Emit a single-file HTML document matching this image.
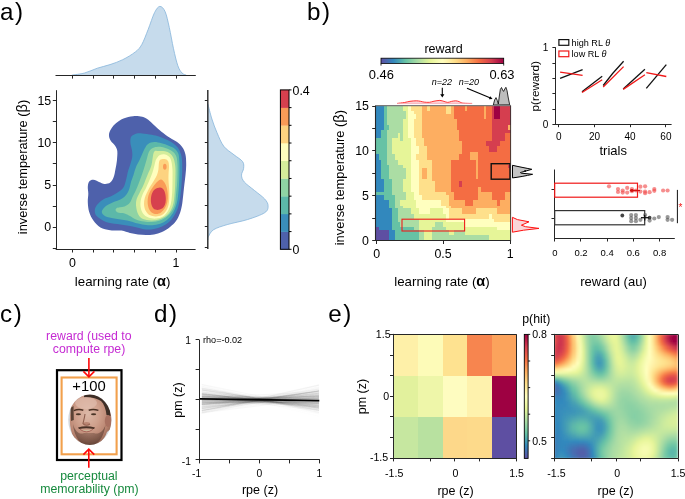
<!DOCTYPE html>
<html><head><meta charset="utf-8"><style>
html,body{margin:0;padding:0;background:#fff;width:685px;height:499px;overflow:hidden}
svg{display:block;will-change:transform}
text{font-family:"Liberation Sans",sans-serif}
</style></head><body>
<svg width="685" height="499" viewBox="0 0 685 499" font-family="Liberation Sans, sans-serif">
<rect width="685" height="499" fill="#fff"/>
<path d="M133.10,116.20 C136.22,115.90 139.68,116.20 142.20,116.80 C144.72,117.40 146.20,118.40 148.20,119.80 C150.20,121.20 151.98,123.20 154.20,125.20 C156.42,127.20 158.88,129.70 161.50,131.80 C164.12,133.90 167.30,136.08 169.90,137.80 C172.50,139.52 175.00,140.48 177.10,142.10 C179.20,143.72 181.10,145.40 182.50,147.50 C183.90,149.60 184.88,151.78 185.50,154.70 C186.12,157.62 186.20,161.62 186.20,165.00 C186.20,168.38 185.82,171.67 185.50,175.00 C185.18,178.33 184.70,181.45 184.30,185.00 C183.90,188.55 183.48,192.97 183.10,196.30 C182.72,199.63 182.52,202.22 182.00,205.00 C181.48,207.78 181.00,210.33 180.00,213.00 C179.00,215.67 177.67,218.67 176.00,221.00 C174.33,223.33 172.33,225.17 170.00,227.00 C167.67,228.83 164.67,230.75 162.00,232.00 C159.33,233.25 156.67,234.00 154.00,234.50 C151.33,235.00 148.67,235.00 146.00,235.00 C143.33,235.00 140.67,234.83 138.00,234.50 C135.33,234.17 132.75,233.65 130.00,233.00 C127.25,232.35 124.80,231.05 121.50,230.60 C118.20,230.15 113.72,230.82 110.20,230.30 C106.68,229.78 103.20,229.13 100.40,227.50 C97.60,225.87 95.27,223.07 93.40,220.50 C91.53,217.93 90.13,215.15 89.20,212.10 C88.27,209.05 87.95,205.25 87.80,202.20 C87.65,199.15 88.30,196.37 88.30,193.80 C88.30,191.23 87.65,188.87 87.80,186.80 C87.95,184.73 88.27,182.57 89.20,181.40 C90.13,180.23 91.77,179.72 93.40,179.80 C95.03,179.88 97.13,181.20 99.00,181.90 C100.87,182.60 102.73,183.88 104.60,184.00 C106.47,184.12 108.68,183.77 110.20,182.60 C111.72,181.43 112.82,179.27 113.70,177.00 C114.58,174.73 114.97,171.72 115.50,169.00 C116.03,166.28 116.60,163.68 116.90,160.70 C117.20,157.72 117.60,153.60 117.30,151.10 C117.00,148.60 116.17,147.40 115.10,145.70 C114.03,144.00 111.92,142.52 110.90,140.90 C109.88,139.28 109.12,137.72 109.00,136.00 C108.88,134.28 109.18,132.60 110.20,130.60 C111.22,128.60 112.88,126.00 115.10,124.00 C117.32,122.00 120.50,119.90 123.50,118.60 C126.50,117.30 129.98,116.50 133.10,116.20Z" fill="#4e61ab" stroke="none" stroke-width="1"/>
<path d="M131.30,136.60 C132.35,135.08 134.88,134.13 136.70,133.60 C138.52,133.07 139.68,133.20 142.20,133.40 C144.72,133.60 149.00,134.27 151.80,134.80 C154.60,135.33 156.58,135.80 159.00,136.60 C161.42,137.40 164.08,138.58 166.30,139.60 C168.52,140.62 170.40,141.38 172.30,142.70 C174.20,144.02 176.30,145.70 177.70,147.50 C179.10,149.30 179.98,151.42 180.70,153.50 C181.42,155.58 181.75,157.25 182.00,160.00 C182.25,162.75 182.28,165.83 182.20,170.00 C182.12,174.17 181.78,180.83 181.50,185.00 C181.22,189.17 180.83,192.33 180.50,195.00 C180.17,197.67 180.00,198.67 179.50,201.00 C179.00,203.33 178.42,206.50 177.50,209.00 C176.58,211.50 175.42,213.83 174.00,216.00 C172.58,218.17 171.00,220.25 169.00,222.00 C167.00,223.75 164.50,225.33 162.00,226.50 C159.50,227.67 156.67,228.50 154.00,229.00 C151.33,229.50 148.50,229.67 146.00,229.50 C143.50,229.33 141.67,228.58 139.00,228.00 C136.33,227.42 133.63,226.67 130.00,226.00 C126.37,225.33 121.20,224.68 117.20,224.00 C113.20,223.32 109.38,223.18 106.00,221.90 C102.62,220.62 98.77,218.17 96.90,216.30 C95.03,214.43 94.80,212.58 94.80,210.70 C94.80,208.82 95.50,206.88 96.90,205.00 C98.30,203.12 100.52,201.03 103.20,199.40 C105.88,197.77 109.72,197.07 113.00,195.20 C116.28,193.33 120.67,191.00 122.90,188.20 C125.13,185.40 125.58,181.10 126.40,178.40 C127.22,175.70 127.08,174.55 127.80,172.00 C128.52,169.45 129.95,165.78 130.70,163.10 C131.45,160.42 132.10,158.10 132.30,155.90 C132.50,153.70 132.22,152.10 131.90,149.90 C131.58,147.70 130.50,144.92 130.40,142.70 C130.30,140.48 130.25,138.12 131.30,136.60Z" fill="#3a8eba" stroke="none" stroke-width="1"/>
<path d="M144.60,148.70 C145.97,146.18 146.60,145.00 148.20,143.90 C149.80,142.80 151.98,142.20 154.20,142.10 C156.42,142.00 159.08,142.70 161.50,143.30 C163.92,143.90 166.50,144.80 168.70,145.70 C170.90,146.60 173.10,147.40 174.70,148.70 C176.30,150.00 177.53,151.53 178.30,153.50 C179.07,155.47 179.10,157.75 179.30,160.50 C179.50,163.25 179.55,165.92 179.50,170.00 C179.45,174.08 179.28,180.33 179.00,185.00 C178.72,189.67 178.30,194.50 177.80,198.00 C177.30,201.50 176.80,203.50 176.00,206.00 C175.20,208.50 174.33,210.83 173.00,213.00 C171.67,215.17 169.83,217.33 168.00,219.00 C166.17,220.67 164.33,222.00 162.00,223.00 C159.67,224.00 156.67,224.67 154.00,225.00 C151.33,225.33 148.67,225.23 146.00,225.00 C143.33,224.77 141.15,224.35 138.00,223.60 C134.85,222.85 131.03,221.37 127.10,220.50 C123.17,219.63 118.03,219.10 114.40,218.40 C110.77,217.70 107.40,217.35 105.30,216.30 C103.20,215.25 101.92,213.62 101.80,212.10 C101.68,210.58 102.97,208.72 104.60,207.20 C106.23,205.68 108.55,204.53 111.60,203.00 C114.65,201.47 120.08,200.00 122.90,198.00 C125.72,196.00 127.15,193.67 128.50,191.00 C129.85,188.33 130.17,184.67 131.00,182.00 C131.83,179.33 132.67,177.50 133.50,175.00 C134.33,172.50 134.92,169.67 136.00,167.00 C137.08,164.33 138.57,162.05 140.00,159.00 C141.43,155.95 143.23,151.22 144.60,148.70Z" fill="#5cb8a9" stroke="none" stroke-width="1"/>
<path d="M149.40,151.10 C150.68,149.02 152.18,148.20 154.20,147.50 C156.22,146.80 159.28,146.70 161.50,146.90 C163.72,147.10 165.50,147.80 167.50,148.70 C169.50,149.60 172.00,150.90 173.50,152.30 C175.00,153.70 175.83,154.98 176.50,157.10 C177.17,159.22 177.33,162.02 177.50,165.00 C177.67,167.98 177.58,171.67 177.50,175.00 C177.42,178.33 177.25,181.67 177.00,185.00 C176.75,188.33 176.33,191.83 176.00,195.00 C175.67,198.17 175.67,201.33 175.00,204.00 C174.33,206.67 173.33,208.92 172.00,211.00 C170.67,213.08 169.00,214.92 167.00,216.50 C165.00,218.08 162.50,219.58 160.00,220.50 C157.50,221.42 154.67,221.83 152.00,222.00 C149.33,222.17 146.67,221.92 144.00,221.50 C141.33,221.08 138.33,220.42 136.00,219.50 C133.67,218.58 131.60,216.88 130.00,216.00 C128.40,215.12 127.60,214.68 126.40,214.20 C125.20,213.72 124.23,213.40 122.80,213.10 C121.37,212.80 119.00,212.88 117.80,212.40 C116.60,211.92 115.82,210.90 115.60,210.20 C115.38,209.50 115.77,208.68 116.50,208.20 C117.23,207.72 118.67,207.60 120.00,207.30 C121.33,207.00 123.17,206.87 124.50,206.40 C125.83,205.93 127.00,205.27 128.00,204.50 C129.00,203.73 129.75,203.05 130.50,201.80 C131.25,200.55 131.58,198.97 132.50,197.00 C133.42,195.03 134.75,192.83 136.00,190.00 C137.25,187.17 138.75,183.33 140.00,180.00 C141.25,176.67 142.42,173.33 143.50,170.00 C144.58,166.67 145.52,163.15 146.50,160.00 C147.48,156.85 148.12,153.18 149.40,151.10Z" fill="#8fd3a4" stroke="none" stroke-width="1"/>
<path d="M154.00,152.00 C155.25,149.67 157.17,151.12 159.00,151.00 C160.83,150.88 163.17,150.88 165.00,151.30 C166.83,151.72 168.63,152.47 170.00,153.50 C171.37,154.53 172.40,155.92 173.20,157.50 C174.00,159.08 174.42,160.92 174.80,163.00 C175.18,165.08 175.43,166.33 175.50,170.00 C175.57,173.67 175.37,180.83 175.20,185.00 C175.03,189.17 174.78,192.00 174.50,195.00 C174.22,198.00 174.08,200.50 173.50,203.00 C172.92,205.50 172.17,207.92 171.00,210.00 C169.83,212.08 168.50,213.92 166.50,215.50 C164.50,217.08 161.58,218.68 159.00,219.50 C156.42,220.32 153.67,220.48 151.00,220.40 C148.33,220.32 145.12,219.98 143.00,219.00 C140.88,218.02 139.43,216.50 138.30,214.50 C137.17,212.50 136.52,209.42 136.20,207.00 C135.88,204.58 135.85,202.33 136.40,200.00 C136.95,197.67 138.32,195.50 139.50,193.00 C140.68,190.50 142.17,188.00 143.50,185.00 C144.83,182.00 146.17,178.33 147.50,175.00 C148.83,171.67 150.42,168.83 151.50,165.00 C152.58,161.17 152.75,154.33 154.00,152.00Z" fill="#d5ed9b" stroke="none" stroke-width="1"/>
<path d="M157.00,158.00 C157.75,157.00 158.67,155.58 160.00,155.00 C161.33,154.42 163.42,154.17 165.00,154.50 C166.58,154.83 168.42,155.75 169.50,157.00 C170.58,158.25 171.00,159.83 171.50,162.00 C172.00,164.17 172.33,167.00 172.50,170.00 C172.67,173.00 172.53,176.67 172.50,180.00 C172.47,183.33 172.42,187.17 172.30,190.00 C172.18,192.83 172.05,194.67 171.80,197.00 C171.55,199.33 171.43,201.67 170.80,204.00 C170.17,206.33 169.30,208.92 168.00,211.00 C166.70,213.08 165.00,215.23 163.00,216.50 C161.00,217.77 158.42,218.42 156.00,218.60 C153.58,218.78 150.67,218.45 148.50,217.60 C146.33,216.75 144.32,215.27 143.00,213.50 C141.68,211.73 140.97,209.25 140.60,207.00 C140.23,204.75 140.43,202.17 140.80,200.00 C141.17,197.83 141.93,196.00 142.80,194.00 C143.67,192.00 144.88,190.33 146.00,188.00 C147.12,185.67 148.45,182.50 149.50,180.00 C150.55,177.50 151.50,175.33 152.30,173.00 C153.10,170.67 153.77,168.00 154.30,166.00 C154.83,164.00 155.05,162.33 155.50,161.00 C155.95,159.67 156.25,159.00 157.00,158.00Z" fill="#fffebe" stroke="none" stroke-width="1"/>
<path d="M160.00,160.00 C160.95,159.17 163.17,158.83 164.50,159.00 C165.83,159.17 167.25,159.83 168.00,161.00 C168.75,162.17 168.90,164.00 169.00,166.00 C169.10,168.00 168.68,170.67 168.60,173.00 C168.52,175.33 168.40,177.17 168.50,180.00 C168.60,182.83 169.07,187.00 169.20,190.00 C169.33,193.00 169.42,195.50 169.30,198.00 C169.18,200.50 169.05,202.83 168.50,205.00 C167.95,207.17 167.17,209.28 166.00,211.00 C164.83,212.72 163.25,214.40 161.50,215.30 C159.75,216.20 157.50,216.45 155.50,216.40 C153.50,216.35 151.17,215.98 149.50,215.00 C147.83,214.02 146.42,212.33 145.50,210.50 C144.58,208.67 144.12,206.08 144.00,204.00 C143.88,201.92 144.30,199.92 144.80,198.00 C145.30,196.08 146.05,194.50 147.00,192.50 C147.95,190.50 149.33,188.00 150.50,186.00 C151.67,184.00 152.92,182.33 154.00,180.50 C155.08,178.67 156.25,176.92 157.00,175.00 C157.75,173.08 158.20,170.83 158.50,169.00 C158.80,167.17 158.55,165.50 158.80,164.00 C159.05,162.50 159.05,160.83 160.00,160.00Z" fill="#fdd380" stroke="none" stroke-width="1"/>
<path d="M161.00,179.50 C162.25,179.58 163.53,181.08 164.50,182.50 C165.47,183.92 166.25,185.92 166.80,188.00 C167.35,190.08 167.72,192.67 167.80,195.00 C167.88,197.33 167.77,199.83 167.30,202.00 C166.83,204.17 166.05,206.25 165.00,208.00 C163.95,209.75 162.42,211.50 161.00,212.50 C159.58,213.50 158.00,213.95 156.50,214.00 C155.00,214.05 153.28,213.72 152.00,212.80 C150.72,211.88 149.53,210.30 148.80,208.50 C148.07,206.70 147.68,204.08 147.60,202.00 C147.52,199.92 147.85,197.83 148.30,196.00 C148.75,194.17 149.47,192.58 150.30,191.00 C151.13,189.42 152.18,188.00 153.30,186.50 C154.42,185.00 155.72,183.17 157.00,182.00 C158.28,180.83 159.75,179.42 161.00,179.50Z" fill="#f99b57" stroke="none" stroke-width="1"/>
<path d="M160.00,187.60 C161.42,187.63 162.62,188.43 163.50,189.50 C164.38,190.57 164.92,192.25 165.30,194.00 C165.68,195.75 165.88,198.17 165.80,200.00 C165.72,201.83 165.43,203.57 164.80,205.00 C164.17,206.43 163.22,207.78 162.00,208.60 C160.78,209.42 158.92,209.92 157.50,209.90 C156.08,209.88 154.53,209.48 153.50,208.50 C152.47,207.52 151.73,205.58 151.30,204.00 C150.87,202.42 150.78,200.75 150.90,199.00 C151.02,197.25 151.32,195.12 152.00,193.50 C152.68,191.88 153.67,190.28 155.00,189.30 C156.33,188.32 158.58,187.57 160.00,187.60Z" fill="#d6404e" stroke="none" stroke-width="1"/>
<ellipse cx="164.8" cy="166.8" rx="1.8" ry="3" fill="#f99b57"/>
<text x="0.00" y="20.00" font-size="24.2" text-anchor="start" fill="#000">a<tspan dx="1.6">)</tspan></text>
<path d="M71.90,75.10 C74.02,74.75 80.37,74.15 84.60,73.00 C88.83,71.85 93.07,69.60 97.30,68.20 C101.53,66.80 105.77,66.02 110.00,64.60 C114.23,63.18 118.47,61.82 122.70,59.70 C126.93,57.58 132.22,54.43 135.40,51.90 C138.58,49.37 139.68,48.22 141.80,44.50 C143.92,40.78 145.98,34.90 148.10,29.60 C150.22,24.30 152.55,16.57 154.50,12.70 C156.45,8.83 158.03,6.58 159.80,6.40 C161.57,6.22 163.52,8.08 165.10,11.60 C166.68,15.12 167.90,21.32 169.30,27.50 C170.70,33.68 172.08,42.35 173.50,48.70 C174.92,55.05 176.38,61.55 177.80,65.60 C179.22,69.65 180.60,71.42 182.00,73.00 C183.40,74.58 185.50,74.75 186.20,75.10 Z" fill="#c6dbec" stroke="none" stroke-width="1"/>
<path d="M71.90,75.10 C74.02,74.75 80.37,74.15 84.60,73.00 C88.83,71.85 93.07,69.60 97.30,68.20 C101.53,66.80 105.77,66.02 110.00,64.60 C114.23,63.18 118.47,61.82 122.70,59.70 C126.93,57.58 132.22,54.43 135.40,51.90 C138.58,49.37 139.68,48.22 141.80,44.50 C143.92,40.78 145.98,34.90 148.10,29.60 C150.22,24.30 152.55,16.57 154.50,12.70 C156.45,8.83 158.03,6.58 159.80,6.40 C161.57,6.22 163.52,8.08 165.10,11.60 C166.68,15.12 167.90,21.32 169.30,27.50 C170.70,33.68 172.08,42.35 173.50,48.70 C174.92,55.05 176.38,61.55 177.80,65.60 C179.22,69.65 180.60,71.42 182.00,73.00 C183.40,74.58 185.50,74.75 186.20,75.10" fill="none" stroke="#86b5da" stroke-width="0.8"/>
<line x1="55.50" y1="75.50" x2="195.80" y2="75.50" stroke="#262626" stroke-width="1"/>
<line x1="72.50" y1="75.30" x2="72.50" y2="78.60" stroke="#262626" stroke-width="1"/>
<line x1="93.50" y1="75.30" x2="93.50" y2="78.60" stroke="#262626" stroke-width="1"/>
<line x1="113.50" y1="75.30" x2="113.50" y2="78.60" stroke="#262626" stroke-width="1"/>
<line x1="134.50" y1="75.30" x2="134.50" y2="78.60" stroke="#262626" stroke-width="1"/>
<line x1="155.50" y1="75.30" x2="155.50" y2="78.60" stroke="#262626" stroke-width="1"/>
<line x1="176.50" y1="75.30" x2="176.50" y2="78.60" stroke="#262626" stroke-width="1"/>
<line x1="56.50" y1="90.20" x2="56.50" y2="250.00" stroke="#262626" stroke-width="1"/>
<line x1="55.70" y1="249.50" x2="195.60" y2="249.50" stroke="#262626" stroke-width="1"/>
<line x1="52.80" y1="248.50" x2="56.20" y2="248.50" stroke="#262626" stroke-width="1"/>
<line x1="52.80" y1="227.50" x2="56.20" y2="227.50" stroke="#262626" stroke-width="1"/>
<line x1="52.80" y1="206.50" x2="56.20" y2="206.50" stroke="#262626" stroke-width="1"/>
<line x1="52.80" y1="185.50" x2="56.20" y2="185.50" stroke="#262626" stroke-width="1"/>
<line x1="52.80" y1="163.50" x2="56.20" y2="163.50" stroke="#262626" stroke-width="1"/>
<line x1="52.80" y1="142.50" x2="56.20" y2="142.50" stroke="#262626" stroke-width="1"/>
<line x1="52.80" y1="121.50" x2="56.20" y2="121.50" stroke="#262626" stroke-width="1"/>
<line x1="52.80" y1="100.50" x2="56.20" y2="100.50" stroke="#262626" stroke-width="1"/>
<line x1="72.50" y1="249.30" x2="72.50" y2="252.50" stroke="#262626" stroke-width="1"/>
<line x1="93.50" y1="249.30" x2="93.50" y2="252.50" stroke="#262626" stroke-width="1"/>
<line x1="113.50" y1="249.30" x2="113.50" y2="252.50" stroke="#262626" stroke-width="1"/>
<line x1="134.50" y1="249.30" x2="134.50" y2="252.50" stroke="#262626" stroke-width="1"/>
<line x1="155.50" y1="249.30" x2="155.50" y2="252.50" stroke="#262626" stroke-width="1"/>
<line x1="176.50" y1="249.30" x2="176.50" y2="252.50" stroke="#262626" stroke-width="1"/>
<text x="51.20" y="104.90" font-size="12.4" text-anchor="end" fill="#000">15</text>
<text x="51.20" y="146.90" font-size="12.4" text-anchor="end" fill="#000">10</text>
<text x="51.20" y="188.90" font-size="12.4" text-anchor="end" fill="#000">5</text>
<text x="51.20" y="230.90" font-size="12.4" text-anchor="end" fill="#000">0</text>
<text x="72.40" y="266.70" font-size="12.4" text-anchor="middle" fill="#000">0</text>
<text x="176.00" y="266.70" font-size="12.4" text-anchor="middle" fill="#000">1</text>
<text x="122.60" y="285.90" font-size="13.3" text-anchor="middle" fill="#000">learning rate (<tspan font-size="14.6" font-weight="bold">α</tspan>)</text>
<text x="26.60" y="167.00" font-size="12.8" text-anchor="middle" fill="#000" transform="rotate(-90 26.6 167)">inverse temperature (<tspan font-size="14.7">β</tspan>)</text>
<path d="M207.80,103.70 C208.48,106.25 210.37,114.17 211.90,119.00 C213.43,123.83 215.02,128.15 217.00,132.70 C218.98,137.25 220.97,142.62 223.80,146.30 C226.63,149.98 230.87,152.25 234.00,154.80 C237.13,157.35 241.00,159.33 242.60,161.60 C244.20,163.87 243.78,166.13 243.60,168.40 C243.42,170.67 241.38,172.93 241.50,175.20 C241.62,177.47 242.13,179.45 244.30,182.00 C246.47,184.55 251.10,187.67 254.50,190.50 C257.90,193.33 262.43,196.43 264.70,199.00 C266.97,201.57 268.10,203.62 268.10,205.90 C268.10,208.18 268.10,210.43 264.70,212.70 C261.30,214.97 253.95,217.52 247.70,219.50 C241.45,221.48 232.88,222.90 227.20,224.60 C221.52,226.30 216.72,227.72 213.60,229.70 C210.48,231.68 209.47,234.78 208.50,236.50 C207.53,238.22 207.92,239.42 207.80,240.00 Z" fill="#c6dbec" stroke="none" stroke-width="1"/>
<path d="M207.80,103.70 C208.48,106.25 210.37,114.17 211.90,119.00 C213.43,123.83 215.02,128.15 217.00,132.70 C218.98,137.25 220.97,142.62 223.80,146.30 C226.63,149.98 230.87,152.25 234.00,154.80 C237.13,157.35 241.00,159.33 242.60,161.60 C244.20,163.87 243.78,166.13 243.60,168.40 C243.42,170.67 241.38,172.93 241.50,175.20 C241.62,177.47 242.13,179.45 244.30,182.00 C246.47,184.55 251.10,187.67 254.50,190.50 C257.90,193.33 262.43,196.43 264.70,199.00 C266.97,201.57 268.10,203.62 268.10,205.90 C268.10,208.18 268.10,210.43 264.70,212.70 C261.30,214.97 253.95,217.52 247.70,219.50 C241.45,221.48 232.88,222.90 227.20,224.60 C221.52,226.30 216.72,227.72 213.60,229.70 C210.48,231.68 209.47,234.78 208.50,236.50 C207.53,238.22 207.92,239.42 207.80,240.00" fill="none" stroke="#86b5da" stroke-width="0.8"/>
<line x1="207.80" y1="90.10" x2="207.80" y2="249.00" stroke="#262626" stroke-width="1.4"/>
<line x1="204.80" y1="247.50" x2="208.00" y2="247.50" stroke="#262626" stroke-width="1"/>
<line x1="204.80" y1="226.50" x2="208.00" y2="226.50" stroke="#262626" stroke-width="1"/>
<line x1="204.80" y1="205.50" x2="208.00" y2="205.50" stroke="#262626" stroke-width="1"/>
<line x1="204.80" y1="184.50" x2="208.00" y2="184.50" stroke="#262626" stroke-width="1"/>
<line x1="204.80" y1="163.50" x2="208.00" y2="163.50" stroke="#262626" stroke-width="1"/>
<line x1="204.80" y1="142.50" x2="208.00" y2="142.50" stroke="#262626" stroke-width="1"/>
<line x1="204.80" y1="121.50" x2="208.00" y2="121.50" stroke="#262626" stroke-width="1"/>
<line x1="204.80" y1="100.50" x2="208.00" y2="100.50" stroke="#262626" stroke-width="1"/>
<rect x="280.40" y="231.59" width="8.60" height="18.01" fill="#4e61ab" stroke="none" stroke-width="1"/>
<rect x="280.40" y="213.88" width="8.60" height="18.01" fill="#3a8eba" stroke="none" stroke-width="1"/>
<rect x="280.40" y="196.17" width="8.60" height="18.01" fill="#5cb8a9" stroke="none" stroke-width="1"/>
<rect x="280.40" y="178.46" width="8.60" height="18.01" fill="#8fd3a4" stroke="none" stroke-width="1"/>
<rect x="280.40" y="160.74" width="8.60" height="18.01" fill="#d5ed9b" stroke="none" stroke-width="1"/>
<rect x="280.40" y="143.03" width="8.60" height="18.01" fill="#fffebe" stroke="none" stroke-width="1"/>
<rect x="280.40" y="125.32" width="8.60" height="18.01" fill="#fdd380" stroke="none" stroke-width="1"/>
<rect x="280.40" y="107.61" width="8.60" height="18.01" fill="#f99b57" stroke="none" stroke-width="1"/>
<rect x="280.40" y="89.90" width="8.60" height="18.01" fill="#d6404e" stroke="none" stroke-width="1"/>
<rect x="280.40" y="89.90" width="8.60" height="159.40" fill="none" stroke="#000" stroke-width="1"/>
<line x1="289.00" y1="249.30" x2="291.50" y2="249.30" stroke="#000" stroke-width="1"/>
<line x1="289.00" y1="231.59" x2="291.50" y2="231.59" stroke="#000" stroke-width="1"/>
<line x1="289.00" y1="213.88" x2="291.50" y2="213.88" stroke="#000" stroke-width="1"/>
<line x1="289.00" y1="196.17" x2="291.50" y2="196.17" stroke="#000" stroke-width="1"/>
<line x1="289.00" y1="178.46" x2="291.50" y2="178.46" stroke="#000" stroke-width="1"/>
<line x1="289.00" y1="160.74" x2="291.50" y2="160.74" stroke="#000" stroke-width="1"/>
<line x1="289.00" y1="143.03" x2="291.50" y2="143.03" stroke="#000" stroke-width="1"/>
<line x1="289.00" y1="125.32" x2="291.50" y2="125.32" stroke="#000" stroke-width="1"/>
<line x1="289.00" y1="107.61" x2="291.50" y2="107.61" stroke="#000" stroke-width="1"/>
<line x1="289.00" y1="89.90" x2="291.50" y2="89.90" stroke="#000" stroke-width="1"/>
<text x="292.50" y="95.20" font-size="12.4" text-anchor="start" fill="#000">0.4</text>
<text x="292.50" y="253.60" font-size="12.4" text-anchor="start" fill="#000">0</text>
<text x="307.00" y="20.00" font-size="24.2" text-anchor="start" fill="#000">b<tspan dx="1.6">)</tspan></text>
<g shape-rendering="crispEdges"><rect x="376.00" y="106.00" width="8.47" height="3.09" fill="#3288bd"/><rect x="384.07" y="106.00" width="3.09" height="3.09" fill="#66c2a5"/><rect x="386.76" y="106.00" width="16.54" height="3.09" fill="#abdda4"/><rect x="402.90" y="106.00" width="5.78" height="3.09" fill="#e6f598"/><rect x="408.28" y="106.00" width="3.09" height="3.09" fill="#ffffbf"/><rect x="410.97" y="106.00" width="11.16" height="3.09" fill="#fee08b"/><rect x="421.73" y="106.00" width="5.78" height="3.09" fill="#fdae61"/><rect x="427.11" y="106.00" width="3.09" height="3.09" fill="#fee08b"/><rect x="429.80" y="106.00" width="16.54" height="3.09" fill="#fdae61"/><rect x="445.94" y="106.00" width="5.78" height="3.09" fill="#fee08b"/><rect x="451.32" y="106.00" width="3.09" height="3.09" fill="#fdae61"/><rect x="454.01" y="106.00" width="11.16" height="3.09" fill="#f46d43"/><rect x="464.77" y="106.00" width="3.09" height="3.09" fill="#fdae61"/><rect x="467.46" y="106.00" width="16.54" height="3.09" fill="#f46d43"/><rect x="483.60" y="106.00" width="3.09" height="3.09" fill="#fdae61"/><rect x="486.29" y="106.00" width="5.78" height="3.09" fill="#f46d43"/><rect x="491.67" y="106.00" width="3.09" height="3.09" fill="#d53e4f"/><rect x="494.36" y="106.00" width="5.78" height="3.09" fill="#9e0142"/><rect x="499.74" y="106.00" width="11.16" height="3.09" fill="#d53e4f"/><rect x="376.00" y="108.69" width="8.47" height="3.09" fill="#3288bd"/><rect x="384.07" y="108.69" width="3.09" height="3.09" fill="#66c2a5"/><rect x="386.76" y="108.69" width="16.54" height="3.09" fill="#abdda4"/><rect x="402.90" y="108.69" width="5.78" height="3.09" fill="#e6f598"/><rect x="408.28" y="108.69" width="3.09" height="3.09" fill="#ffffbf"/><rect x="410.97" y="108.69" width="11.16" height="3.09" fill="#fee08b"/><rect x="421.73" y="108.69" width="5.78" height="3.09" fill="#fdae61"/><rect x="427.11" y="108.69" width="3.09" height="3.09" fill="#fee08b"/><rect x="429.80" y="108.69" width="16.54" height="3.09" fill="#fdae61"/><rect x="445.94" y="108.69" width="5.78" height="3.09" fill="#fee08b"/><rect x="451.32" y="108.69" width="3.09" height="3.09" fill="#fdae61"/><rect x="454.01" y="108.69" width="11.16" height="3.09" fill="#f46d43"/><rect x="464.77" y="108.69" width="3.09" height="3.09" fill="#fdae61"/><rect x="467.46" y="108.69" width="16.54" height="3.09" fill="#f46d43"/><rect x="483.60" y="108.69" width="3.09" height="3.09" fill="#fdae61"/><rect x="486.29" y="108.69" width="5.78" height="3.09" fill="#f46d43"/><rect x="491.67" y="108.69" width="3.09" height="3.09" fill="#d53e4f"/><rect x="494.36" y="108.69" width="5.78" height="3.09" fill="#9e0142"/><rect x="499.74" y="108.69" width="11.16" height="3.09" fill="#d53e4f"/><rect x="376.00" y="111.38" width="8.47" height="3.09" fill="#3288bd"/><rect x="384.07" y="111.38" width="3.09" height="3.09" fill="#66c2a5"/><rect x="386.76" y="111.38" width="19.23" height="3.09" fill="#abdda4"/><rect x="405.59" y="111.38" width="3.09" height="3.09" fill="#e6f598"/><rect x="408.28" y="111.38" width="5.78" height="3.09" fill="#ffffbf"/><rect x="413.66" y="111.38" width="8.47" height="3.09" fill="#fee08b"/><rect x="421.73" y="111.38" width="24.61" height="3.09" fill="#fdae61"/><rect x="445.94" y="111.38" width="5.78" height="3.09" fill="#fee08b"/><rect x="451.32" y="111.38" width="3.09" height="3.09" fill="#fdae61"/><rect x="454.01" y="111.38" width="29.99" height="3.09" fill="#f46d43"/><rect x="483.60" y="111.38" width="3.09" height="3.09" fill="#fdae61"/><rect x="486.29" y="111.38" width="5.78" height="3.09" fill="#f46d43"/><rect x="491.67" y="111.38" width="3.09" height="3.09" fill="#d53e4f"/><rect x="494.36" y="111.38" width="5.78" height="3.09" fill="#9e0142"/><rect x="499.74" y="111.38" width="11.16" height="3.09" fill="#d53e4f"/><rect x="376.00" y="114.07" width="8.47" height="3.09" fill="#3288bd"/><rect x="384.07" y="114.07" width="3.09" height="3.09" fill="#66c2a5"/><rect x="386.76" y="114.07" width="19.23" height="3.09" fill="#abdda4"/><rect x="405.59" y="114.07" width="3.09" height="3.09" fill="#e6f598"/><rect x="408.28" y="114.07" width="8.47" height="3.09" fill="#ffffbf"/><rect x="416.35" y="114.07" width="5.78" height="3.09" fill="#fee08b"/><rect x="421.73" y="114.07" width="32.68" height="3.09" fill="#fdae61"/><rect x="454.01" y="114.07" width="29.99" height="3.09" fill="#f46d43"/><rect x="483.60" y="114.07" width="3.09" height="3.09" fill="#fdae61"/><rect x="486.29" y="114.07" width="5.78" height="3.09" fill="#f46d43"/><rect x="491.67" y="114.07" width="3.09" height="3.09" fill="#d53e4f"/><rect x="494.36" y="114.07" width="5.78" height="3.09" fill="#9e0142"/><rect x="499.74" y="114.07" width="11.16" height="3.09" fill="#d53e4f"/><rect x="376.00" y="116.76" width="8.47" height="3.09" fill="#3288bd"/><rect x="384.07" y="116.76" width="3.09" height="3.09" fill="#66c2a5"/><rect x="386.76" y="116.76" width="19.23" height="3.09" fill="#abdda4"/><rect x="405.59" y="116.76" width="3.09" height="3.09" fill="#e6f598"/><rect x="408.28" y="116.76" width="8.47" height="3.09" fill="#ffffbf"/><rect x="416.35" y="116.76" width="5.78" height="3.09" fill="#fee08b"/><rect x="421.73" y="116.76" width="32.68" height="3.09" fill="#fdae61"/><rect x="454.01" y="116.76" width="29.99" height="3.09" fill="#f46d43"/><rect x="483.60" y="116.76" width="3.09" height="3.09" fill="#fdae61"/><rect x="486.29" y="116.76" width="5.78" height="3.09" fill="#f46d43"/><rect x="491.67" y="116.76" width="3.09" height="3.09" fill="#d53e4f"/><rect x="494.36" y="116.76" width="5.78" height="3.09" fill="#9e0142"/><rect x="499.74" y="116.76" width="11.16" height="3.09" fill="#d53e4f"/><rect x="376.00" y="119.45" width="8.47" height="3.09" fill="#3288bd"/><rect x="384.07" y="119.45" width="3.09" height="3.09" fill="#66c2a5"/><rect x="386.76" y="119.45" width="16.54" height="3.09" fill="#abdda4"/><rect x="402.90" y="119.45" width="5.78" height="3.09" fill="#e6f598"/><rect x="408.28" y="119.45" width="5.78" height="3.09" fill="#ffffbf"/><rect x="413.66" y="119.45" width="8.47" height="3.09" fill="#fee08b"/><rect x="421.73" y="119.45" width="35.37" height="3.09" fill="#fdae61"/><rect x="456.70" y="119.45" width="35.37" height="3.09" fill="#f46d43"/><rect x="491.67" y="119.45" width="19.23" height="3.09" fill="#d53e4f"/><rect x="376.00" y="122.14" width="8.47" height="3.09" fill="#3288bd"/><rect x="384.07" y="122.14" width="3.09" height="3.09" fill="#66c2a5"/><rect x="386.76" y="122.14" width="16.54" height="3.09" fill="#abdda4"/><rect x="402.90" y="122.14" width="5.78" height="3.09" fill="#e6f598"/><rect x="408.28" y="122.14" width="5.78" height="3.09" fill="#ffffbf"/><rect x="413.66" y="122.14" width="8.47" height="3.09" fill="#fee08b"/><rect x="421.73" y="122.14" width="35.37" height="3.09" fill="#fdae61"/><rect x="456.70" y="122.14" width="35.37" height="3.09" fill="#f46d43"/><rect x="491.67" y="122.14" width="19.23" height="3.09" fill="#d53e4f"/><rect x="376.00" y="124.83" width="8.47" height="3.09" fill="#3288bd"/><rect x="384.07" y="124.83" width="5.78" height="3.09" fill="#66c2a5"/><rect x="389.45" y="124.83" width="13.85" height="3.09" fill="#abdda4"/><rect x="402.90" y="124.83" width="5.78" height="3.09" fill="#e6f598"/><rect x="408.28" y="124.83" width="5.78" height="3.09" fill="#ffffbf"/><rect x="413.66" y="124.83" width="8.47" height="3.09" fill="#fee08b"/><rect x="421.73" y="124.83" width="35.37" height="3.09" fill="#fdae61"/><rect x="456.70" y="124.83" width="35.37" height="3.09" fill="#f46d43"/><rect x="491.67" y="124.83" width="16.54" height="3.09" fill="#d53e4f"/><rect x="507.81" y="124.83" width="3.09" height="3.09" fill="#fdae61"/><rect x="376.00" y="127.52" width="8.47" height="3.09" fill="#3288bd"/><rect x="384.07" y="127.52" width="5.78" height="3.09" fill="#66c2a5"/><rect x="389.45" y="127.52" width="13.85" height="3.09" fill="#abdda4"/><rect x="402.90" y="127.52" width="5.78" height="3.09" fill="#e6f598"/><rect x="408.28" y="127.52" width="5.78" height="3.09" fill="#ffffbf"/><rect x="413.66" y="127.52" width="8.47" height="3.09" fill="#fee08b"/><rect x="421.73" y="127.52" width="35.37" height="3.09" fill="#fdae61"/><rect x="456.70" y="127.52" width="35.37" height="3.09" fill="#f46d43"/><rect x="491.67" y="127.52" width="16.54" height="3.09" fill="#d53e4f"/><rect x="507.81" y="127.52" width="3.09" height="3.09" fill="#fdae61"/><rect x="376.00" y="130.21" width="5.78" height="3.09" fill="#3288bd"/><rect x="381.38" y="130.21" width="5.78" height="3.09" fill="#66c2a5"/><rect x="386.76" y="130.21" width="16.54" height="3.09" fill="#abdda4"/><rect x="402.90" y="130.21" width="5.78" height="3.09" fill="#e6f598"/><rect x="408.28" y="130.21" width="5.78" height="3.09" fill="#ffffbf"/><rect x="413.66" y="130.21" width="8.47" height="3.09" fill="#fee08b"/><rect x="421.73" y="130.21" width="38.06" height="3.09" fill="#fdae61"/><rect x="459.39" y="130.21" width="32.68" height="3.09" fill="#f46d43"/><rect x="491.67" y="130.21" width="19.23" height="3.09" fill="#d53e4f"/><rect x="376.00" y="132.90" width="5.78" height="3.09" fill="#3288bd"/><rect x="381.38" y="132.90" width="5.78" height="3.09" fill="#66c2a5"/><rect x="386.76" y="132.90" width="11.16" height="3.09" fill="#abdda4"/><rect x="397.52" y="132.90" width="3.09" height="3.09" fill="#e6f598"/><rect x="400.21" y="132.90" width="3.09" height="3.09" fill="#abdda4"/><rect x="402.90" y="132.90" width="5.78" height="3.09" fill="#e6f598"/><rect x="408.28" y="132.90" width="5.78" height="3.09" fill="#ffffbf"/><rect x="413.66" y="132.90" width="8.47" height="3.09" fill="#fee08b"/><rect x="421.73" y="132.90" width="38.06" height="3.09" fill="#fdae61"/><rect x="459.39" y="132.90" width="32.68" height="3.09" fill="#f46d43"/><rect x="491.67" y="132.90" width="13.85" height="3.09" fill="#d53e4f"/><rect x="505.12" y="132.90" width="5.78" height="3.09" fill="#f46d43"/><rect x="376.00" y="135.59" width="5.78" height="3.09" fill="#3288bd"/><rect x="381.38" y="135.59" width="5.78" height="3.09" fill="#66c2a5"/><rect x="386.76" y="135.59" width="11.16" height="3.09" fill="#abdda4"/><rect x="397.52" y="135.59" width="3.09" height="3.09" fill="#e6f598"/><rect x="400.21" y="135.59" width="3.09" height="3.09" fill="#abdda4"/><rect x="402.90" y="135.59" width="5.78" height="3.09" fill="#e6f598"/><rect x="408.28" y="135.59" width="5.78" height="3.09" fill="#ffffbf"/><rect x="413.66" y="135.59" width="8.47" height="3.09" fill="#fee08b"/><rect x="421.73" y="135.59" width="38.06" height="3.09" fill="#fdae61"/><rect x="459.39" y="135.59" width="32.68" height="3.09" fill="#f46d43"/><rect x="491.67" y="135.59" width="13.85" height="3.09" fill="#d53e4f"/><rect x="505.12" y="135.59" width="5.78" height="3.09" fill="#f46d43"/><rect x="376.00" y="138.28" width="11.16" height="3.09" fill="#66c2a5"/><rect x="386.76" y="138.28" width="5.78" height="3.09" fill="#abdda4"/><rect x="392.14" y="138.28" width="8.47" height="3.09" fill="#e6f598"/><rect x="400.21" y="138.28" width="3.09" height="3.09" fill="#abdda4"/><rect x="402.90" y="138.28" width="8.47" height="3.09" fill="#e6f598"/><rect x="410.97" y="138.28" width="5.78" height="3.09" fill="#ffffbf"/><rect x="416.35" y="138.28" width="8.47" height="3.09" fill="#fee08b"/><rect x="424.42" y="138.28" width="35.37" height="3.09" fill="#fdae61"/><rect x="459.39" y="138.28" width="32.68" height="3.09" fill="#f46d43"/><rect x="491.67" y="138.28" width="13.85" height="3.09" fill="#d53e4f"/><rect x="505.12" y="138.28" width="5.78" height="3.09" fill="#f46d43"/><rect x="376.00" y="140.97" width="11.16" height="3.09" fill="#66c2a5"/><rect x="386.76" y="140.97" width="5.78" height="3.09" fill="#abdda4"/><rect x="392.14" y="140.97" width="19.23" height="3.09" fill="#e6f598"/><rect x="410.97" y="140.97" width="5.78" height="3.09" fill="#ffffbf"/><rect x="416.35" y="140.97" width="8.47" height="3.09" fill="#fee08b"/><rect x="424.42" y="140.97" width="38.06" height="3.09" fill="#fdae61"/><rect x="462.08" y="140.97" width="24.61" height="3.09" fill="#f46d43"/><rect x="486.29" y="140.97" width="13.85" height="3.09" fill="#d53e4f"/><rect x="499.74" y="140.97" width="11.16" height="3.09" fill="#f46d43"/><rect x="376.00" y="143.66" width="11.16" height="3.09" fill="#66c2a5"/><rect x="386.76" y="143.66" width="5.78" height="3.09" fill="#abdda4"/><rect x="392.14" y="143.66" width="19.23" height="3.09" fill="#e6f598"/><rect x="410.97" y="143.66" width="5.78" height="3.09" fill="#ffffbf"/><rect x="416.35" y="143.66" width="8.47" height="3.09" fill="#fee08b"/><rect x="424.42" y="143.66" width="38.06" height="3.09" fill="#fdae61"/><rect x="462.08" y="143.66" width="24.61" height="3.09" fill="#f46d43"/><rect x="486.29" y="143.66" width="13.85" height="3.09" fill="#d53e4f"/><rect x="499.74" y="143.66" width="11.16" height="3.09" fill="#f46d43"/><rect x="376.00" y="146.35" width="11.16" height="3.09" fill="#66c2a5"/><rect x="386.76" y="146.35" width="5.78" height="3.09" fill="#abdda4"/><rect x="392.14" y="146.35" width="19.23" height="3.09" fill="#e6f598"/><rect x="410.97" y="146.35" width="8.47" height="3.09" fill="#ffffbf"/><rect x="419.04" y="146.35" width="8.47" height="3.09" fill="#fee08b"/><rect x="427.11" y="146.35" width="35.37" height="3.09" fill="#fdae61"/><rect x="462.08" y="146.35" width="27.30" height="3.09" fill="#f46d43"/><rect x="488.98" y="146.35" width="8.47" height="3.09" fill="#d53e4f"/><rect x="497.05" y="146.35" width="13.85" height="3.09" fill="#f46d43"/><rect x="376.00" y="149.04" width="11.16" height="3.09" fill="#66c2a5"/><rect x="386.76" y="149.04" width="5.78" height="3.09" fill="#abdda4"/><rect x="392.14" y="149.04" width="19.23" height="3.09" fill="#e6f598"/><rect x="410.97" y="149.04" width="8.47" height="3.09" fill="#ffffbf"/><rect x="419.04" y="149.04" width="8.47" height="3.09" fill="#fee08b"/><rect x="427.11" y="149.04" width="35.37" height="3.09" fill="#fdae61"/><rect x="462.08" y="149.04" width="27.30" height="3.09" fill="#f46d43"/><rect x="488.98" y="149.04" width="8.47" height="3.09" fill="#d53e4f"/><rect x="497.05" y="149.04" width="13.85" height="3.09" fill="#f46d43"/><rect x="376.00" y="151.73" width="11.16" height="3.09" fill="#66c2a5"/><rect x="386.76" y="151.73" width="5.78" height="3.09" fill="#abdda4"/><rect x="392.14" y="151.73" width="19.23" height="3.09" fill="#e6f598"/><rect x="410.97" y="151.73" width="8.47" height="3.09" fill="#ffffbf"/><rect x="419.04" y="151.73" width="8.47" height="3.09" fill="#fee08b"/><rect x="427.11" y="151.73" width="35.37" height="3.09" fill="#fdae61"/><rect x="462.08" y="151.73" width="8.47" height="3.09" fill="#f46d43"/><rect x="470.15" y="151.73" width="8.47" height="3.09" fill="#fdae61"/><rect x="478.22" y="151.73" width="32.68" height="3.09" fill="#f46d43"/><rect x="376.00" y="154.42" width="3.09" height="3.09" fill="#3288bd"/><rect x="378.69" y="154.42" width="8.47" height="3.09" fill="#66c2a5"/><rect x="386.76" y="154.42" width="8.47" height="3.09" fill="#abdda4"/><rect x="394.83" y="154.42" width="16.54" height="3.09" fill="#e6f598"/><rect x="410.97" y="154.42" width="5.78" height="3.09" fill="#ffffbf"/><rect x="416.35" y="154.42" width="11.16" height="3.09" fill="#fee08b"/><rect x="427.11" y="154.42" width="32.68" height="3.09" fill="#fdae61"/><rect x="459.39" y="154.42" width="11.16" height="3.09" fill="#f46d43"/><rect x="470.15" y="154.42" width="8.47" height="3.09" fill="#fdae61"/><rect x="478.22" y="154.42" width="32.68" height="3.09" fill="#f46d43"/><rect x="376.00" y="157.11" width="3.09" height="3.09" fill="#3288bd"/><rect x="378.69" y="157.11" width="8.47" height="3.09" fill="#66c2a5"/><rect x="386.76" y="157.11" width="8.47" height="3.09" fill="#abdda4"/><rect x="394.83" y="157.11" width="16.54" height="3.09" fill="#e6f598"/><rect x="410.97" y="157.11" width="5.78" height="3.09" fill="#ffffbf"/><rect x="416.35" y="157.11" width="11.16" height="3.09" fill="#fee08b"/><rect x="427.11" y="157.11" width="32.68" height="3.09" fill="#fdae61"/><rect x="459.39" y="157.11" width="11.16" height="3.09" fill="#f46d43"/><rect x="470.15" y="157.11" width="8.47" height="3.09" fill="#fdae61"/><rect x="478.22" y="157.11" width="32.68" height="3.09" fill="#f46d43"/><rect x="376.00" y="159.80" width="5.78" height="3.09" fill="#3288bd"/><rect x="381.38" y="159.80" width="5.78" height="3.09" fill="#66c2a5"/><rect x="386.76" y="159.80" width="11.16" height="3.09" fill="#abdda4"/><rect x="397.52" y="159.80" width="13.85" height="3.09" fill="#e6f598"/><rect x="410.97" y="159.80" width="8.47" height="3.09" fill="#ffffbf"/><rect x="419.04" y="159.80" width="13.85" height="3.09" fill="#fee08b"/><rect x="432.49" y="159.80" width="19.23" height="3.09" fill="#fdae61"/><rect x="451.32" y="159.80" width="24.61" height="3.09" fill="#f46d43"/><rect x="475.53" y="159.80" width="3.09" height="3.09" fill="#fdae61"/><rect x="478.22" y="159.80" width="32.68" height="3.09" fill="#f46d43"/><rect x="376.00" y="162.49" width="5.78" height="3.09" fill="#3288bd"/><rect x="381.38" y="162.49" width="5.78" height="3.09" fill="#66c2a5"/><rect x="386.76" y="162.49" width="11.16" height="3.09" fill="#abdda4"/><rect x="397.52" y="162.49" width="13.85" height="3.09" fill="#e6f598"/><rect x="410.97" y="162.49" width="8.47" height="3.09" fill="#ffffbf"/><rect x="419.04" y="162.49" width="13.85" height="3.09" fill="#fee08b"/><rect x="432.49" y="162.49" width="19.23" height="3.09" fill="#fdae61"/><rect x="451.32" y="162.49" width="24.61" height="3.09" fill="#f46d43"/><rect x="475.53" y="162.49" width="3.09" height="3.09" fill="#fdae61"/><rect x="478.22" y="162.49" width="32.68" height="3.09" fill="#f46d43"/><rect x="376.00" y="165.18" width="5.78" height="3.09" fill="#3288bd"/><rect x="381.38" y="165.18" width="8.47" height="3.09" fill="#66c2a5"/><rect x="389.45" y="165.18" width="13.85" height="3.09" fill="#abdda4"/><rect x="402.90" y="165.18" width="8.47" height="3.09" fill="#e6f598"/><rect x="410.97" y="165.18" width="8.47" height="3.09" fill="#ffffbf"/><rect x="419.04" y="165.18" width="13.85" height="3.09" fill="#fee08b"/><rect x="432.49" y="165.18" width="19.23" height="3.09" fill="#fdae61"/><rect x="451.32" y="165.18" width="24.61" height="3.09" fill="#f46d43"/><rect x="475.53" y="165.18" width="3.09" height="3.09" fill="#fdae61"/><rect x="478.22" y="165.18" width="29.99" height="3.09" fill="#f46d43"/><rect x="507.81" y="165.18" width="3.09" height="3.09" fill="#d53e4f"/><rect x="376.00" y="167.87" width="5.78" height="3.09" fill="#3288bd"/><rect x="381.38" y="167.87" width="8.47" height="3.09" fill="#66c2a5"/><rect x="389.45" y="167.87" width="16.54" height="3.09" fill="#abdda4"/><rect x="405.59" y="167.87" width="5.78" height="3.09" fill="#e6f598"/><rect x="410.97" y="167.87" width="8.47" height="3.09" fill="#ffffbf"/><rect x="419.04" y="167.87" width="3.09" height="3.09" fill="#fee08b"/><rect x="421.73" y="167.87" width="5.78" height="3.09" fill="#fdae61"/><rect x="427.11" y="167.87" width="5.78" height="3.09" fill="#fee08b"/><rect x="432.49" y="167.87" width="19.23" height="3.09" fill="#fdae61"/><rect x="451.32" y="167.87" width="24.61" height="3.09" fill="#f46d43"/><rect x="475.53" y="167.87" width="3.09" height="3.09" fill="#fdae61"/><rect x="478.22" y="167.87" width="32.68" height="3.09" fill="#f46d43"/><rect x="376.00" y="170.56" width="5.78" height="3.09" fill="#3288bd"/><rect x="381.38" y="170.56" width="8.47" height="3.09" fill="#66c2a5"/><rect x="389.45" y="170.56" width="16.54" height="3.09" fill="#abdda4"/><rect x="405.59" y="170.56" width="5.78" height="3.09" fill="#e6f598"/><rect x="410.97" y="170.56" width="8.47" height="3.09" fill="#ffffbf"/><rect x="419.04" y="170.56" width="3.09" height="3.09" fill="#fee08b"/><rect x="421.73" y="170.56" width="5.78" height="3.09" fill="#fdae61"/><rect x="427.11" y="170.56" width="5.78" height="3.09" fill="#fee08b"/><rect x="432.49" y="170.56" width="19.23" height="3.09" fill="#fdae61"/><rect x="451.32" y="170.56" width="24.61" height="3.09" fill="#f46d43"/><rect x="475.53" y="170.56" width="3.09" height="3.09" fill="#fdae61"/><rect x="478.22" y="170.56" width="32.68" height="3.09" fill="#f46d43"/><rect x="376.00" y="173.25" width="5.78" height="3.09" fill="#3288bd"/><rect x="381.38" y="173.25" width="8.47" height="3.09" fill="#66c2a5"/><rect x="389.45" y="173.25" width="16.54" height="3.09" fill="#abdda4"/><rect x="405.59" y="173.25" width="5.78" height="3.09" fill="#e6f598"/><rect x="410.97" y="173.25" width="8.47" height="3.09" fill="#ffffbf"/><rect x="419.04" y="173.25" width="3.09" height="3.09" fill="#fee08b"/><rect x="421.73" y="173.25" width="5.78" height="3.09" fill="#fdae61"/><rect x="427.11" y="173.25" width="5.78" height="3.09" fill="#fee08b"/><rect x="432.49" y="173.25" width="19.23" height="3.09" fill="#fdae61"/><rect x="451.32" y="173.25" width="24.61" height="3.09" fill="#f46d43"/><rect x="475.53" y="173.25" width="3.09" height="3.09" fill="#fdae61"/><rect x="478.22" y="173.25" width="32.68" height="3.09" fill="#f46d43"/><rect x="376.00" y="175.94" width="5.78" height="3.09" fill="#3288bd"/><rect x="381.38" y="175.94" width="8.47" height="3.09" fill="#66c2a5"/><rect x="389.45" y="175.94" width="16.54" height="3.09" fill="#abdda4"/><rect x="405.59" y="175.94" width="5.78" height="3.09" fill="#e6f598"/><rect x="410.97" y="175.94" width="8.47" height="3.09" fill="#ffffbf"/><rect x="419.04" y="175.94" width="3.09" height="3.09" fill="#fee08b"/><rect x="421.73" y="175.94" width="5.78" height="3.09" fill="#fdae61"/><rect x="427.11" y="175.94" width="5.78" height="3.09" fill="#fee08b"/><rect x="432.49" y="175.94" width="19.23" height="3.09" fill="#fdae61"/><rect x="451.32" y="175.94" width="24.61" height="3.09" fill="#f46d43"/><rect x="475.53" y="175.94" width="3.09" height="3.09" fill="#fdae61"/><rect x="478.22" y="175.94" width="32.68" height="3.09" fill="#f46d43"/><rect x="376.00" y="178.63" width="8.47" height="3.09" fill="#3288bd"/><rect x="384.07" y="178.63" width="8.47" height="3.09" fill="#66c2a5"/><rect x="392.14" y="178.63" width="11.16" height="3.09" fill="#abdda4"/><rect x="402.90" y="178.63" width="8.47" height="3.09" fill="#e6f598"/><rect x="410.97" y="178.63" width="8.47" height="3.09" fill="#ffffbf"/><rect x="419.04" y="178.63" width="13.85" height="3.09" fill="#fee08b"/><rect x="432.49" y="178.63" width="19.23" height="3.09" fill="#fdae61"/><rect x="451.32" y="178.63" width="59.58" height="3.09" fill="#f46d43"/><rect x="376.00" y="181.32" width="8.47" height="3.09" fill="#3288bd"/><rect x="384.07" y="181.32" width="8.47" height="3.09" fill="#66c2a5"/><rect x="392.14" y="181.32" width="11.16" height="3.09" fill="#abdda4"/><rect x="402.90" y="181.32" width="8.47" height="3.09" fill="#e6f598"/><rect x="410.97" y="181.32" width="8.47" height="3.09" fill="#ffffbf"/><rect x="419.04" y="181.32" width="16.54" height="3.09" fill="#fee08b"/><rect x="435.18" y="181.32" width="16.54" height="3.09" fill="#fdae61"/><rect x="451.32" y="181.32" width="8.47" height="3.09" fill="#f46d43"/><rect x="459.39" y="181.32" width="3.09" height="3.09" fill="#d53e4f"/><rect x="462.08" y="181.32" width="48.82" height="3.09" fill="#f46d43"/><rect x="376.00" y="184.01" width="8.47" height="3.09" fill="#3288bd"/><rect x="384.07" y="184.01" width="8.47" height="3.09" fill="#66c2a5"/><rect x="392.14" y="184.01" width="11.16" height="3.09" fill="#abdda4"/><rect x="402.90" y="184.01" width="8.47" height="3.09" fill="#e6f598"/><rect x="410.97" y="184.01" width="8.47" height="3.09" fill="#ffffbf"/><rect x="419.04" y="184.01" width="16.54" height="3.09" fill="#fee08b"/><rect x="435.18" y="184.01" width="16.54" height="3.09" fill="#fdae61"/><rect x="451.32" y="184.01" width="8.47" height="3.09" fill="#f46d43"/><rect x="459.39" y="184.01" width="3.09" height="3.09" fill="#d53e4f"/><rect x="462.08" y="184.01" width="48.82" height="3.09" fill="#f46d43"/><rect x="376.00" y="186.70" width="8.47" height="3.09" fill="#3288bd"/><rect x="384.07" y="186.70" width="8.47" height="3.09" fill="#66c2a5"/><rect x="392.14" y="186.70" width="11.16" height="3.09" fill="#abdda4"/><rect x="402.90" y="186.70" width="8.47" height="3.09" fill="#e6f598"/><rect x="410.97" y="186.70" width="8.47" height="3.09" fill="#ffffbf"/><rect x="419.04" y="186.70" width="16.54" height="3.09" fill="#fee08b"/><rect x="435.18" y="186.70" width="16.54" height="3.09" fill="#fdae61"/><rect x="451.32" y="186.70" width="27.30" height="3.09" fill="#f46d43"/><rect x="478.22" y="186.70" width="3.09" height="3.09" fill="#fdae61"/><rect x="480.91" y="186.70" width="29.99" height="3.09" fill="#f46d43"/><rect x="376.00" y="189.39" width="8.47" height="3.09" fill="#3288bd"/><rect x="384.07" y="189.39" width="8.47" height="3.09" fill="#66c2a5"/><rect x="392.14" y="189.39" width="11.16" height="3.09" fill="#abdda4"/><rect x="402.90" y="189.39" width="8.47" height="3.09" fill="#e6f598"/><rect x="410.97" y="189.39" width="8.47" height="3.09" fill="#ffffbf"/><rect x="419.04" y="189.39" width="16.54" height="3.09" fill="#fee08b"/><rect x="435.18" y="189.39" width="16.54" height="3.09" fill="#fdae61"/><rect x="451.32" y="189.39" width="27.30" height="3.09" fill="#f46d43"/><rect x="478.22" y="189.39" width="3.09" height="3.09" fill="#fdae61"/><rect x="480.91" y="189.39" width="29.99" height="3.09" fill="#f46d43"/><rect x="376.00" y="192.08" width="16.54" height="3.09" fill="#66c2a5"/><rect x="392.14" y="192.08" width="13.85" height="3.09" fill="#abdda4"/><rect x="405.59" y="192.08" width="8.47" height="3.09" fill="#e6f598"/><rect x="413.66" y="192.08" width="5.78" height="3.09" fill="#ffffbf"/><rect x="419.04" y="192.08" width="27.30" height="3.09" fill="#fee08b"/><rect x="445.94" y="192.08" width="8.47" height="3.09" fill="#fdae61"/><rect x="454.01" y="192.08" width="24.61" height="3.09" fill="#f46d43"/><rect x="478.22" y="192.08" width="13.85" height="3.09" fill="#fdae61"/><rect x="491.67" y="192.08" width="13.85" height="3.09" fill="#f46d43"/><rect x="505.12" y="192.08" width="5.78" height="3.09" fill="#fdae61"/><rect x="376.00" y="194.77" width="8.47" height="3.09" fill="#3288bd"/><rect x="384.07" y="194.77" width="11.16" height="3.09" fill="#66c2a5"/><rect x="394.83" y="194.77" width="11.16" height="3.09" fill="#abdda4"/><rect x="405.59" y="194.77" width="8.47" height="3.09" fill="#e6f598"/><rect x="413.66" y="194.77" width="8.47" height="3.09" fill="#ffffbf"/><rect x="421.73" y="194.77" width="27.30" height="3.09" fill="#fee08b"/><rect x="448.63" y="194.77" width="5.78" height="3.09" fill="#fdae61"/><rect x="454.01" y="194.77" width="24.61" height="3.09" fill="#f46d43"/><rect x="478.22" y="194.77" width="13.85" height="3.09" fill="#fdae61"/><rect x="491.67" y="194.77" width="13.85" height="3.09" fill="#f46d43"/><rect x="505.12" y="194.77" width="5.78" height="3.09" fill="#fdae61"/><rect x="376.00" y="197.46" width="8.47" height="3.09" fill="#3288bd"/><rect x="384.07" y="197.46" width="11.16" height="3.09" fill="#66c2a5"/><rect x="394.83" y="197.46" width="11.16" height="3.09" fill="#abdda4"/><rect x="405.59" y="197.46" width="8.47" height="3.09" fill="#e6f598"/><rect x="413.66" y="197.46" width="8.47" height="3.09" fill="#ffffbf"/><rect x="421.73" y="197.46" width="27.30" height="3.09" fill="#fee08b"/><rect x="448.63" y="197.46" width="5.78" height="3.09" fill="#fdae61"/><rect x="454.01" y="197.46" width="24.61" height="3.09" fill="#f46d43"/><rect x="478.22" y="197.46" width="13.85" height="3.09" fill="#fdae61"/><rect x="491.67" y="197.46" width="13.85" height="3.09" fill="#f46d43"/><rect x="505.12" y="197.46" width="5.78" height="3.09" fill="#fdae61"/><rect x="376.00" y="200.15" width="13.85" height="3.09" fill="#3288bd"/><rect x="389.45" y="200.15" width="5.78" height="3.09" fill="#66c2a5"/><rect x="394.83" y="200.15" width="5.78" height="3.09" fill="#abdda4"/><rect x="400.21" y="200.15" width="16.54" height="3.09" fill="#e6f598"/><rect x="416.35" y="200.15" width="24.61" height="3.09" fill="#ffffbf"/><rect x="440.56" y="200.15" width="8.47" height="3.09" fill="#fee08b"/><rect x="448.63" y="200.15" width="16.54" height="3.09" fill="#fdae61"/><rect x="464.77" y="200.15" width="8.47" height="3.09" fill="#f46d43"/><rect x="472.84" y="200.15" width="24.61" height="3.09" fill="#fdae61"/><rect x="497.05" y="200.15" width="3.09" height="3.09" fill="#f46d43"/><rect x="499.74" y="200.15" width="11.16" height="3.09" fill="#fdae61"/><rect x="376.00" y="202.84" width="13.85" height="3.09" fill="#3288bd"/><rect x="389.45" y="202.84" width="5.78" height="3.09" fill="#66c2a5"/><rect x="394.83" y="202.84" width="5.78" height="3.09" fill="#abdda4"/><rect x="400.21" y="202.84" width="16.54" height="3.09" fill="#e6f598"/><rect x="416.35" y="202.84" width="24.61" height="3.09" fill="#ffffbf"/><rect x="440.56" y="202.84" width="8.47" height="3.09" fill="#fee08b"/><rect x="448.63" y="202.84" width="16.54" height="3.09" fill="#fdae61"/><rect x="464.77" y="202.84" width="8.47" height="3.09" fill="#f46d43"/><rect x="472.84" y="202.84" width="24.61" height="3.09" fill="#fdae61"/><rect x="497.05" y="202.84" width="3.09" height="3.09" fill="#f46d43"/><rect x="499.74" y="202.84" width="11.16" height="3.09" fill="#fdae61"/><rect x="376.00" y="205.53" width="13.85" height="3.09" fill="#3288bd"/><rect x="389.45" y="205.53" width="5.78" height="3.09" fill="#66c2a5"/><rect x="394.83" y="205.53" width="8.47" height="3.09" fill="#abdda4"/><rect x="402.90" y="205.53" width="13.85" height="3.09" fill="#e6f598"/><rect x="416.35" y="205.53" width="29.99" height="3.09" fill="#ffffbf"/><rect x="445.94" y="205.53" width="5.78" height="3.09" fill="#fee08b"/><rect x="451.32" y="205.53" width="59.58" height="3.09" fill="#fdae61"/><rect x="376.00" y="208.22" width="16.54" height="3.09" fill="#3288bd"/><rect x="392.14" y="208.22" width="5.78" height="3.09" fill="#66c2a5"/><rect x="397.52" y="208.22" width="13.85" height="3.09" fill="#abdda4"/><rect x="410.97" y="208.22" width="8.47" height="3.09" fill="#e6f598"/><rect x="419.04" y="208.22" width="11.16" height="3.09" fill="#ffffbf"/><rect x="429.80" y="208.22" width="13.85" height="3.09" fill="#e6f598"/><rect x="443.25" y="208.22" width="5.78" height="3.09" fill="#ffffbf"/><rect x="448.63" y="208.22" width="13.85" height="3.09" fill="#fee08b"/><rect x="462.08" y="208.22" width="13.85" height="3.09" fill="#fdae61"/><rect x="475.53" y="208.22" width="21.92" height="3.09" fill="#fee08b"/><rect x="497.05" y="208.22" width="13.85" height="3.09" fill="#fdae61"/><rect x="376.00" y="210.91" width="16.54" height="3.09" fill="#3288bd"/><rect x="392.14" y="210.91" width="5.78" height="3.09" fill="#66c2a5"/><rect x="397.52" y="210.91" width="13.85" height="3.09" fill="#abdda4"/><rect x="410.97" y="210.91" width="8.47" height="3.09" fill="#e6f598"/><rect x="419.04" y="210.91" width="11.16" height="3.09" fill="#ffffbf"/><rect x="429.80" y="210.91" width="13.85" height="3.09" fill="#e6f598"/><rect x="443.25" y="210.91" width="5.78" height="3.09" fill="#ffffbf"/><rect x="448.63" y="210.91" width="13.85" height="3.09" fill="#fee08b"/><rect x="462.08" y="210.91" width="13.85" height="3.09" fill="#fdae61"/><rect x="475.53" y="210.91" width="21.92" height="3.09" fill="#fee08b"/><rect x="497.05" y="210.91" width="13.85" height="3.09" fill="#fdae61"/><rect x="376.00" y="213.60" width="16.54" height="3.09" fill="#3288bd"/><rect x="392.14" y="213.60" width="5.78" height="3.09" fill="#66c2a5"/><rect x="397.52" y="213.60" width="16.54" height="3.09" fill="#abdda4"/><rect x="413.66" y="213.60" width="32.68" height="3.09" fill="#e6f598"/><rect x="445.94" y="213.60" width="3.09" height="3.09" fill="#ffffbf"/><rect x="448.63" y="213.60" width="40.75" height="3.09" fill="#fee08b"/><rect x="488.98" y="213.60" width="3.09" height="3.09" fill="#ffffbf"/><rect x="491.67" y="213.60" width="19.23" height="3.09" fill="#fee08b"/><rect x="376.00" y="216.29" width="16.54" height="3.09" fill="#3288bd"/><rect x="392.14" y="216.29" width="5.78" height="3.09" fill="#66c2a5"/><rect x="397.52" y="216.29" width="16.54" height="3.09" fill="#abdda4"/><rect x="413.66" y="216.29" width="32.68" height="3.09" fill="#e6f598"/><rect x="445.94" y="216.29" width="3.09" height="3.09" fill="#ffffbf"/><rect x="448.63" y="216.29" width="40.75" height="3.09" fill="#fee08b"/><rect x="488.98" y="216.29" width="3.09" height="3.09" fill="#ffffbf"/><rect x="491.67" y="216.29" width="19.23" height="3.09" fill="#fee08b"/><rect x="376.00" y="218.98" width="16.54" height="3.09" fill="#3288bd"/><rect x="392.14" y="218.98" width="5.78" height="3.09" fill="#66c2a5"/><rect x="397.52" y="218.98" width="21.92" height="3.09" fill="#abdda4"/><rect x="419.04" y="218.98" width="27.30" height="3.09" fill="#e6f598"/><rect x="445.94" y="218.98" width="48.82" height="3.09" fill="#ffffbf"/><rect x="494.36" y="218.98" width="16.54" height="3.09" fill="#fee08b"/><rect x="376.00" y="221.67" width="16.54" height="3.09" fill="#3288bd"/><rect x="392.14" y="221.67" width="8.47" height="3.09" fill="#66c2a5"/><rect x="400.21" y="221.67" width="19.23" height="3.09" fill="#abdda4"/><rect x="419.04" y="221.67" width="16.54" height="3.09" fill="#e6f598"/><rect x="435.18" y="221.67" width="8.47" height="3.09" fill="#abdda4"/><rect x="443.25" y="221.67" width="21.92" height="3.09" fill="#e6f598"/><rect x="464.77" y="221.67" width="46.13" height="3.09" fill="#ffffbf"/><rect x="376.00" y="224.36" width="16.54" height="3.09" fill="#3288bd"/><rect x="392.14" y="224.36" width="8.47" height="3.09" fill="#66c2a5"/><rect x="400.21" y="224.36" width="19.23" height="3.09" fill="#abdda4"/><rect x="419.04" y="224.36" width="16.54" height="3.09" fill="#e6f598"/><rect x="435.18" y="224.36" width="8.47" height="3.09" fill="#abdda4"/><rect x="443.25" y="224.36" width="21.92" height="3.09" fill="#e6f598"/><rect x="464.77" y="224.36" width="46.13" height="3.09" fill="#ffffbf"/><rect x="376.00" y="227.05" width="3.09" height="3.09" fill="#5e4fa2"/><rect x="378.69" y="227.05" width="13.85" height="3.09" fill="#3288bd"/><rect x="392.14" y="227.05" width="21.92" height="3.09" fill="#66c2a5"/><rect x="413.66" y="227.05" width="5.78" height="3.09" fill="#abdda4"/><rect x="419.04" y="227.05" width="13.85" height="3.09" fill="#e6f598"/><rect x="432.49" y="227.05" width="13.85" height="3.09" fill="#abdda4"/><rect x="445.94" y="227.05" width="51.51" height="3.09" fill="#e6f598"/><rect x="497.05" y="227.05" width="13.85" height="3.09" fill="#ffffbf"/><rect x="376.00" y="229.74" width="13.85" height="3.09" fill="#5e4fa2"/><rect x="389.45" y="229.74" width="5.78" height="3.09" fill="#3288bd"/><rect x="394.83" y="229.74" width="24.61" height="3.09" fill="#66c2a5"/><rect x="419.04" y="229.74" width="5.78" height="3.09" fill="#abdda4"/><rect x="424.42" y="229.74" width="8.47" height="3.09" fill="#e6f598"/><rect x="432.49" y="229.74" width="16.54" height="3.09" fill="#abdda4"/><rect x="448.63" y="229.74" width="5.78" height="3.09" fill="#e6f598"/><rect x="454.01" y="229.74" width="11.16" height="3.09" fill="#abdda4"/><rect x="464.77" y="229.74" width="46.13" height="3.09" fill="#e6f598"/><rect x="376.00" y="232.43" width="13.85" height="3.09" fill="#5e4fa2"/><rect x="389.45" y="232.43" width="5.78" height="3.09" fill="#3288bd"/><rect x="394.83" y="232.43" width="24.61" height="3.09" fill="#66c2a5"/><rect x="419.04" y="232.43" width="5.78" height="3.09" fill="#abdda4"/><rect x="424.42" y="232.43" width="8.47" height="3.09" fill="#e6f598"/><rect x="432.49" y="232.43" width="16.54" height="3.09" fill="#abdda4"/><rect x="448.63" y="232.43" width="5.78" height="3.09" fill="#e6f598"/><rect x="454.01" y="232.43" width="11.16" height="3.09" fill="#abdda4"/><rect x="464.77" y="232.43" width="46.13" height="3.09" fill="#e6f598"/><rect x="376.00" y="235.12" width="13.85" height="3.09" fill="#5e4fa2"/><rect x="389.45" y="235.12" width="5.78" height="3.09" fill="#3288bd"/><rect x="394.83" y="235.12" width="24.61" height="3.09" fill="#66c2a5"/><rect x="419.04" y="235.12" width="5.78" height="3.09" fill="#abdda4"/><rect x="424.42" y="235.12" width="8.47" height="3.09" fill="#e6f598"/><rect x="432.49" y="235.12" width="56.89" height="3.09" fill="#abdda4"/><rect x="488.98" y="235.12" width="21.92" height="3.09" fill="#e6f598"/><rect x="376.00" y="237.81" width="13.85" height="3.09" fill="#5e4fa2"/><rect x="389.45" y="237.81" width="5.78" height="3.09" fill="#3288bd"/><rect x="394.83" y="237.81" width="24.61" height="3.09" fill="#66c2a5"/><rect x="419.04" y="237.81" width="5.78" height="3.09" fill="#abdda4"/><rect x="424.42" y="237.81" width="8.47" height="3.09" fill="#e6f598"/><rect x="432.49" y="237.81" width="56.89" height="3.09" fill="#abdda4"/><rect x="488.98" y="237.81" width="21.92" height="3.09" fill="#e6f598"/></g>
<defs><linearGradient id="gb" x1="0" y1="0" x2="1" y2="0"><stop offset="0.000" stop-color="#5e4fa2"/><stop offset="0.050" stop-color="#496aaf"/><stop offset="0.100" stop-color="#3387bc"/><stop offset="0.150" stop-color="#4ba4b1"/><stop offset="0.200" stop-color="#66c2a5"/><stop offset="0.250" stop-color="#89d0a4"/><stop offset="0.300" stop-color="#aadca4"/><stop offset="0.350" stop-color="#c8e99e"/><stop offset="0.400" stop-color="#e6f598"/><stop offset="0.450" stop-color="#f3faac"/><stop offset="0.500" stop-color="#fffebe"/><stop offset="0.550" stop-color="#fff0a6"/><stop offset="0.600" stop-color="#fee08b"/><stop offset="0.650" stop-color="#fdc776"/><stop offset="0.700" stop-color="#fdad60"/><stop offset="0.750" stop-color="#f88c51"/><stop offset="0.800" stop-color="#f46d43"/><stop offset="0.850" stop-color="#e45549"/><stop offset="0.900" stop-color="#d43d4f"/><stop offset="0.950" stop-color="#b81e48"/><stop offset="1.000" stop-color="#9e0142"/></linearGradient><linearGradient id="ge" x1="0" y1="1" x2="0" y2="0"><stop offset="0.000" stop-color="#5e4fa2"/><stop offset="0.050" stop-color="#496aaf"/><stop offset="0.100" stop-color="#3387bc"/><stop offset="0.150" stop-color="#4ba4b1"/><stop offset="0.200" stop-color="#66c2a5"/><stop offset="0.250" stop-color="#89d0a4"/><stop offset="0.300" stop-color="#aadca4"/><stop offset="0.350" stop-color="#c8e99e"/><stop offset="0.400" stop-color="#e6f598"/><stop offset="0.450" stop-color="#f3faac"/><stop offset="0.500" stop-color="#fffebe"/><stop offset="0.550" stop-color="#fff0a6"/><stop offset="0.600" stop-color="#fee08b"/><stop offset="0.650" stop-color="#fdc776"/><stop offset="0.700" stop-color="#fdad60"/><stop offset="0.750" stop-color="#f88c51"/><stop offset="0.800" stop-color="#f46d43"/><stop offset="0.850" stop-color="#e45549"/><stop offset="0.900" stop-color="#d43d4f"/><stop offset="0.950" stop-color="#b81e48"/><stop offset="1.000" stop-color="#9e0142"/></linearGradient></defs>
<rect x="381.00" y="58.20" width="122.70" height="5.20" fill="url(#gb)" stroke="#000" stroke-width="0.8"/>
<line x1="381.00" y1="63.40" x2="381.00" y2="65.60" stroke="#000" stroke-width="0.8"/>
<line x1="503.70" y1="63.40" x2="503.70" y2="65.60" stroke="#000" stroke-width="0.8"/>
<text x="443.50" y="52.80" font-size="12.5" text-anchor="middle" fill="#000">reward</text>
<text x="381.30" y="78.60" font-size="12.9" text-anchor="middle" fill="#000">0.46</text>
<text x="502.00" y="78.60" font-size="12.9" text-anchor="middle" fill="#000">0.63</text>
<text x="441.80" y="85.40" font-size="9" text-anchor="middle" fill="#000" font-style="italic">n=22</text>
<text x="468.90" y="85.40" font-size="9" text-anchor="middle" fill="#000" font-style="italic">n=20</text>
<line x1="442.30" y1="87.80" x2="442.30" y2="95.00" stroke="#000" stroke-width="1.1"/>
<path d="M440.2,94.2 L442.3,97.6 L444.4,94.2 Z" fill="#000" stroke="none" stroke-width="1"/>
<line x1="467.00" y1="88.30" x2="490.50" y2="98.10" stroke="#000" stroke-width="1.1"/>
<path d="M488.9,99.3 L492.6,99.0 L490.2,96.2 Z" fill="#000" stroke="none" stroke-width="1"/>
<path d="M397.20,103.40 C398.42,103.25 402.37,102.85 404.50,102.50 C406.63,102.15 408.03,101.58 410.00,101.30 C411.97,101.02 414.55,100.80 416.30,100.80 C418.05,100.80 419.18,101.08 420.50,101.30 C421.82,101.52 422.72,101.93 424.20,102.10 C425.68,102.27 427.77,102.45 429.40,102.30 C431.03,102.15 432.25,101.52 434.00,101.20 C435.75,100.88 438.23,100.37 439.90,100.40 C441.57,100.43 442.68,101.07 444.00,101.40 C445.32,101.73 446.55,102.40 447.80,102.40 C449.05,102.40 450.18,101.67 451.50,101.40 C452.82,101.13 454.45,100.77 455.70,100.80 C456.95,100.83 457.90,101.23 459.00,101.60 C460.10,101.97 460.67,102.70 462.30,103.00 C463.93,103.30 467.17,103.33 468.80,103.40 C470.43,103.47 471.55,103.40 472.10,103.40 Z" fill="#fbd0d4" stroke="none" stroke-width="1"/>
<path d="M397.20,103.40 C398.42,103.25 402.37,102.85 404.50,102.50 C406.63,102.15 408.03,101.58 410.00,101.30 C411.97,101.02 414.55,100.80 416.30,100.80 C418.05,100.80 419.18,101.08 420.50,101.30 C421.82,101.52 422.72,101.93 424.20,102.10 C425.68,102.27 427.77,102.45 429.40,102.30 C431.03,102.15 432.25,101.52 434.00,101.20 C435.75,100.88 438.23,100.37 439.90,100.40 C441.57,100.43 442.68,101.07 444.00,101.40 C445.32,101.73 446.55,102.40 447.80,102.40 C449.05,102.40 450.18,101.67 451.50,101.40 C452.82,101.13 454.45,100.77 455.70,100.80 C456.95,100.83 457.90,101.23 459.00,101.60 C460.10,101.97 460.67,102.70 462.30,103.00 C463.93,103.30 467.17,103.33 468.80,103.40 C470.43,103.47 471.55,103.40 472.10,103.40" fill="none" stroke="#ff2020" stroke-width="0.9"/>
<line x1="397.20" y1="103.60" x2="472.10" y2="103.60" stroke="#f7a8b0" stroke-width="0.8"/>
<path d="M493.3,105 L494.6,100 L496,97.6 L497.3,100.5 L498.3,104 L499.2,97 L500.3,89.5 L501.5,87.5 L502.6,90 L503.6,91.4 L504.8,89 L505.9,87.3 L507,90.5 L508.3,98 L509.7,104.8 Z" fill="#bdbdbd" stroke="#000" stroke-width="0.8"/>
<line x1="375.50" y1="105.60" x2="510.80" y2="105.60" stroke="#7a7a7a" stroke-width="1.2"/>
<path d="M512.5,165.3 C518,166.6 526,168.1 531.8,169.3 L527,170.7 C524,171.6 521.5,172.1 520.4,172.6 L521.2,173.2 C525,173.5 529,173.9 532.6,174.3 C526,175.8 518,177.3 512.5,177.9 Z" fill="#c4c4c4" stroke="#000" stroke-width="1"/>
<circle cx="525.1" cy="171.0" r="0.9" fill="#000"/>
<path d="M512.4,217.3 L517.4,219.6 L529,221.8 L521.4,225.2 L525.5,226.7 L539,228.4 L523.6,230.2 L512.4,232.2 Z" fill="#f9d6d8" stroke="#ff1010" stroke-width="1"/>
<rect x="491.20" y="163.70" width="18.80" height="15.50" fill="none" stroke="#111" stroke-width="1.4"/>
<rect x="402.00" y="219.20" width="62.60" height="11.80" fill="none" stroke="#ee1c1c" stroke-width="1.1"/>
<line x1="375.50" y1="105.50" x2="375.50" y2="241.00" stroke="#262626" stroke-width="1.1"/>
<line x1="375.10" y1="240.50" x2="510.80" y2="240.50" stroke="#262626" stroke-width="1.1"/>
<line x1="510.60" y1="105.50" x2="510.60" y2="241.00" stroke="#303030" stroke-width="0.9"/>
<line x1="372.20" y1="106.50" x2="375.60" y2="106.50" stroke="#262626" stroke-width="1"/>
<line x1="372.20" y1="128.50" x2="375.60" y2="128.50" stroke="#262626" stroke-width="1"/>
<line x1="372.20" y1="150.50" x2="375.60" y2="150.50" stroke="#262626" stroke-width="1"/>
<line x1="372.20" y1="173.50" x2="375.60" y2="173.50" stroke="#262626" stroke-width="1"/>
<line x1="372.20" y1="195.50" x2="375.60" y2="195.50" stroke="#262626" stroke-width="1"/>
<line x1="372.20" y1="218.50" x2="375.60" y2="218.50" stroke="#262626" stroke-width="1"/>
<line x1="372.20" y1="240.50" x2="375.60" y2="240.50" stroke="#262626" stroke-width="1"/>
<line x1="376.50" y1="240.70" x2="376.50" y2="244.00" stroke="#262626" stroke-width="1"/>
<line x1="443.50" y1="240.70" x2="443.50" y2="244.00" stroke="#262626" stroke-width="1"/>
<line x1="510.50" y1="240.70" x2="510.50" y2="244.00" stroke="#262626" stroke-width="1"/>
<text x="369.00" y="110.40" font-size="12.4" text-anchor="end" fill="#000">15</text>
<text x="369.00" y="155.20" font-size="12.4" text-anchor="end" fill="#000">10</text>
<text x="369.00" y="200.00" font-size="12.4" text-anchor="end" fill="#000">5</text>
<text x="369.00" y="244.80" font-size="12.4" text-anchor="end" fill="#000">0</text>
<text x="376.80" y="257.80" font-size="12.4" text-anchor="middle" fill="#000">0</text>
<text x="443.00" y="257.80" font-size="12.4" text-anchor="middle" fill="#000">0.5</text>
<text x="510.30" y="257.80" font-size="12.4" text-anchor="middle" fill="#000">1</text>
<text x="442.00" y="285.90" font-size="13.3" text-anchor="middle" fill="#000">learning rate (<tspan font-size="14.6" font-weight="bold">α</tspan>)</text>
<text x="344.40" y="177.60" font-size="12.9" text-anchor="middle" fill="#000" transform="rotate(-90 344.4 177.6)">inverse temperature (<tspan font-size="14.8">β</tspan>)</text>
<rect x="558.90" y="39.60" width="9.90" height="5.70" fill="none" stroke="#111" stroke-width="1.2"/>
<rect x="558.90" y="51.00" width="9.90" height="5.70" fill="none" stroke="#f01818" stroke-width="1.2"/>
<text x="571.60" y="45.60" font-size="9.1" text-anchor="start" fill="#000">high RL <tspan font-style="italic">θ</tspan></text>
<text x="571.60" y="57.00" font-size="9.1" text-anchor="start" fill="#000">low RL <tspan font-style="italic">θ</tspan></text>
<line x1="555.50" y1="47.30" x2="555.50" y2="124.70" stroke="#262626" stroke-width="1"/>
<line x1="555.20" y1="124.50" x2="671.60" y2="124.50" stroke="#262626" stroke-width="1"/>
<line x1="552.40" y1="47.50" x2="555.70" y2="47.50" stroke="#262626" stroke-width="1"/>
<line x1="552.40" y1="63.50" x2="555.70" y2="63.50" stroke="#262626" stroke-width="1"/>
<line x1="552.40" y1="78.50" x2="555.70" y2="78.50" stroke="#262626" stroke-width="1"/>
<line x1="552.40" y1="93.50" x2="555.70" y2="93.50" stroke="#262626" stroke-width="1"/>
<line x1="552.40" y1="109.50" x2="555.70" y2="109.50" stroke="#262626" stroke-width="1"/>
<line x1="552.40" y1="124.50" x2="555.70" y2="124.50" stroke="#262626" stroke-width="1"/>
<line x1="558.50" y1="124.30" x2="558.50" y2="127.20" stroke="#262626" stroke-width="1"/>
<line x1="594.50" y1="124.30" x2="594.50" y2="127.20" stroke="#262626" stroke-width="1"/>
<line x1="630.50" y1="124.30" x2="630.50" y2="127.20" stroke="#262626" stroke-width="1"/>
<line x1="665.50" y1="124.30" x2="665.50" y2="127.20" stroke="#262626" stroke-width="1"/>
<text x="548.40" y="51.00" font-size="10" text-anchor="end" fill="#000">1</text>
<text x="548.20" y="127.80" font-size="10" text-anchor="end" fill="#000">0</text>
<text x="558.90" y="139.50" font-size="10" text-anchor="middle" fill="#000">0</text>
<text x="594.60" y="139.50" font-size="10" text-anchor="middle" fill="#000">20</text>
<text x="630.10" y="139.50" font-size="10" text-anchor="middle" fill="#000">40</text>
<text x="665.90" y="139.50" font-size="10" text-anchor="middle" fill="#000">60</text>
<text x="613.20" y="154.60" font-size="13" text-anchor="middle" fill="#000">trials</text>
<text x="539.40" y="86.20" font-size="11.8" text-anchor="middle" fill="#000" transform="rotate(-90 539.4 86.2)">p(reward)</text>
<line x1="560.10" y1="78.40" x2="582.60" y2="69.60" stroke="#111" stroke-width="1.3"/>
<line x1="560.10" y1="72.10" x2="582.60" y2="75.30" stroke="#f01818" stroke-width="1.3"/>
<line x1="582.00" y1="91.80" x2="602.20" y2="76.30" stroke="#111" stroke-width="1.3"/>
<line x1="582.00" y1="92.50" x2="602.20" y2="79.80" stroke="#f01818" stroke-width="1.3"/>
<path d="M603.2,85.5 Q612.0,73.5 623.6,61.3" fill="none" stroke="#111" stroke-width="1.3"/>
<line x1="603.20" y1="87.00" x2="623.60" y2="66.60" stroke="#f01818" stroke-width="1.3"/>
<line x1="623.20" y1="89.10" x2="644.90" y2="69.20" stroke="#111" stroke-width="1.3"/>
<line x1="623.20" y1="89.40" x2="644.90" y2="74.80" stroke="#f01818" stroke-width="1.3"/>
<line x1="646.30" y1="88.40" x2="666.30" y2="64.60" stroke="#111" stroke-width="1.3"/>
<line x1="646.30" y1="72.60" x2="666.30" y2="76.50" stroke="#f01818" stroke-width="1.3"/>
<line x1="554.50" y1="169.50" x2="554.50" y2="238.70" stroke="#262626" stroke-width="1"/>
<line x1="554.20" y1="238.50" x2="674.80" y2="238.50" stroke="#262626" stroke-width="1"/>
<line x1="551.50" y1="189.50" x2="554.70" y2="189.50" stroke="#262626" stroke-width="1"/>
<line x1="551.50" y1="218.50" x2="554.70" y2="218.50" stroke="#262626" stroke-width="1"/>
<line x1="554.50" y1="238.30" x2="554.50" y2="241.50" stroke="#262626" stroke-width="1"/>
<line x1="580.50" y1="238.30" x2="580.50" y2="241.50" stroke="#262626" stroke-width="1"/>
<line x1="607.50" y1="238.30" x2="607.50" y2="241.50" stroke="#262626" stroke-width="1"/>
<line x1="633.50" y1="238.30" x2="633.50" y2="241.50" stroke="#262626" stroke-width="1"/>
<line x1="659.50" y1="238.30" x2="659.50" y2="241.50" stroke="#262626" stroke-width="1"/>
<text x="554.90" y="255.80" font-size="9.5" text-anchor="middle" fill="#000">0</text>
<text x="581.00" y="255.80" font-size="9.5" text-anchor="middle" fill="#000">0.2</text>
<text x="607.20" y="255.80" font-size="9.5" text-anchor="middle" fill="#000">0.4</text>
<text x="633.30" y="255.80" font-size="9.5" text-anchor="middle" fill="#000">0.6</text>
<text x="659.70" y="255.80" font-size="9.5" text-anchor="middle" fill="#000">0.8</text>
<text x="613.50" y="285.70" font-size="13" text-anchor="middle" fill="#000">reward (au)</text>
<rect x="554.70" y="183.20" width="82.80" height="14.00" fill="none" stroke="#f01818" stroke-width="1.2"/>
<rect x="554.70" y="210.60" width="90.00" height="14.20" fill="none" stroke="#333" stroke-width="1.2"/>
<circle cx="609.0" cy="186.3" r="2.1" fill="#f04848" fill-opacity="0.62"/>
<circle cx="618.0" cy="189.1" r="2.1" fill="#f04848" fill-opacity="0.62"/>
<circle cx="618.0" cy="192.0" r="2.1" fill="#f04848" fill-opacity="0.62"/>
<circle cx="622.7" cy="190.5" r="2.1" fill="#f04848" fill-opacity="0.62"/>
<circle cx="622.7" cy="192.6" r="2.1" fill="#f04848" fill-opacity="0.62"/>
<circle cx="627.2" cy="187.9" r="2.1" fill="#f04848" fill-opacity="0.62"/>
<circle cx="627.2" cy="192.6" r="2.1" fill="#f04848" fill-opacity="0.62"/>
<circle cx="631.9" cy="189.1" r="2.1" fill="#f04848" fill-opacity="0.62"/>
<circle cx="631.9" cy="191.2" r="2.1" fill="#f04848" fill-opacity="0.62"/>
<circle cx="636.0" cy="190.5" r="2.1" fill="#f04848" fill-opacity="0.62"/>
<circle cx="640.4" cy="186.7" r="2.1" fill="#f04848" fill-opacity="0.62"/>
<circle cx="640.4" cy="191.6" r="2.1" fill="#f04848" fill-opacity="0.62"/>
<circle cx="645.1" cy="186.3" r="2.1" fill="#f04848" fill-opacity="0.62"/>
<circle cx="645.1" cy="191.6" r="2.1" fill="#f04848" fill-opacity="0.62"/>
<circle cx="645.1" cy="193.2" r="2.1" fill="#f04848" fill-opacity="0.62"/>
<circle cx="649.6" cy="192.2" r="2.1" fill="#f04848" fill-opacity="0.62"/>
<circle cx="654.3" cy="189.1" r="2.1" fill="#f04848" fill-opacity="0.62"/>
<circle cx="654.3" cy="190.8" r="2.1" fill="#f04848" fill-opacity="0.62"/>
<circle cx="663.1" cy="190.5" r="2.1" fill="#f04848" fill-opacity="0.62"/>
<circle cx="667.6" cy="190.5" r="2.1" fill="#f04848" fill-opacity="0.62"/>
<circle cx="631.2" cy="215.1" r="2.1" fill="#555" fill-opacity="0.6"/>
<circle cx="631.2" cy="218.1" r="2.1" fill="#555" fill-opacity="0.6"/>
<circle cx="631.2" cy="221.2" r="2.1" fill="#555" fill-opacity="0.6"/>
<circle cx="635.9" cy="215.1" r="2.1" fill="#555" fill-opacity="0.6"/>
<circle cx="635.9" cy="218.1" r="2.1" fill="#555" fill-opacity="0.6"/>
<circle cx="635.9" cy="221.2" r="2.1" fill="#555" fill-opacity="0.6"/>
<circle cx="640.4" cy="219.8" r="2.1" fill="#555" fill-opacity="0.6"/>
<circle cx="645.1" cy="215.1" r="2.1" fill="#555" fill-opacity="0.6"/>
<circle cx="649.6" cy="220.6" r="2.1" fill="#555" fill-opacity="0.6"/>
<circle cx="654.3" cy="218.5" r="2.1" fill="#555" fill-opacity="0.6"/>
<circle cx="658.8" cy="217.1" r="2.1" fill="#555" fill-opacity="0.6"/>
<circle cx="667.6" cy="217.1" r="2.1" fill="#555" fill-opacity="0.6"/>
<circle cx="667.6" cy="219.8" r="2.1" fill="#555" fill-opacity="0.6"/>
<circle cx="672.1" cy="219.8" r="2.1" fill="#555" fill-opacity="0.6"/>
<circle cx="622.3" cy="215.5" r="1.9" fill="#222" fill-opacity="0.85"/>
<circle cx="649.6" cy="217.7" r="1.9" fill="#222" fill-opacity="0.85"/>
<line x1="629.80" y1="190.50" x2="640.00" y2="190.50" stroke="#d01010" stroke-width="1.3"/>
<rect x="630.60" y="189.20" width="2.60" height="2.60" fill="#d01010" stroke="none" stroke-width="1"/>
<line x1="641.00" y1="217.70" x2="649.00" y2="217.70" stroke="#111" stroke-width="1.3"/>
<line x1="644.70" y1="214.90" x2="644.70" y2="220.50" stroke="#111" stroke-width="1.3"/>
<line x1="677.40" y1="189.90" x2="677.40" y2="223.20" stroke="#111" stroke-width="1"/>
<text x="680.40" y="210.60" font-size="10" text-anchor="middle" fill="#f01818">*</text>
<text x="0.00" y="321.90" font-size="24.2" text-anchor="start" fill="#000">c<tspan dx="1.6">)</tspan></text>
<text x="88.80" y="339.70" font-size="12.3" text-anchor="middle" fill="#c52bd3">reward (used to</text>
<text x="89.10" y="352.80" font-size="12.3" text-anchor="middle" fill="#c52bd3">compute rpe)</text>
<rect x="57.00" y="370.20" width="64.50" height="89.80" fill="none" stroke="#000" stroke-width="2.2"/>
<rect x="61.60" y="377.50" width="55.00" height="76.80" fill="none" stroke="#f2a04c" stroke-width="2.1"/>
<text x="89.00" y="391.00" font-size="14.8" text-anchor="middle" fill="#000">+100</text>
<line x1="88.90" y1="358.00" x2="88.90" y2="376.00" stroke="#ff0a0a" stroke-width="1.6"/>
<path d="M83.4,371.4 L88.9,376.9 L94.4,371.4" fill="none" stroke="#ff0a0a" stroke-width="1.6"/>
<line x1="88.80" y1="449.80" x2="88.80" y2="467.80" stroke="#ff0a0a" stroke-width="1.6"/>
<path d="M83.4,454.6 L88.8,449.2 L94.3,454.6" fill="none" stroke="#ff0a0a" stroke-width="1.6"/>
<text x="88.90" y="480.40" font-size="12.3" text-anchor="middle" fill="#178a3e">perceptual</text>
<text x="89.40" y="492.60" font-size="12.3" text-anchor="middle" fill="#178a3e">memorability (pm)</text>
<defs><clipPath id="fc"><ellipse cx="89.8" cy="419.8" rx="21.6" ry="25.2"/></clipPath>
<radialGradient id="skin" cx="0.42" cy="0.38" r="0.62"><stop offset="0" stop-color="#dcb9a8"/><stop offset="0.45" stop-color="#cfa08c"/><stop offset="0.8" stop-color="#b98470"/><stop offset="1" stop-color="#9a6a58"/></radialGradient>
<radialGradient id="beard" cx="0.5" cy="0.3" r="0.7"><stop offset="0" stop-color="#6a4a3e" stop-opacity="0.35"/><stop offset="1" stop-color="#4a3228" stop-opacity="0.7"/></radialGradient>
<filter id="fb" x="-0.2" y="-0.2" width="1.4" height="1.4"><feGaussianBlur stdDeviation="0.7"/></filter></defs>
<g clip-path="url(#fc)">
<rect x="66" y="393" width="48" height="54" fill="#d4d8dc"/>
<g filter="url(#fb)">
<path d="M71,410 C71,398 80,394 90,394 C101,394 108,400 110,408 L112.5,416 L112,428 L107,432 C104,441 97,446 89,446 C80,446 73,440 71,430 C69.5,424 69.5,416 71,410 Z" fill="url(#skin)"/>
<path d="M84,394.8 C93,393 101,395 105.5,399.5 C109,404 110.5,410 110.5,416 L106.5,415 C106,409 104,404 101,401 C97,398 91,396.8 84,397.2 Z" fill="#3e2e26"/>
<path d="M70.5,408 L73.5,406 L73.8,420 L71,421 Z" fill="#5a4234"/>
<ellipse cx="108" cy="421" rx="3.2" ry="6" fill="#a87060"/>
<ellipse cx="86" cy="403" rx="11" ry="6" fill="#e2c2b2" opacity="0.6"/>
<path d="M73.8,410.6 Q78.5,408.6 83.3,410.2" stroke="#4a3024" stroke-width="1.5" fill="none"/>
<path d="M88.7,410.2 Q93.5,408.6 98.4,410.4" stroke="#4a3024" stroke-width="1.5" fill="none"/>
<ellipse cx="78.4" cy="414.3" rx="2.6" ry="1.0" fill="#4a3428"/>
<ellipse cx="93.6" cy="414.3" rx="2.6" ry="1.0" fill="#4a3428"/>
<path d="M85,414 C84.5,418 83.5,421 83,423.5 C85,425.5 88,425.5 90,424" stroke="#8e5e4e" stroke-width="1.1" fill="none"/>
<ellipse cx="86.5" cy="423.5" rx="3.5" ry="1.6" fill="#a86e5c" opacity="0.6"/>
<path d="M73,424 C74,437 81,446 89,446 C98,446 104,437 105.5,425 C103,432 98,435 94,433 L84,433 C80,435 75,432 73,424 Z" fill="url(#beard)"/>
<path d="M78,427.5 Q86,425 95,427.5 L94,429 Q86,427.3 79,429 Z" fill="#4a3026"/>
<path d="M80,429.3 Q86.5,433 93,429.3 Q86.5,430.8 80,429.3 Z" fill="#cdb89a"/>
<path d="M80,429.3 Q86.5,434.5 93,429.3" stroke="#a05a50" stroke-width="0.8" fill="none"/>
</g></g>
<text x="154.00" y="321.90" font-size="24.2" text-anchor="start" fill="#000">d<tspan dx="1.6">)</tspan></text>
<line x1="201.7" y1="410.2" x2="319.1" y2="390.5" stroke="#000" stroke-opacity="0.031" stroke-width="1.2"/><line x1="201.7" y1="394.9" x2="319.1" y2="393.8" stroke="#000" stroke-opacity="0.008" stroke-width="1.2"/><line x1="201.7" y1="402.6" x2="319.1" y2="402.6" stroke="#000" stroke-opacity="0.024" stroke-width="1.2"/><line x1="201.7" y1="394.9" x2="319.1" y2="400.5" stroke="#000" stroke-opacity="0.008" stroke-width="1.2"/><line x1="201.7" y1="403.0" x2="319.1" y2="397.1" stroke="#000" stroke-opacity="0.012" stroke-width="1.2"/><line x1="201.7" y1="404.1" x2="319.1" y2="395.4" stroke="#000" stroke-opacity="0.007" stroke-width="1.2"/><line x1="201.7" y1="402.7" x2="319.1" y2="396.2" stroke="#000" stroke-opacity="0.012" stroke-width="1.2"/><line x1="201.7" y1="404.6" x2="319.1" y2="394.3" stroke="#000" stroke-opacity="0.009" stroke-width="1.2"/><line x1="201.7" y1="408.9" x2="319.1" y2="389.7" stroke="#000" stroke-opacity="0.023" stroke-width="1.2"/><line x1="201.7" y1="391.7" x2="319.1" y2="408.5" stroke="#000" stroke-opacity="0.019" stroke-width="1.2"/><line x1="201.7" y1="401.2" x2="319.1" y2="405.9" stroke="#000" stroke-opacity="0.016" stroke-width="1.2"/><line x1="201.7" y1="401.4" x2="319.1" y2="395.9" stroke="#000" stroke-opacity="0.014" stroke-width="1.2"/><line x1="201.7" y1="389.3" x2="319.1" y2="408.6" stroke="#000" stroke-opacity="0.018" stroke-width="1.2"/><line x1="201.7" y1="409.5" x2="319.1" y2="393.8" stroke="#000" stroke-opacity="0.016" stroke-width="1.2"/><line x1="201.7" y1="410.4" x2="319.1" y2="389.8" stroke="#000" stroke-opacity="0.017" stroke-width="1.2"/><line x1="201.7" y1="394.2" x2="319.1" y2="400.1" stroke="#000" stroke-opacity="0.017" stroke-width="1.2"/><line x1="201.7" y1="398.1" x2="319.1" y2="393.7" stroke="#000" stroke-opacity="0.017" stroke-width="1.2"/><line x1="201.7" y1="397.8" x2="319.1" y2="395.3" stroke="#000" stroke-opacity="0.024" stroke-width="1.2"/><line x1="201.7" y1="399.9" x2="319.1" y2="398.7" stroke="#000" stroke-opacity="0.007" stroke-width="1.2"/><line x1="201.7" y1="407.1" x2="319.1" y2="397.7" stroke="#000" stroke-opacity="0.012" stroke-width="1.2"/><line x1="201.7" y1="397.2" x2="319.1" y2="398.3" stroke="#000" stroke-opacity="0.028" stroke-width="1.2"/><line x1="201.7" y1="398.7" x2="319.1" y2="403.3" stroke="#000" stroke-opacity="0.018" stroke-width="1.2"/><line x1="201.7" y1="396.3" x2="319.1" y2="397.4" stroke="#000" stroke-opacity="0.010" stroke-width="1.2"/><line x1="201.7" y1="394.2" x2="319.1" y2="409.3" stroke="#000" stroke-opacity="0.014" stroke-width="1.2"/><line x1="201.7" y1="400.0" x2="319.1" y2="403.5" stroke="#000" stroke-opacity="0.018" stroke-width="1.2"/><line x1="201.7" y1="402.5" x2="319.1" y2="394.6" stroke="#000" stroke-opacity="0.020" stroke-width="1.2"/><line x1="201.7" y1="408.7" x2="319.1" y2="391.1" stroke="#000" stroke-opacity="0.029" stroke-width="1.2"/><line x1="201.7" y1="404.7" x2="319.1" y2="392.5" stroke="#000" stroke-opacity="0.030" stroke-width="1.2"/><line x1="201.7" y1="401.6" x2="319.1" y2="403.8" stroke="#000" stroke-opacity="0.027" stroke-width="1.2"/><line x1="201.7" y1="394.7" x2="319.1" y2="403.3" stroke="#000" stroke-opacity="0.023" stroke-width="1.2"/><line x1="201.7" y1="399.6" x2="319.1" y2="401.9" stroke="#000" stroke-opacity="0.027" stroke-width="1.2"/><line x1="201.7" y1="413.1" x2="319.1" y2="390.7" stroke="#000" stroke-opacity="0.025" stroke-width="1.2"/><line x1="201.7" y1="401.7" x2="319.1" y2="395.3" stroke="#000" stroke-opacity="0.006" stroke-width="1.2"/><line x1="201.7" y1="397.4" x2="319.1" y2="410.3" stroke="#000" stroke-opacity="0.007" stroke-width="1.2"/><line x1="201.7" y1="411.2" x2="319.1" y2="384.8" stroke="#000" stroke-opacity="0.028" stroke-width="1.2"/><line x1="201.7" y1="405.7" x2="319.1" y2="397.6" stroke="#000" stroke-opacity="0.009" stroke-width="1.2"/><line x1="201.7" y1="404.4" x2="319.1" y2="399.8" stroke="#000" stroke-opacity="0.010" stroke-width="1.2"/><line x1="201.7" y1="401.8" x2="319.1" y2="396.2" stroke="#000" stroke-opacity="0.007" stroke-width="1.2"/><line x1="201.7" y1="407.6" x2="319.1" y2="391.0" stroke="#000" stroke-opacity="0.031" stroke-width="1.2"/><line x1="201.7" y1="396.1" x2="319.1" y2="405.2" stroke="#000" stroke-opacity="0.029" stroke-width="1.2"/><line x1="201.7" y1="410.3" x2="319.1" y2="390.3" stroke="#000" stroke-opacity="0.028" stroke-width="1.2"/><line x1="201.7" y1="404.1" x2="319.1" y2="398.5" stroke="#000" stroke-opacity="0.027" stroke-width="1.2"/><line x1="201.7" y1="392.3" x2="319.1" y2="406.7" stroke="#000" stroke-opacity="0.007" stroke-width="1.2"/><line x1="201.7" y1="405.7" x2="319.1" y2="395.6" stroke="#000" stroke-opacity="0.007" stroke-width="1.2"/><line x1="201.7" y1="400.5" x2="319.1" y2="400.3" stroke="#000" stroke-opacity="0.024" stroke-width="1.2"/><line x1="201.7" y1="393.9" x2="319.1" y2="406.4" stroke="#000" stroke-opacity="0.015" stroke-width="1.2"/><line x1="201.7" y1="403.1" x2="319.1" y2="395.7" stroke="#000" stroke-opacity="0.032" stroke-width="1.2"/><line x1="201.7" y1="408.9" x2="319.1" y2="391.0" stroke="#000" stroke-opacity="0.029" stroke-width="1.2"/><line x1="201.7" y1="404.8" x2="319.1" y2="393.5" stroke="#000" stroke-opacity="0.007" stroke-width="1.2"/><line x1="201.7" y1="395.9" x2="319.1" y2="406.9" stroke="#000" stroke-opacity="0.009" stroke-width="1.2"/><line x1="201.7" y1="396.4" x2="319.1" y2="402.4" stroke="#000" stroke-opacity="0.015" stroke-width="1.2"/><line x1="201.7" y1="393.0" x2="319.1" y2="407.7" stroke="#000" stroke-opacity="0.020" stroke-width="1.2"/><line x1="201.7" y1="387.8" x2="319.1" y2="410.6" stroke="#000" stroke-opacity="0.025" stroke-width="1.2"/><line x1="201.7" y1="398.2" x2="319.1" y2="402.8" stroke="#000" stroke-opacity="0.015" stroke-width="1.2"/><line x1="201.7" y1="393.4" x2="319.1" y2="407.9" stroke="#000" stroke-opacity="0.030" stroke-width="1.2"/><line x1="201.7" y1="393.3" x2="319.1" y2="408.4" stroke="#000" stroke-opacity="0.018" stroke-width="1.2"/><line x1="201.7" y1="402.8" x2="319.1" y2="402.6" stroke="#000" stroke-opacity="0.030" stroke-width="1.2"/><line x1="201.7" y1="410.6" x2="319.1" y2="392.6" stroke="#000" stroke-opacity="0.021" stroke-width="1.2"/><line x1="201.7" y1="389.5" x2="319.1" y2="407.7" stroke="#000" stroke-opacity="0.023" stroke-width="1.2"/><line x1="201.7" y1="403.0" x2="319.1" y2="391.9" stroke="#000" stroke-opacity="0.010" stroke-width="1.2"/><line x1="201.7" y1="412.9" x2="319.1" y2="391.2" stroke="#000" stroke-opacity="0.007" stroke-width="1.2"/><line x1="201.7" y1="406.0" x2="319.1" y2="390.9" stroke="#000" stroke-opacity="0.011" stroke-width="1.2"/><line x1="201.7" y1="394.9" x2="319.1" y2="407.4" stroke="#000" stroke-opacity="0.021" stroke-width="1.2"/><line x1="201.7" y1="388.9" x2="319.1" y2="416.3" stroke="#000" stroke-opacity="0.009" stroke-width="1.2"/><line x1="201.7" y1="404.3" x2="319.1" y2="393.1" stroke="#000" stroke-opacity="0.022" stroke-width="1.2"/><line x1="201.7" y1="405.2" x2="319.1" y2="396.3" stroke="#000" stroke-opacity="0.010" stroke-width="1.2"/><line x1="201.7" y1="399.4" x2="319.1" y2="395.9" stroke="#000" stroke-opacity="0.014" stroke-width="1.2"/><line x1="201.7" y1="412.6" x2="319.1" y2="385.6" stroke="#000" stroke-opacity="0.013" stroke-width="1.2"/><line x1="201.7" y1="396.3" x2="319.1" y2="399.3" stroke="#000" stroke-opacity="0.029" stroke-width="1.2"/><line x1="201.7" y1="390.1" x2="319.1" y2="406.0" stroke="#000" stroke-opacity="0.026" stroke-width="1.2"/><line x1="201.7" y1="384.4" x2="319.1" y2="408.4" stroke="#000" stroke-opacity="0.029" stroke-width="1.2"/><line x1="201.7" y1="401.3" x2="319.1" y2="400.3" stroke="#000" stroke-opacity="0.015" stroke-width="1.2"/><line x1="201.7" y1="404.9" x2="319.1" y2="393.9" stroke="#000" stroke-opacity="0.022" stroke-width="1.2"/><line x1="201.7" y1="392.9" x2="319.1" y2="401.9" stroke="#000" stroke-opacity="0.015" stroke-width="1.2"/><line x1="201.7" y1="396.3" x2="319.1" y2="400.5" stroke="#000" stroke-opacity="0.029" stroke-width="1.2"/><line x1="201.7" y1="389.9" x2="319.1" y2="405.9" stroke="#000" stroke-opacity="0.008" stroke-width="1.2"/><line x1="201.7" y1="393.7" x2="319.1" y2="407.0" stroke="#000" stroke-opacity="0.014" stroke-width="1.2"/><line x1="201.7" y1="396.4" x2="319.1" y2="401.9" stroke="#000" stroke-opacity="0.031" stroke-width="1.2"/><line x1="201.7" y1="396.2" x2="319.1" y2="403.1" stroke="#000" stroke-opacity="0.030" stroke-width="1.2"/><line x1="201.7" y1="408.7" x2="319.1" y2="393.2" stroke="#000" stroke-opacity="0.020" stroke-width="1.2"/><line x1="201.7" y1="398.8" x2="319.1" y2="401.4" stroke="#000" stroke-opacity="0.007" stroke-width="1.2"/><line x1="201.7" y1="401.3" x2="319.1" y2="401.1" stroke="#000" stroke-opacity="0.009" stroke-width="1.2"/><line x1="201.7" y1="404.9" x2="319.1" y2="396.9" stroke="#000" stroke-opacity="0.030" stroke-width="1.2"/><line x1="201.7" y1="398.6" x2="319.1" y2="400.9" stroke="#000" stroke-opacity="0.032" stroke-width="1.2"/><line x1="201.7" y1="399.8" x2="319.1" y2="401.3" stroke="#000" stroke-opacity="0.020" stroke-width="1.2"/><line x1="201.7" y1="388.4" x2="319.1" y2="405.9" stroke="#000" stroke-opacity="0.028" stroke-width="1.2"/><line x1="201.7" y1="396.2" x2="319.1" y2="402.3" stroke="#000" stroke-opacity="0.014" stroke-width="1.2"/><line x1="201.7" y1="412.9" x2="319.1" y2="398.1" stroke="#000" stroke-opacity="0.028" stroke-width="1.2"/><line x1="201.7" y1="405.9" x2="319.1" y2="397.3" stroke="#000" stroke-opacity="0.016" stroke-width="1.2"/><line x1="201.7" y1="394.9" x2="319.1" y2="402.6" stroke="#000" stroke-opacity="0.018" stroke-width="1.2"/><line x1="201.7" y1="399.1" x2="319.1" y2="401.1" stroke="#000" stroke-opacity="0.030" stroke-width="1.2"/><line x1="201.7" y1="404.2" x2="319.1" y2="396.2" stroke="#000" stroke-opacity="0.020" stroke-width="1.2"/><line x1="201.7" y1="398.7" x2="319.1" y2="404.1" stroke="#000" stroke-opacity="0.031" stroke-width="1.2"/><line x1="201.7" y1="412.3" x2="319.1" y2="387.3" stroke="#000" stroke-opacity="0.025" stroke-width="1.2"/><line x1="201.7" y1="388.9" x2="319.1" y2="409.5" stroke="#000" stroke-opacity="0.025" stroke-width="1.2"/><line x1="201.7" y1="400.6" x2="319.1" y2="400.4" stroke="#000" stroke-opacity="0.027" stroke-width="1.2"/><line x1="201.7" y1="396.2" x2="319.1" y2="402.2" stroke="#000" stroke-opacity="0.028" stroke-width="1.2"/><line x1="201.7" y1="404.7" x2="319.1" y2="396.5" stroke="#000" stroke-opacity="0.019" stroke-width="1.2"/><line x1="201.7" y1="403.8" x2="319.1" y2="398.0" stroke="#000" stroke-opacity="0.027" stroke-width="1.2"/><line x1="201.7" y1="396.2" x2="319.1" y2="406.0" stroke="#000" stroke-opacity="0.010" stroke-width="1.2"/><line x1="201.7" y1="384.9" x2="319.1" y2="411.9" stroke="#000" stroke-opacity="0.015" stroke-width="1.2"/><line x1="201.7" y1="390.2" x2="319.1" y2="410.5" stroke="#000" stroke-opacity="0.006" stroke-width="1.2"/><line x1="201.7" y1="389.9" x2="319.1" y2="410.6" stroke="#000" stroke-opacity="0.018" stroke-width="1.2"/><line x1="201.7" y1="405.5" x2="319.1" y2="389.2" stroke="#000" stroke-opacity="0.013" stroke-width="1.2"/><line x1="201.7" y1="402.6" x2="319.1" y2="396.8" stroke="#000" stroke-opacity="0.015" stroke-width="1.2"/><line x1="201.7" y1="403.4" x2="319.1" y2="394.1" stroke="#000" stroke-opacity="0.015" stroke-width="1.2"/><line x1="201.7" y1="410.3" x2="319.1" y2="388.8" stroke="#000" stroke-opacity="0.017" stroke-width="1.2"/><line x1="201.7" y1="392.3" x2="319.1" y2="404.1" stroke="#000" stroke-opacity="0.030" stroke-width="1.2"/><line x1="201.7" y1="390.1" x2="319.1" y2="408.7" stroke="#000" stroke-opacity="0.017" stroke-width="1.2"/><line x1="201.7" y1="387.5" x2="319.1" y2="413.1" stroke="#000" stroke-opacity="0.016" stroke-width="1.2"/><line x1="201.7" y1="397.9" x2="319.1" y2="405.6" stroke="#000" stroke-opacity="0.021" stroke-width="1.2"/><line x1="201.7" y1="401.7" x2="319.1" y2="402.4" stroke="#000" stroke-opacity="0.020" stroke-width="1.2"/><line x1="201.7" y1="394.8" x2="319.1" y2="403.7" stroke="#000" stroke-opacity="0.023" stroke-width="1.2"/><line x1="201.7" y1="397.8" x2="319.1" y2="400.3" stroke="#000" stroke-opacity="0.014" stroke-width="1.2"/><line x1="201.7" y1="403.2" x2="319.1" y2="396.3" stroke="#000" stroke-opacity="0.022" stroke-width="1.2"/><line x1="201.7" y1="394.9" x2="319.1" y2="409.7" stroke="#000" stroke-opacity="0.030" stroke-width="1.2"/><line x1="201.7" y1="397.8" x2="319.1" y2="400.9" stroke="#000" stroke-opacity="0.012" stroke-width="1.2"/><line x1="201.7" y1="393.4" x2="319.1" y2="408.1" stroke="#000" stroke-opacity="0.021" stroke-width="1.2"/><line x1="201.7" y1="404.4" x2="319.1" y2="399.8" stroke="#000" stroke-opacity="0.030" stroke-width="1.2"/><line x1="201.7" y1="399.7" x2="319.1" y2="404.3" stroke="#000" stroke-opacity="0.023" stroke-width="1.2"/><line x1="201.7" y1="392.6" x2="319.1" y2="409.2" stroke="#000" stroke-opacity="0.015" stroke-width="1.2"/><line x1="201.7" y1="402.6" x2="319.1" y2="397.9" stroke="#000" stroke-opacity="0.024" stroke-width="1.2"/><line x1="201.7" y1="410.5" x2="319.1" y2="391.1" stroke="#000" stroke-opacity="0.020" stroke-width="1.2"/><line x1="201.7" y1="386.1" x2="319.1" y2="412.3" stroke="#000" stroke-opacity="0.019" stroke-width="1.2"/><line x1="201.7" y1="399.1" x2="319.1" y2="400.1" stroke="#000" stroke-opacity="0.019" stroke-width="1.2"/><line x1="201.7" y1="395.9" x2="319.1" y2="404.4" stroke="#000" stroke-opacity="0.016" stroke-width="1.2"/><line x1="201.7" y1="401.6" x2="319.1" y2="394.3" stroke="#000" stroke-opacity="0.024" stroke-width="1.2"/><line x1="201.7" y1="398.5" x2="319.1" y2="400.2" stroke="#000" stroke-opacity="0.013" stroke-width="1.2"/><line x1="201.7" y1="399.3" x2="319.1" y2="398.4" stroke="#000" stroke-opacity="0.016" stroke-width="1.2"/><line x1="201.7" y1="390.1" x2="319.1" y2="410.5" stroke="#000" stroke-opacity="0.021" stroke-width="1.2"/><line x1="201.7" y1="397.4" x2="319.1" y2="396.0" stroke="#000" stroke-opacity="0.027" stroke-width="1.2"/><line x1="201.7" y1="402.6" x2="319.1" y2="399.8" stroke="#000" stroke-opacity="0.032" stroke-width="1.2"/><line x1="201.7" y1="401.6" x2="319.1" y2="401.8" stroke="#000" stroke-opacity="0.022" stroke-width="1.2"/><line x1="201.7" y1="401.2" x2="319.1" y2="398.4" stroke="#000" stroke-opacity="0.019" stroke-width="1.2"/><line x1="201.7" y1="405.1" x2="319.1" y2="394.3" stroke="#000" stroke-opacity="0.006" stroke-width="1.2"/><line x1="201.7" y1="402.4" x2="319.1" y2="405.0" stroke="#000" stroke-opacity="0.018" stroke-width="1.2"/><line x1="201.7" y1="399.6" x2="319.1" y2="400.4" stroke="#000" stroke-opacity="0.015" stroke-width="1.2"/><line x1="201.7" y1="403.5" x2="319.1" y2="395.4" stroke="#000" stroke-opacity="0.028" stroke-width="1.2"/><line x1="201.7" y1="395.1" x2="319.1" y2="405.4" stroke="#000" stroke-opacity="0.022" stroke-width="1.2"/><line x1="201.7" y1="411.5" x2="319.1" y2="385.1" stroke="#000" stroke-opacity="0.023" stroke-width="1.2"/><line x1="201.7" y1="398.0" x2="319.1" y2="398.7" stroke="#000" stroke-opacity="0.021" stroke-width="1.2"/><line x1="201.7" y1="396.8" x2="319.1" y2="405.4" stroke="#000" stroke-opacity="0.020" stroke-width="1.2"/><line x1="201.7" y1="408.6" x2="319.1" y2="393.0" stroke="#000" stroke-opacity="0.013" stroke-width="1.2"/><line x1="201.7" y1="400.9" x2="319.1" y2="396.0" stroke="#000" stroke-opacity="0.023" stroke-width="1.2"/><line x1="201.7" y1="397.5" x2="319.1" y2="407.2" stroke="#000" stroke-opacity="0.030" stroke-width="1.2"/><line x1="201.7" y1="394.1" x2="319.1" y2="406.1" stroke="#000" stroke-opacity="0.013" stroke-width="1.2"/><line x1="201.7" y1="407.1" x2="319.1" y2="401.4" stroke="#000" stroke-opacity="0.012" stroke-width="1.2"/><line x1="201.7" y1="395.4" x2="319.1" y2="405.0" stroke="#000" stroke-opacity="0.023" stroke-width="1.2"/><line x1="201.7" y1="393.9" x2="319.1" y2="406.9" stroke="#000" stroke-opacity="0.019" stroke-width="1.2"/><line x1="201.7" y1="397.4" x2="319.1" y2="405.3" stroke="#000" stroke-opacity="0.009" stroke-width="1.2"/><line x1="201.7" y1="394.0" x2="319.1" y2="402.4" stroke="#000" stroke-opacity="0.031" stroke-width="1.2"/><line x1="201.7" y1="393.8" x2="319.1" y2="406.8" stroke="#000" stroke-opacity="0.024" stroke-width="1.2"/><line x1="201.7" y1="402.4" x2="319.1" y2="395.7" stroke="#000" stroke-opacity="0.009" stroke-width="1.2"/><line x1="201.7" y1="401.6" x2="319.1" y2="396.5" stroke="#000" stroke-opacity="0.014" stroke-width="1.2"/><line x1="201.7" y1="413.6" x2="319.1" y2="388.2" stroke="#000" stroke-opacity="0.012" stroke-width="1.2"/><line x1="201.7" y1="400.7" x2="319.1" y2="396.2" stroke="#000" stroke-opacity="0.028" stroke-width="1.2"/><line x1="201.7" y1="410.5" x2="319.1" y2="398.1" stroke="#000" stroke-opacity="0.011" stroke-width="1.2"/><line x1="201.7" y1="407.7" x2="319.1" y2="394.5" stroke="#000" stroke-opacity="0.031" stroke-width="1.2"/><line x1="201.7" y1="400.3" x2="319.1" y2="401.6" stroke="#000" stroke-opacity="0.027" stroke-width="1.2"/><line x1="201.7" y1="401.5" x2="319.1" y2="403.0" stroke="#000" stroke-opacity="0.019" stroke-width="1.2"/><line x1="201.7" y1="397.4" x2="319.1" y2="401.0" stroke="#000" stroke-opacity="0.006" stroke-width="1.2"/><line x1="201.7" y1="386.7" x2="319.1" y2="412.7" stroke="#000" stroke-opacity="0.014" stroke-width="1.2"/><line x1="201.7" y1="402.1" x2="319.1" y2="393.6" stroke="#000" stroke-opacity="0.008" stroke-width="1.2"/><line x1="201.7" y1="407.4" x2="319.1" y2="391.0" stroke="#000" stroke-opacity="0.030" stroke-width="1.2"/><line x1="201.7" y1="400.7" x2="319.1" y2="399.5" stroke="#000" stroke-opacity="0.022" stroke-width="1.2"/><line x1="201.7" y1="399.7" x2="319.1" y2="398.1" stroke="#000" stroke-opacity="0.008" stroke-width="1.2"/><line x1="201.7" y1="391.5" x2="319.1" y2="405.3" stroke="#000" stroke-opacity="0.028" stroke-width="1.2"/><line x1="201.7" y1="393.7" x2="319.1" y2="404.3" stroke="#000" stroke-opacity="0.023" stroke-width="1.2"/><line x1="201.7" y1="404.3" x2="319.1" y2="391.8" stroke="#000" stroke-opacity="0.029" stroke-width="1.2"/><line x1="201.7" y1="393.9" x2="319.1" y2="406.5" stroke="#000" stroke-opacity="0.013" stroke-width="1.2"/><line x1="201.7" y1="396.7" x2="319.1" y2="403.3" stroke="#000" stroke-opacity="0.024" stroke-width="1.2"/><line x1="201.7" y1="397.2" x2="319.1" y2="406.5" stroke="#000" stroke-opacity="0.027" stroke-width="1.2"/><line x1="201.7" y1="390.3" x2="319.1" y2="406.9" stroke="#000" stroke-opacity="0.018" stroke-width="1.2"/><line x1="201.7" y1="399.6" x2="319.1" y2="399.3" stroke="#000" stroke-opacity="0.011" stroke-width="1.2"/><line x1="201.7" y1="411.6" x2="319.1" y2="393.8" stroke="#000" stroke-opacity="0.012" stroke-width="1.2"/><line x1="201.7" y1="400.6" x2="319.1" y2="396.5" stroke="#000" stroke-opacity="0.010" stroke-width="1.2"/><line x1="201.7" y1="391.7" x2="319.1" y2="406.9" stroke="#000" stroke-opacity="0.020" stroke-width="1.2"/><line x1="201.7" y1="400.3" x2="319.1" y2="398.7" stroke="#000" stroke-opacity="0.009" stroke-width="1.2"/><line x1="201.7" y1="397.6" x2="319.1" y2="407.9" stroke="#000" stroke-opacity="0.016" stroke-width="1.2"/><line x1="201.7" y1="397.0" x2="319.1" y2="410.5" stroke="#000" stroke-opacity="0.026" stroke-width="1.2"/><line x1="201.7" y1="395.9" x2="319.1" y2="408.1" stroke="#000" stroke-opacity="0.016" stroke-width="1.2"/><line x1="201.7" y1="403.6" x2="319.1" y2="399.2" stroke="#000" stroke-opacity="0.016" stroke-width="1.2"/><line x1="201.7" y1="396.7" x2="319.1" y2="405.4" stroke="#000" stroke-opacity="0.026" stroke-width="1.2"/><line x1="201.7" y1="398.3" x2="319.1" y2="401.0" stroke="#000" stroke-opacity="0.022" stroke-width="1.2"/><line x1="201.7" y1="408.1" x2="319.1" y2="392.7" stroke="#000" stroke-opacity="0.025" stroke-width="1.2"/><line x1="201.7" y1="400.2" x2="319.1" y2="397.6" stroke="#000" stroke-opacity="0.030" stroke-width="1.2"/><line x1="201.7" y1="396.4" x2="319.1" y2="407.4" stroke="#000" stroke-opacity="0.008" stroke-width="1.2"/><line x1="201.7" y1="397.8" x2="319.1" y2="391.6" stroke="#000" stroke-opacity="0.027" stroke-width="1.2"/><line x1="201.7" y1="394.3" x2="319.1" y2="406.3" stroke="#000" stroke-opacity="0.016" stroke-width="1.2"/><line x1="201.7" y1="399.5" x2="319.1" y2="400.6" stroke="#000" stroke-opacity="0.022" stroke-width="1.2"/><line x1="201.7" y1="388.4" x2="319.1" y2="410.2" stroke="#000" stroke-opacity="0.028" stroke-width="1.2"/><line x1="201.7" y1="398.7" x2="319.1" y2="403.5" stroke="#000" stroke-opacity="0.030" stroke-width="1.2"/><line x1="201.7" y1="405.8" x2="319.1" y2="396.5" stroke="#000" stroke-opacity="0.008" stroke-width="1.2"/><line x1="201.7" y1="411.0" x2="319.1" y2="386.6" stroke="#000" stroke-opacity="0.011" stroke-width="1.2"/><line x1="201.7" y1="406.2" x2="319.1" y2="399.6" stroke="#000" stroke-opacity="0.021" stroke-width="1.2"/><line x1="201.7" y1="399.9" x2="319.1" y2="403.3" stroke="#000" stroke-opacity="0.032" stroke-width="1.2"/><line x1="201.7" y1="407.0" x2="319.1" y2="394.5" stroke="#000" stroke-opacity="0.011" stroke-width="1.2"/><line x1="201.7" y1="412.1" x2="319.1" y2="396.6" stroke="#000" stroke-opacity="0.021" stroke-width="1.2"/><line x1="201.7" y1="403.7" x2="319.1" y2="393.3" stroke="#000" stroke-opacity="0.024" stroke-width="1.2"/><line x1="201.7" y1="400.5" x2="319.1" y2="398.4" stroke="#000" stroke-opacity="0.014" stroke-width="1.2"/><line x1="201.7" y1="398.0" x2="319.1" y2="397.1" stroke="#000" stroke-opacity="0.013" stroke-width="1.2"/><line x1="201.7" y1="403.8" x2="319.1" y2="397.7" stroke="#000" stroke-opacity="0.023" stroke-width="1.2"/><line x1="201.7" y1="401.7" x2="319.1" y2="400.0" stroke="#000" stroke-opacity="0.007" stroke-width="1.2"/><line x1="201.7" y1="410.3" x2="319.1" y2="395.4" stroke="#000" stroke-opacity="0.023" stroke-width="1.2"/><line x1="201.7" y1="406.5" x2="319.1" y2="391.7" stroke="#000" stroke-opacity="0.027" stroke-width="1.2"/><line x1="201.7" y1="408.7" x2="319.1" y2="396.8" stroke="#000" stroke-opacity="0.025" stroke-width="1.2"/><line x1="201.7" y1="397.7" x2="319.1" y2="398.0" stroke="#000" stroke-opacity="0.029" stroke-width="1.2"/><line x1="201.7" y1="394.7" x2="319.1" y2="407.2" stroke="#000" stroke-opacity="0.014" stroke-width="1.2"/><line x1="201.7" y1="402.4" x2="319.1" y2="395.8" stroke="#000" stroke-opacity="0.018" stroke-width="1.2"/><line x1="201.7" y1="394.5" x2="319.1" y2="403.6" stroke="#000" stroke-opacity="0.019" stroke-width="1.2"/><line x1="201.7" y1="391.9" x2="319.1" y2="413.8" stroke="#000" stroke-opacity="0.011" stroke-width="1.2"/><line x1="201.7" y1="406.6" x2="319.1" y2="388.9" stroke="#000" stroke-opacity="0.023" stroke-width="1.2"/><line x1="201.7" y1="395.3" x2="319.1" y2="398.6" stroke="#000" stroke-opacity="0.028" stroke-width="1.2"/><line x1="201.7" y1="405.1" x2="319.1" y2="393.5" stroke="#000" stroke-opacity="0.017" stroke-width="1.2"/><line x1="201.7" y1="393.2" x2="319.1" y2="404.3" stroke="#000" stroke-opacity="0.008" stroke-width="1.2"/><line x1="201.7" y1="397.6" x2="319.1" y2="399.8" stroke="#000" stroke-opacity="0.007" stroke-width="1.2"/><line x1="201.7" y1="403.0" x2="319.1" y2="395.7" stroke="#000" stroke-opacity="0.026" stroke-width="1.2"/><line x1="201.7" y1="391.2" x2="319.1" y2="409.3" stroke="#000" stroke-opacity="0.008" stroke-width="1.2"/><line x1="201.7" y1="406.6" x2="319.1" y2="397.3" stroke="#000" stroke-opacity="0.030" stroke-width="1.2"/><line x1="201.7" y1="402.3" x2="319.1" y2="393.4" stroke="#000" stroke-opacity="0.009" stroke-width="1.2"/>
<line x1="199.50" y1="398.80" x2="319.30" y2="400.70" stroke="#000" stroke-width="1.7"/>
<line x1="199.50" y1="339.50" x2="199.50" y2="459.80" stroke="#262626" stroke-width="1"/>
<line x1="198.50" y1="459.50" x2="319.80" y2="459.50" stroke="#262626" stroke-width="1"/>
<line x1="195.60" y1="339.50" x2="199.00" y2="339.50" stroke="#262626" stroke-width="1"/>
<line x1="195.60" y1="369.50" x2="199.00" y2="369.50" stroke="#262626" stroke-width="1"/>
<line x1="195.60" y1="399.50" x2="199.00" y2="399.50" stroke="#262626" stroke-width="1"/>
<line x1="195.60" y1="429.50" x2="199.00" y2="429.50" stroke="#262626" stroke-width="1"/>
<line x1="195.60" y1="459.50" x2="199.00" y2="459.50" stroke="#262626" stroke-width="1"/>
<line x1="199.50" y1="459.40" x2="199.50" y2="463.40" stroke="#262626" stroke-width="1"/>
<line x1="229.50" y1="459.40" x2="229.50" y2="463.40" stroke="#262626" stroke-width="1"/>
<line x1="259.50" y1="459.40" x2="259.50" y2="463.40" stroke="#262626" stroke-width="1"/>
<line x1="289.50" y1="459.40" x2="289.50" y2="463.40" stroke="#262626" stroke-width="1"/>
<line x1="319.50" y1="459.40" x2="319.50" y2="463.40" stroke="#262626" stroke-width="1"/>
<text x="191.00" y="343.50" font-size="10.3" text-anchor="end" fill="#000">1</text>
<text x="191.00" y="465.00" font-size="10.3" text-anchor="end" fill="#000">-1</text>
<text x="196.60" y="476.70" font-size="10.3" text-anchor="middle" fill="#000">-1</text>
<text x="259.40" y="476.70" font-size="10.3" text-anchor="middle" fill="#000">0</text>
<text x="319.40" y="476.70" font-size="10.3" text-anchor="middle" fill="#000">1</text>
<text x="260.00" y="494.10" font-size="12.5" text-anchor="middle" fill="#000">rpe (z)</text>
<text x="182.20" y="400.00" font-size="12.5" text-anchor="middle" fill="#000" transform="rotate(-90 182.2 400)">pm (z)</text>
<text x="203.00" y="342.60" font-size="9.1" text-anchor="start" fill="#000">rho=-0.02</text>
<text x="328.20" y="321.90" font-size="24.2" text-anchor="start" fill="#000">e<tspan dx="1.6">)</tspan></text>
<rect x="393.20" y="334.40" width="24.96" height="41.57" fill="#fef0a8" stroke="none" stroke-width="1" shape-rendering="crispEdges"/>
<rect x="417.86" y="334.40" width="24.96" height="41.57" fill="#fdfbb8" stroke="none" stroke-width="1" shape-rendering="crispEdges"/>
<rect x="442.52" y="334.40" width="24.96" height="41.57" fill="#fee290" stroke="none" stroke-width="1" shape-rendering="crispEdges"/>
<rect x="467.18" y="334.40" width="24.96" height="41.57" fill="#f7854f" stroke="none" stroke-width="1" shape-rendering="crispEdges"/>
<rect x="491.84" y="334.40" width="24.96" height="41.57" fill="#fba35c" stroke="none" stroke-width="1" shape-rendering="crispEdges"/>
<rect x="393.20" y="375.67" width="24.96" height="41.57" fill="#e2f19d" stroke="none" stroke-width="1" shape-rendering="crispEdges"/>
<rect x="417.86" y="375.67" width="24.96" height="41.57" fill="#eef6a9" stroke="none" stroke-width="1" shape-rendering="crispEdges"/>
<rect x="442.52" y="375.67" width="24.96" height="41.57" fill="#fefcc0" stroke="none" stroke-width="1" shape-rendering="crispEdges"/>
<rect x="467.18" y="375.67" width="24.96" height="41.57" fill="#fef2ad" stroke="none" stroke-width="1" shape-rendering="crispEdges"/>
<rect x="491.84" y="375.67" width="24.96" height="41.57" fill="#9e0142" stroke="none" stroke-width="1" shape-rendering="crispEdges"/>
<rect x="393.20" y="416.93" width="24.96" height="41.57" fill="#c6e7a0" stroke="none" stroke-width="1" shape-rendering="crispEdges"/>
<rect x="417.86" y="416.93" width="24.96" height="41.57" fill="#b8e1a0" stroke="none" stroke-width="1" shape-rendering="crispEdges"/>
<rect x="442.52" y="416.93" width="24.96" height="41.57" fill="#fdd88a" stroke="none" stroke-width="1" shape-rendering="crispEdges"/>
<rect x="467.18" y="416.93" width="24.96" height="41.57" fill="#fdda8b" stroke="none" stroke-width="1" shape-rendering="crispEdges"/>
<rect x="491.84" y="416.93" width="24.96" height="41.57" fill="#5e4fa2" stroke="none" stroke-width="1" shape-rendering="crispEdges"/>
<line x1="393.20" y1="334.50" x2="516.50" y2="334.50" stroke="#262626" stroke-width="1"/>
<line x1="516.50" y1="334.40" x2="516.50" y2="458.20" stroke="#262626" stroke-width="1"/>
<line x1="393.50" y1="333.90" x2="393.50" y2="458.70" stroke="#262626" stroke-width="1"/>
<line x1="392.70" y1="458.50" x2="516.50" y2="458.50" stroke="#262626" stroke-width="1"/>
<line x1="390.00" y1="334.50" x2="393.20" y2="334.50" stroke="#262626" stroke-width="1"/>
<line x1="390.00" y1="355.50" x2="393.20" y2="355.50" stroke="#262626" stroke-width="1"/>
<line x1="390.00" y1="375.50" x2="393.20" y2="375.50" stroke="#262626" stroke-width="1"/>
<line x1="390.00" y1="396.50" x2="393.20" y2="396.50" stroke="#262626" stroke-width="1"/>
<line x1="390.00" y1="416.50" x2="393.20" y2="416.50" stroke="#262626" stroke-width="1"/>
<line x1="390.00" y1="437.50" x2="393.20" y2="437.50" stroke="#262626" stroke-width="1"/>
<line x1="390.00" y1="458.50" x2="393.20" y2="458.50" stroke="#262626" stroke-width="1"/>
<line x1="393.50" y1="458.20" x2="393.50" y2="461.40" stroke="#262626" stroke-width="1"/>
<line x1="430.50" y1="458.20" x2="430.50" y2="461.40" stroke="#262626" stroke-width="1"/>
<line x1="454.50" y1="458.20" x2="454.50" y2="461.40" stroke="#262626" stroke-width="1"/>
<line x1="479.50" y1="458.20" x2="479.50" y2="461.40" stroke="#262626" stroke-width="1"/>
<line x1="516.50" y1="458.20" x2="516.50" y2="461.40" stroke="#262626" stroke-width="1"/>
<text x="390.60" y="338.20" font-size="10.6" text-anchor="end" fill="#000">1.5</text>
<text x="389.20" y="400.20" font-size="10.6" text-anchor="end" fill="#000">0</text>
<text x="388.20" y="461.00" font-size="10.6" text-anchor="end" fill="#000">-1.5</text>
<text x="394.20" y="476.50" font-size="10.6" text-anchor="middle" fill="#000">-1.5</text>
<text x="455.50" y="476.50" font-size="10.6" text-anchor="middle" fill="#000">0</text>
<text x="516.60" y="476.50" font-size="10.6" text-anchor="middle" fill="#000">1.5</text>
<text x="455.50" y="495.00" font-size="12.5" text-anchor="middle" fill="#000">rpe (z)</text>
<text x="366.40" y="396.50" font-size="12.5" text-anchor="middle" fill="#000" transform="rotate(-90 366.4 396.5)">pm (z)</text>
<rect x="524.30" y="334.40" width="3.80" height="124.00" fill="url(#ge)" stroke="#000" stroke-width="0.9"/>
<line x1="528.10" y1="334.40" x2="530.20" y2="334.40" stroke="#000" stroke-width="0.9"/>
<line x1="528.10" y1="361.00" x2="530.20" y2="361.00" stroke="#000" stroke-width="0.9"/>
<line x1="528.10" y1="387.60" x2="530.20" y2="387.60" stroke="#000" stroke-width="0.9"/>
<line x1="528.10" y1="414.20" x2="530.20" y2="414.20" stroke="#000" stroke-width="0.9"/>
<line x1="528.10" y1="440.80" x2="530.20" y2="440.80" stroke="#000" stroke-width="0.9"/>
<text x="532.20" y="338.10" font-size="10.6" text-anchor="start" fill="#000">0.8</text>
<text x="532.20" y="444.60" font-size="10.6" text-anchor="start" fill="#000">0.5</text>
<text x="536.30" y="322.80" font-size="12.3" text-anchor="middle" fill="#000">p(hit)</text>
<defs><filter id="bl" x="0" y="0" width="1" height="1"><feGaussianBlur stdDeviation="1.2" edgeMode="duplicate"/></filter><clipPath id="ce"><rect x="554.40" y="334.40" width="123.60" height="123.80"/></clipPath></defs>
<g clip-path="url(#ce)"><g filter="url(#bl)" shape-rendering="crispEdges"><rect x="554.40" y="334.40" width="3.36" height="3.37" fill="#dd4a4c"/><rect x="557.41" y="334.40" width="3.36" height="3.37" fill="#d0384e"/><rect x="560.43" y="334.40" width="3.36" height="3.37" fill="#d23a4e"/><rect x="563.44" y="334.40" width="3.36" height="3.37" fill="#df4e4b"/><rect x="566.46" y="334.40" width="3.36" height="3.37" fill="#f46d43"/><rect x="569.47" y="334.40" width="3.36" height="3.37" fill="#fba35c"/><rect x="572.49" y="334.40" width="3.36" height="3.37" fill="#fed683"/><rect x="575.50" y="334.40" width="3.36" height="3.37" fill="#fff8b4"/><rect x="578.52" y="334.40" width="3.36" height="3.37" fill="#eef8a4"/><rect x="581.53" y="334.40" width="3.36" height="3.37" fill="#c8e99e"/><rect x="584.55" y="334.40" width="3.36" height="3.37" fill="#a4daa4"/><rect x="587.56" y="334.40" width="3.36" height="3.37" fill="#8cd1a4"/><rect x="590.58" y="334.40" width="3.36" height="3.37" fill="#84cea5"/><rect x="593.59" y="334.40" width="3.36" height="3.37" fill="#89d0a4"/><rect x="596.60" y="334.40" width="3.36" height="3.37" fill="#97d5a4"/><rect x="599.62" y="334.40" width="3.36" height="3.37" fill="#aadca4"/><rect x="602.63" y="334.40" width="3.36" height="3.37" fill="#c1e6a0"/><rect x="605.65" y="334.40" width="3.36" height="3.37" fill="#d6ee9b"/><rect x="608.66" y="334.40" width="3.36" height="3.37" fill="#e6f598"/><rect x="611.68" y="334.40" width="3.36" height="3.37" fill="#e9f69d"/><rect x="614.69" y="334.40" width="3.36" height="3.37" fill="#e6f598"/><rect x="617.71" y="334.40" width="3.36" height="3.37" fill="#cfec9d"/><rect x="620.72" y="334.40" width="3.36" height="3.37" fill="#aedea3"/><rect x="623.74" y="334.40" width="3.36" height="3.37" fill="#86cfa5"/><rect x="626.75" y="334.40" width="3.36" height="3.37" fill="#64c0a6"/><rect x="629.77" y="334.40" width="3.36" height="3.37" fill="#54aead"/><rect x="632.78" y="334.40" width="3.36" height="3.37" fill="#54aead"/><rect x="635.80" y="334.40" width="3.36" height="3.37" fill="#64c0a6"/><rect x="638.81" y="334.40" width="3.36" height="3.37" fill="#86cfa5"/><rect x="641.82" y="334.40" width="3.36" height="3.37" fill="#b5e1a2"/><rect x="644.84" y="334.40" width="3.36" height="3.37" fill="#e6f598"/><rect x="647.85" y="334.40" width="3.36" height="3.37" fill="#fbfdb8"/><rect x="650.87" y="334.40" width="3.36" height="3.37" fill="#feea9b"/><rect x="653.88" y="334.40" width="3.36" height="3.37" fill="#fdc574"/><rect x="656.90" y="334.40" width="3.36" height="3.37" fill="#fa9857"/><rect x="659.91" y="334.40" width="3.36" height="3.37" fill="#f26944"/><rect x="662.93" y="334.40" width="3.36" height="3.37" fill="#dd4a4c"/><rect x="665.94" y="334.40" width="3.36" height="3.37" fill="#c52c4b"/><rect x="668.96" y="334.40" width="3.36" height="3.37" fill="#ad1246"/><rect x="671.97" y="334.40" width="3.36" height="3.37" fill="#9e0142"/><rect x="674.99" y="334.40" width="3.36" height="3.37" fill="#9e0142"/><rect x="554.40" y="337.42" width="3.36" height="3.37" fill="#e1504b"/><rect x="557.41" y="337.42" width="3.36" height="3.37" fill="#d0384e"/><rect x="560.43" y="337.42" width="3.36" height="3.37" fill="#d0384e"/><rect x="563.44" y="337.42" width="3.36" height="3.37" fill="#dd4a4c"/><rect x="566.46" y="337.42" width="3.36" height="3.37" fill="#f06744"/><rect x="569.47" y="337.42" width="3.36" height="3.37" fill="#fa9b58"/><rect x="572.49" y="337.42" width="3.36" height="3.37" fill="#fece7c"/><rect x="575.50" y="337.42" width="3.36" height="3.37" fill="#fff3ac"/><rect x="578.52" y="337.42" width="3.36" height="3.37" fill="#f1f9a9"/><rect x="581.53" y="337.42" width="3.36" height="3.37" fill="#cfec9d"/><rect x="584.55" y="337.42" width="3.36" height="3.37" fill="#aadca4"/><rect x="587.56" y="337.42" width="3.36" height="3.37" fill="#8fd2a4"/><rect x="590.58" y="337.42" width="3.36" height="3.37" fill="#81cda5"/><rect x="593.59" y="337.42" width="3.36" height="3.37" fill="#84cea5"/><rect x="596.60" y="337.42" width="3.36" height="3.37" fill="#8fd2a4"/><rect x="599.62" y="337.42" width="3.36" height="3.37" fill="#a2d9a4"/><rect x="602.63" y="337.42" width="3.36" height="3.37" fill="#b8e2a1"/><rect x="605.65" y="337.42" width="3.36" height="3.37" fill="#cfec9d"/><rect x="608.66" y="337.42" width="3.36" height="3.37" fill="#e1f399"/><rect x="611.68" y="337.42" width="3.36" height="3.37" fill="#e8f69b"/><rect x="614.69" y="337.42" width="3.36" height="3.37" fill="#e6f598"/><rect x="617.71" y="337.42" width="3.36" height="3.37" fill="#d1ed9c"/><rect x="620.72" y="337.42" width="3.36" height="3.37" fill="#b3e0a2"/><rect x="623.74" y="337.42" width="3.36" height="3.37" fill="#8fd2a4"/><rect x="626.75" y="337.42" width="3.36" height="3.37" fill="#6bc4a5"/><rect x="629.77" y="337.42" width="3.36" height="3.37" fill="#5ab4ab"/><rect x="632.78" y="337.42" width="3.36" height="3.37" fill="#5ab4ab"/><rect x="635.80" y="337.42" width="3.36" height="3.37" fill="#69c3a5"/><rect x="638.81" y="337.42" width="3.36" height="3.37" fill="#8cd1a4"/><rect x="641.82" y="337.42" width="3.36" height="3.37" fill="#b8e2a1"/><rect x="644.84" y="337.42" width="3.36" height="3.37" fill="#e6f598"/><rect x="647.85" y="337.42" width="3.36" height="3.37" fill="#fcfeba"/><rect x="650.87" y="337.42" width="3.36" height="3.37" fill="#fee999"/><rect x="653.88" y="337.42" width="3.36" height="3.37" fill="#fdc574"/><rect x="656.90" y="337.42" width="3.36" height="3.37" fill="#f99355"/><rect x="659.91" y="337.42" width="3.36" height="3.37" fill="#ef6645"/><rect x="662.93" y="337.42" width="3.36" height="3.37" fill="#d9444d"/><rect x="665.94" y="337.42" width="3.36" height="3.37" fill="#be254a"/><rect x="668.96" y="337.42" width="3.36" height="3.37" fill="#a40844"/><rect x="671.97" y="337.42" width="3.36" height="3.37" fill="#9e0142"/><rect x="674.99" y="337.42" width="3.36" height="3.37" fill="#9e0142"/><rect x="554.40" y="340.44" width="3.36" height="3.37" fill="#df4e4b"/><rect x="557.41" y="340.44" width="3.36" height="3.37" fill="#d0384e"/><rect x="560.43" y="340.44" width="3.36" height="3.37" fill="#cd364d"/><rect x="563.44" y="340.44" width="3.36" height="3.37" fill="#dc484c"/><rect x="566.46" y="340.44" width="3.36" height="3.37" fill="#ee6445"/><rect x="569.47" y="340.44" width="3.36" height="3.37" fill="#fa9656"/><rect x="572.49" y="340.44" width="3.36" height="3.37" fill="#fec877"/><rect x="575.50" y="340.44" width="3.36" height="3.37" fill="#fff0a6"/><rect x="578.52" y="340.44" width="3.36" height="3.37" fill="#f4faad"/><rect x="581.53" y="340.44" width="3.36" height="3.37" fill="#d3ed9c"/><rect x="584.55" y="340.44" width="3.36" height="3.37" fill="#acdda4"/><rect x="587.56" y="340.44" width="3.36" height="3.37" fill="#8fd2a4"/><rect x="590.58" y="340.44" width="3.36" height="3.37" fill="#7ecca5"/><rect x="593.59" y="340.44" width="3.36" height="3.37" fill="#7ccaa5"/><rect x="596.60" y="340.44" width="3.36" height="3.37" fill="#81cda5"/><rect x="599.62" y="340.44" width="3.36" height="3.37" fill="#94d4a4"/><rect x="602.63" y="340.44" width="3.36" height="3.37" fill="#aedea3"/><rect x="605.65" y="340.44" width="3.36" height="3.37" fill="#c6e89f"/><rect x="608.66" y="340.44" width="3.36" height="3.37" fill="#daf09a"/><rect x="611.68" y="340.44" width="3.36" height="3.37" fill="#e6f598"/><rect x="614.69" y="340.44" width="3.36" height="3.37" fill="#e6f598"/><rect x="617.71" y="340.44" width="3.36" height="3.37" fill="#d6ee9b"/><rect x="620.72" y="340.44" width="3.36" height="3.37" fill="#bae3a1"/><rect x="623.74" y="340.44" width="3.36" height="3.37" fill="#99d6a4"/><rect x="626.75" y="340.44" width="3.36" height="3.37" fill="#79c9a5"/><rect x="629.77" y="340.44" width="3.36" height="3.37" fill="#64c0a6"/><rect x="632.78" y="340.44" width="3.36" height="3.37" fill="#64c0a6"/><rect x="635.80" y="340.44" width="3.36" height="3.37" fill="#76c8a5"/><rect x="638.81" y="340.44" width="3.36" height="3.37" fill="#97d5a4"/><rect x="641.82" y="340.44" width="3.36" height="3.37" fill="#bfe5a0"/><rect x="644.84" y="340.44" width="3.36" height="3.37" fill="#e8f69b"/><rect x="647.85" y="340.44" width="3.36" height="3.37" fill="#fcfeba"/><rect x="650.87" y="340.44" width="3.36" height="3.37" fill="#feea9b"/><rect x="653.88" y="340.44" width="3.36" height="3.37" fill="#fdc776"/><rect x="656.90" y="340.44" width="3.36" height="3.37" fill="#fa9b58"/><rect x="659.91" y="340.44" width="3.36" height="3.37" fill="#f46d43"/><rect x="662.93" y="340.44" width="3.36" height="3.37" fill="#df4e4b"/><rect x="665.94" y="340.44" width="3.36" height="3.37" fill="#c72e4c"/><rect x="668.96" y="340.44" width="3.36" height="3.37" fill="#af1446"/><rect x="671.97" y="340.44" width="3.36" height="3.37" fill="#a00343"/><rect x="674.99" y="340.44" width="3.36" height="3.37" fill="#9e0142"/><rect x="554.40" y="343.46" width="3.36" height="3.37" fill="#dc484c"/><rect x="557.41" y="343.46" width="3.36" height="3.37" fill="#cd364d"/><rect x="560.43" y="343.46" width="3.36" height="3.37" fill="#cd364d"/><rect x="563.44" y="343.46" width="3.36" height="3.37" fill="#dc484c"/><rect x="566.46" y="343.46" width="3.36" height="3.37" fill="#ee6445"/><rect x="569.47" y="343.46" width="3.36" height="3.37" fill="#f99355"/><rect x="572.49" y="343.46" width="3.36" height="3.37" fill="#fdc776"/><rect x="575.50" y="343.46" width="3.36" height="3.37" fill="#feeda1"/><rect x="578.52" y="343.46" width="3.36" height="3.37" fill="#f6fbb0"/><rect x="581.53" y="343.46" width="3.36" height="3.37" fill="#d8ef9b"/><rect x="584.55" y="343.46" width="3.36" height="3.37" fill="#aedea3"/><rect x="587.56" y="343.46" width="3.36" height="3.37" fill="#8fd2a4"/><rect x="590.58" y="343.46" width="3.36" height="3.37" fill="#79c9a5"/><rect x="593.59" y="343.46" width="3.36" height="3.37" fill="#71c6a5"/><rect x="596.60" y="343.46" width="3.36" height="3.37" fill="#74c7a5"/><rect x="599.62" y="343.46" width="3.36" height="3.37" fill="#84cea5"/><rect x="602.63" y="343.46" width="3.36" height="3.37" fill="#9fd8a4"/><rect x="605.65" y="343.46" width="3.36" height="3.37" fill="#bae3a1"/><rect x="608.66" y="343.46" width="3.36" height="3.37" fill="#d1ed9c"/><rect x="611.68" y="343.46" width="3.36" height="3.37" fill="#e1f399"/><rect x="614.69" y="343.46" width="3.36" height="3.37" fill="#e6f598"/><rect x="617.71" y="343.46" width="3.36" height="3.37" fill="#daf09a"/><rect x="620.72" y="343.46" width="3.36" height="3.37" fill="#c1e6a0"/><rect x="623.74" y="343.46" width="3.36" height="3.37" fill="#a4daa4"/><rect x="626.75" y="343.46" width="3.36" height="3.37" fill="#86cfa5"/><rect x="629.77" y="343.46" width="3.36" height="3.37" fill="#74c7a5"/><rect x="632.78" y="343.46" width="3.36" height="3.37" fill="#74c7a5"/><rect x="635.80" y="343.46" width="3.36" height="3.37" fill="#84cea5"/><rect x="638.81" y="343.46" width="3.36" height="3.37" fill="#a4daa4"/><rect x="641.82" y="343.46" width="3.36" height="3.37" fill="#c8e99e"/><rect x="644.84" y="343.46" width="3.36" height="3.37" fill="#eaf79e"/><rect x="647.85" y="343.46" width="3.36" height="3.37" fill="#fdfebb"/><rect x="650.87" y="343.46" width="3.36" height="3.37" fill="#feec9f"/><rect x="653.88" y="343.46" width="3.36" height="3.37" fill="#fece7c"/><rect x="656.90" y="343.46" width="3.36" height="3.37" fill="#fcaa5f"/><rect x="659.91" y="343.46" width="3.36" height="3.37" fill="#f67f4b"/><rect x="662.93" y="343.46" width="3.36" height="3.37" fill="#ea5e47"/><rect x="665.94" y="343.46" width="3.36" height="3.37" fill="#da464d"/><rect x="668.96" y="343.46" width="3.36" height="3.37" fill="#c72e4c"/><rect x="671.97" y="343.46" width="3.36" height="3.37" fill="#b81e48"/><rect x="674.99" y="343.46" width="3.36" height="3.37" fill="#af1446"/><rect x="554.40" y="346.48" width="3.36" height="3.37" fill="#d8434e"/><rect x="557.41" y="346.48" width="3.36" height="3.37" fill="#cd364d"/><rect x="560.43" y="346.48" width="3.36" height="3.37" fill="#d0384e"/><rect x="563.44" y="346.48" width="3.36" height="3.37" fill="#de4c4b"/><rect x="566.46" y="346.48" width="3.36" height="3.37" fill="#f06744"/><rect x="569.47" y="346.48" width="3.36" height="3.37" fill="#fa9656"/><rect x="572.49" y="346.48" width="3.36" height="3.37" fill="#fdc776"/><rect x="575.50" y="346.48" width="3.36" height="3.37" fill="#feec9f"/><rect x="578.52" y="346.48" width="3.36" height="3.37" fill="#f7fcb2"/><rect x="581.53" y="346.48" width="3.36" height="3.37" fill="#ddf19a"/><rect x="584.55" y="346.48" width="3.36" height="3.37" fill="#b1dfa3"/><rect x="587.56" y="346.48" width="3.36" height="3.37" fill="#8cd1a4"/><rect x="590.58" y="346.48" width="3.36" height="3.37" fill="#71c6a5"/><rect x="593.59" y="346.48" width="3.36" height="3.37" fill="#64c0a6"/><rect x="596.60" y="346.48" width="3.36" height="3.37" fill="#66c2a5"/><rect x="599.62" y="346.48" width="3.36" height="3.37" fill="#74c7a5"/><rect x="602.63" y="346.48" width="3.36" height="3.37" fill="#8cd1a4"/><rect x="605.65" y="346.48" width="3.36" height="3.37" fill="#aedea3"/><rect x="608.66" y="346.48" width="3.36" height="3.37" fill="#caea9e"/><rect x="611.68" y="346.48" width="3.36" height="3.37" fill="#dff299"/><rect x="614.69" y="346.48" width="3.36" height="3.37" fill="#e6f598"/><rect x="617.71" y="346.48" width="3.36" height="3.37" fill="#ddf19a"/><rect x="620.72" y="346.48" width="3.36" height="3.37" fill="#caea9e"/><rect x="623.74" y="346.48" width="3.36" height="3.37" fill="#b1dfa3"/><rect x="626.75" y="346.48" width="3.36" height="3.37" fill="#97d5a4"/><rect x="629.77" y="346.48" width="3.36" height="3.37" fill="#84cea5"/><rect x="632.78" y="346.48" width="3.36" height="3.37" fill="#84cea5"/><rect x="635.80" y="346.48" width="3.36" height="3.37" fill="#97d5a4"/><rect x="638.81" y="346.48" width="3.36" height="3.37" fill="#b1dfa3"/><rect x="641.82" y="346.48" width="3.36" height="3.37" fill="#d1ed9c"/><rect x="644.84" y="346.48" width="3.36" height="3.37" fill="#edf8a3"/><rect x="647.85" y="346.48" width="3.36" height="3.37" fill="#fdfebb"/><rect x="650.87" y="346.48" width="3.36" height="3.37" fill="#feefa3"/><rect x="653.88" y="346.48" width="3.36" height="3.37" fill="#fed884"/><rect x="656.90" y="346.48" width="3.36" height="3.37" fill="#fdbb6c"/><rect x="659.91" y="346.48" width="3.36" height="3.37" fill="#fa9b58"/><rect x="662.93" y="346.48" width="3.36" height="3.37" fill="#f67a49"/><rect x="665.94" y="346.48" width="3.36" height="3.37" fill="#eb6046"/><rect x="668.96" y="346.48" width="3.36" height="3.37" fill="#e1504b"/><rect x="671.97" y="346.48" width="3.36" height="3.37" fill="#d7414e"/><rect x="674.99" y="346.48" width="3.36" height="3.37" fill="#cd364d"/><rect x="554.40" y="349.50" width="3.36" height="3.37" fill="#d63f4f"/><rect x="557.41" y="349.50" width="3.36" height="3.37" fill="#d0384e"/><rect x="560.43" y="349.50" width="3.36" height="3.37" fill="#d63f4f"/><rect x="563.44" y="349.50" width="3.36" height="3.37" fill="#e2514a"/><rect x="566.46" y="349.50" width="3.36" height="3.37" fill="#f46d43"/><rect x="569.47" y="349.50" width="3.36" height="3.37" fill="#fb9d59"/><rect x="572.49" y="349.50" width="3.36" height="3.37" fill="#feca79"/><rect x="575.50" y="349.50" width="3.36" height="3.37" fill="#feeda1"/><rect x="578.52" y="349.50" width="3.36" height="3.37" fill="#f8fcb4"/><rect x="581.53" y="349.50" width="3.36" height="3.37" fill="#dff299"/><rect x="584.55" y="349.50" width="3.36" height="3.37" fill="#b3e0a2"/><rect x="587.56" y="349.50" width="3.36" height="3.37" fill="#89d0a4"/><rect x="590.58" y="349.50" width="3.36" height="3.37" fill="#6bc4a5"/><rect x="593.59" y="349.50" width="3.36" height="3.37" fill="#5cb7aa"/><rect x="596.60" y="349.50" width="3.36" height="3.37" fill="#5ab4ab"/><rect x="599.62" y="349.50" width="3.36" height="3.37" fill="#62bda7"/><rect x="602.63" y="349.50" width="3.36" height="3.37" fill="#7ccaa5"/><rect x="605.65" y="349.50" width="3.36" height="3.37" fill="#9fd8a4"/><rect x="608.66" y="349.50" width="3.36" height="3.37" fill="#c1e6a0"/><rect x="611.68" y="349.50" width="3.36" height="3.37" fill="#d8ef9b"/><rect x="614.69" y="349.50" width="3.36" height="3.37" fill="#e6f598"/><rect x="617.71" y="349.50" width="3.36" height="3.37" fill="#e1f399"/><rect x="620.72" y="349.50" width="3.36" height="3.37" fill="#d1ed9c"/><rect x="623.74" y="349.50" width="3.36" height="3.37" fill="#bae3a1"/><rect x="626.75" y="349.50" width="3.36" height="3.37" fill="#a4daa4"/><rect x="629.77" y="349.50" width="3.36" height="3.37" fill="#97d5a4"/><rect x="632.78" y="349.50" width="3.36" height="3.37" fill="#97d5a4"/><rect x="635.80" y="349.50" width="3.36" height="3.37" fill="#a7dba4"/><rect x="638.81" y="349.50" width="3.36" height="3.37" fill="#bfe5a0"/><rect x="641.82" y="349.50" width="3.36" height="3.37" fill="#ddf19a"/><rect x="644.84" y="349.50" width="3.36" height="3.37" fill="#f0f9a7"/><rect x="647.85" y="349.50" width="3.36" height="3.37" fill="#fefebd"/><rect x="650.87" y="349.50" width="3.36" height="3.37" fill="#fff1a8"/><rect x="653.88" y="349.50" width="3.36" height="3.37" fill="#fee18d"/><rect x="656.90" y="349.50" width="3.36" height="3.37" fill="#feca79"/><rect x="659.91" y="349.50" width="3.36" height="3.37" fill="#fdb567"/><rect x="662.93" y="349.50" width="3.36" height="3.37" fill="#fb9d59"/><rect x="665.94" y="349.50" width="3.36" height="3.37" fill="#f7844e"/><rect x="668.96" y="349.50" width="3.36" height="3.37" fill="#f47044"/><rect x="671.97" y="349.50" width="3.36" height="3.37" fill="#ed6246"/><rect x="674.99" y="349.50" width="3.36" height="3.37" fill="#e55749"/><rect x="554.40" y="352.52" width="3.36" height="3.37" fill="#d63f4f"/><rect x="557.41" y="352.52" width="3.36" height="3.37" fill="#d63f4f"/><rect x="560.43" y="352.52" width="3.36" height="3.37" fill="#dd4a4c"/><rect x="563.44" y="352.52" width="3.36" height="3.37" fill="#e95c47"/><rect x="566.46" y="352.52" width="3.36" height="3.37" fill="#f67c4a"/><rect x="569.47" y="352.52" width="3.36" height="3.37" fill="#fca85e"/><rect x="572.49" y="352.52" width="3.36" height="3.37" fill="#fed07e"/><rect x="575.50" y="352.52" width="3.36" height="3.37" fill="#fff0a6"/><rect x="578.52" y="352.52" width="3.36" height="3.37" fill="#f7fcb2"/><rect x="581.53" y="352.52" width="3.36" height="3.37" fill="#dff299"/><rect x="584.55" y="352.52" width="3.36" height="3.37" fill="#b3e0a2"/><rect x="587.56" y="352.52" width="3.36" height="3.37" fill="#89d0a4"/><rect x="590.58" y="352.52" width="3.36" height="3.37" fill="#66c2a5"/><rect x="593.59" y="352.52" width="3.36" height="3.37" fill="#56b0ad"/><rect x="596.60" y="352.52" width="3.36" height="3.37" fill="#50a9af"/><rect x="599.62" y="352.52" width="3.36" height="3.37" fill="#56b0ad"/><rect x="602.63" y="352.52" width="3.36" height="3.37" fill="#6bc4a5"/><rect x="605.65" y="352.52" width="3.36" height="3.37" fill="#91d3a4"/><rect x="608.66" y="352.52" width="3.36" height="3.37" fill="#b8e2a1"/><rect x="611.68" y="352.52" width="3.36" height="3.37" fill="#d3ed9c"/><rect x="614.69" y="352.52" width="3.36" height="3.37" fill="#e4f498"/><rect x="617.71" y="352.52" width="3.36" height="3.37" fill="#e4f498"/><rect x="620.72" y="352.52" width="3.36" height="3.37" fill="#d8ef9b"/><rect x="623.74" y="352.52" width="3.36" height="3.37" fill="#c6e89f"/><rect x="626.75" y="352.52" width="3.36" height="3.37" fill="#b3e0a2"/><rect x="629.77" y="352.52" width="3.36" height="3.37" fill="#a7dba4"/><rect x="632.78" y="352.52" width="3.36" height="3.37" fill="#aadca4"/><rect x="635.80" y="352.52" width="3.36" height="3.37" fill="#b8e2a1"/><rect x="638.81" y="352.52" width="3.36" height="3.37" fill="#cfec9d"/><rect x="641.82" y="352.52" width="3.36" height="3.37" fill="#e7f59a"/><rect x="644.84" y="352.52" width="3.36" height="3.37" fill="#f3faac"/><rect x="647.85" y="352.52" width="3.36" height="3.37" fill="#ffffbe"/><rect x="650.87" y="352.52" width="3.36" height="3.37" fill="#fff2aa"/><rect x="653.88" y="352.52" width="3.36" height="3.37" fill="#fee797"/><rect x="656.90" y="352.52" width="3.36" height="3.37" fill="#feda86"/><rect x="659.91" y="352.52" width="3.36" height="3.37" fill="#feca79"/><rect x="662.93" y="352.52" width="3.36" height="3.37" fill="#fdbb6c"/><rect x="665.94" y="352.52" width="3.36" height="3.37" fill="#fdad60"/><rect x="668.96" y="352.52" width="3.36" height="3.37" fill="#fa9b58"/><rect x="671.97" y="352.52" width="3.36" height="3.37" fill="#f88950"/><rect x="674.99" y="352.52" width="3.36" height="3.37" fill="#f67a49"/><rect x="554.40" y="355.54" width="3.36" height="3.37" fill="#da464d"/><rect x="557.41" y="355.54" width="3.36" height="3.37" fill="#de4c4b"/><rect x="560.43" y="355.54" width="3.36" height="3.37" fill="#e75948"/><rect x="563.44" y="355.54" width="3.36" height="3.37" fill="#f46d43"/><rect x="566.46" y="355.54" width="3.36" height="3.37" fill="#f99153"/><rect x="569.47" y="355.54" width="3.36" height="3.37" fill="#fdb768"/><rect x="572.49" y="355.54" width="3.36" height="3.37" fill="#feda86"/><rect x="575.50" y="355.54" width="3.36" height="3.37" fill="#fff3ac"/><rect x="578.52" y="355.54" width="3.36" height="3.37" fill="#f6fbb0"/><rect x="581.53" y="355.54" width="3.36" height="3.37" fill="#dff299"/><rect x="584.55" y="355.54" width="3.36" height="3.37" fill="#b3e0a2"/><rect x="587.56" y="355.54" width="3.36" height="3.37" fill="#89d0a4"/><rect x="590.58" y="355.54" width="3.36" height="3.37" fill="#64c0a6"/><rect x="593.59" y="355.54" width="3.36" height="3.37" fill="#50a9af"/><rect x="596.60" y="355.54" width="3.36" height="3.37" fill="#47a0b3"/><rect x="599.62" y="355.54" width="3.36" height="3.37" fill="#4ea7b0"/><rect x="602.63" y="355.54" width="3.36" height="3.37" fill="#62bda7"/><rect x="605.65" y="355.54" width="3.36" height="3.37" fill="#86cfa5"/><rect x="608.66" y="355.54" width="3.36" height="3.37" fill="#aedea3"/><rect x="611.68" y="355.54" width="3.36" height="3.37" fill="#cfec9d"/><rect x="614.69" y="355.54" width="3.36" height="3.37" fill="#e4f498"/><rect x="617.71" y="355.54" width="3.36" height="3.37" fill="#e6f598"/><rect x="620.72" y="355.54" width="3.36" height="3.37" fill="#ddf19a"/><rect x="623.74" y="355.54" width="3.36" height="3.37" fill="#cfec9d"/><rect x="626.75" y="355.54" width="3.36" height="3.37" fill="#bfe5a0"/><rect x="629.77" y="355.54" width="3.36" height="3.37" fill="#b5e1a2"/><rect x="632.78" y="355.54" width="3.36" height="3.37" fill="#b8e2a1"/><rect x="635.80" y="355.54" width="3.36" height="3.37" fill="#c6e89f"/><rect x="638.81" y="355.54" width="3.36" height="3.37" fill="#daf09a"/><rect x="641.82" y="355.54" width="3.36" height="3.37" fill="#ecf7a1"/><rect x="644.84" y="355.54" width="3.36" height="3.37" fill="#f7fcb2"/><rect x="647.85" y="355.54" width="3.36" height="3.37" fill="#fffebe"/><rect x="650.87" y="355.54" width="3.36" height="3.37" fill="#fff5ae"/><rect x="653.88" y="355.54" width="3.36" height="3.37" fill="#feeb9d"/><rect x="656.90" y="355.54" width="3.36" height="3.37" fill="#fee491"/><rect x="659.91" y="355.54" width="3.36" height="3.37" fill="#fedc88"/><rect x="662.93" y="355.54" width="3.36" height="3.37" fill="#fed07e"/><rect x="665.94" y="355.54" width="3.36" height="3.37" fill="#fdc776"/><rect x="668.96" y="355.54" width="3.36" height="3.37" fill="#fdbd6d"/><rect x="671.97" y="355.54" width="3.36" height="3.37" fill="#fdaf62"/><rect x="674.99" y="355.54" width="3.36" height="3.37" fill="#fba05b"/><rect x="554.40" y="358.56" width="3.36" height="3.37" fill="#e55749"/><rect x="557.41" y="358.56" width="3.36" height="3.37" fill="#eb6046"/><rect x="560.43" y="358.56" width="3.36" height="3.37" fill="#f47044"/><rect x="563.44" y="358.56" width="3.36" height="3.37" fill="#f88c51"/><rect x="566.46" y="358.56" width="3.36" height="3.37" fill="#fdad60"/><rect x="569.47" y="358.56" width="3.36" height="3.37" fill="#fec877"/><rect x="572.49" y="358.56" width="3.36" height="3.37" fill="#fee593"/><rect x="575.50" y="358.56" width="3.36" height="3.37" fill="#fff8b4"/><rect x="578.52" y="358.56" width="3.36" height="3.37" fill="#f4faad"/><rect x="581.53" y="358.56" width="3.36" height="3.37" fill="#ddf19a"/><rect x="584.55" y="358.56" width="3.36" height="3.37" fill="#b3e0a2"/><rect x="587.56" y="358.56" width="3.36" height="3.37" fill="#89d0a4"/><rect x="590.58" y="358.56" width="3.36" height="3.37" fill="#62bda7"/><rect x="593.59" y="358.56" width="3.36" height="3.37" fill="#4ea7b0"/><rect x="596.60" y="358.56" width="3.36" height="3.37" fill="#439bb5"/><rect x="599.62" y="358.56" width="3.36" height="3.37" fill="#47a0b3"/><rect x="602.63" y="358.56" width="3.36" height="3.37" fill="#5ab4ab"/><rect x="605.65" y="358.56" width="3.36" height="3.37" fill="#7ccaa5"/><rect x="608.66" y="358.56" width="3.36" height="3.37" fill="#a7dba4"/><rect x="611.68" y="358.56" width="3.36" height="3.37" fill="#caea9e"/><rect x="614.69" y="358.56" width="3.36" height="3.37" fill="#e1f399"/><rect x="617.71" y="358.56" width="3.36" height="3.37" fill="#e6f598"/><rect x="620.72" y="358.56" width="3.36" height="3.37" fill="#e1f399"/><rect x="623.74" y="358.56" width="3.36" height="3.37" fill="#d6ee9b"/><rect x="626.75" y="358.56" width="3.36" height="3.37" fill="#c8e99e"/><rect x="629.77" y="358.56" width="3.36" height="3.37" fill="#c1e6a0"/><rect x="632.78" y="358.56" width="3.36" height="3.37" fill="#c6e89f"/><rect x="635.80" y="358.56" width="3.36" height="3.37" fill="#d3ed9c"/><rect x="638.81" y="358.56" width="3.36" height="3.37" fill="#e6f598"/><rect x="641.82" y="358.56" width="3.36" height="3.37" fill="#f0f9a7"/><rect x="644.84" y="358.56" width="3.36" height="3.37" fill="#fafdb7"/><rect x="647.85" y="358.56" width="3.36" height="3.37" fill="#fffcba"/><rect x="650.87" y="358.56" width="3.36" height="3.37" fill="#fff5ae"/><rect x="653.88" y="358.56" width="3.36" height="3.37" fill="#feefa3"/><rect x="656.90" y="358.56" width="3.36" height="3.37" fill="#fee999"/><rect x="659.91" y="358.56" width="3.36" height="3.37" fill="#fee491"/><rect x="662.93" y="358.56" width="3.36" height="3.37" fill="#fee08b"/><rect x="665.94" y="358.56" width="3.36" height="3.37" fill="#fed884"/><rect x="668.96" y="358.56" width="3.36" height="3.37" fill="#fed07e"/><rect x="671.97" y="358.56" width="3.36" height="3.37" fill="#fdc574"/><rect x="674.99" y="358.56" width="3.36" height="3.37" fill="#fdb768"/><rect x="554.40" y="361.58" width="3.36" height="3.37" fill="#f57245"/><rect x="557.41" y="361.58" width="3.36" height="3.37" fill="#f7844e"/><rect x="560.43" y="361.58" width="3.36" height="3.37" fill="#fa9857"/><rect x="563.44" y="361.58" width="3.36" height="3.37" fill="#fdb163"/><rect x="566.46" y="361.58" width="3.36" height="3.37" fill="#fdc776"/><rect x="569.47" y="361.58" width="3.36" height="3.37" fill="#fede89"/><rect x="572.49" y="361.58" width="3.36" height="3.37" fill="#feefa3"/><rect x="575.50" y="361.58" width="3.36" height="3.37" fill="#ffffbe"/><rect x="578.52" y="361.58" width="3.36" height="3.37" fill="#f0f9a7"/><rect x="581.53" y="361.58" width="3.36" height="3.37" fill="#d8ef9b"/><rect x="584.55" y="361.58" width="3.36" height="3.37" fill="#b3e0a2"/><rect x="587.56" y="361.58" width="3.36" height="3.37" fill="#89d0a4"/><rect x="590.58" y="361.58" width="3.36" height="3.37" fill="#64c0a6"/><rect x="593.59" y="361.58" width="3.36" height="3.37" fill="#4ea7b0"/><rect x="596.60" y="361.58" width="3.36" height="3.37" fill="#4199b6"/><rect x="599.62" y="361.58" width="3.36" height="3.37" fill="#459eb4"/><rect x="602.63" y="361.58" width="3.36" height="3.37" fill="#58b2ac"/><rect x="605.65" y="361.58" width="3.36" height="3.37" fill="#79c9a5"/><rect x="608.66" y="361.58" width="3.36" height="3.37" fill="#a2d9a4"/><rect x="611.68" y="361.58" width="3.36" height="3.37" fill="#c6e89f"/><rect x="614.69" y="361.58" width="3.36" height="3.37" fill="#ddf19a"/><rect x="617.71" y="361.58" width="3.36" height="3.37" fill="#e6f598"/><rect x="620.72" y="361.58" width="3.36" height="3.37" fill="#e1f399"/><rect x="623.74" y="361.58" width="3.36" height="3.37" fill="#d8ef9b"/><rect x="626.75" y="361.58" width="3.36" height="3.37" fill="#cfec9d"/><rect x="629.77" y="361.58" width="3.36" height="3.37" fill="#caea9e"/><rect x="632.78" y="361.58" width="3.36" height="3.37" fill="#cfec9d"/><rect x="635.80" y="361.58" width="3.36" height="3.37" fill="#ddf19a"/><rect x="638.81" y="361.58" width="3.36" height="3.37" fill="#eaf79e"/><rect x="641.82" y="361.58" width="3.36" height="3.37" fill="#f3faac"/><rect x="644.84" y="361.58" width="3.36" height="3.37" fill="#fcfeba"/><rect x="647.85" y="361.58" width="3.36" height="3.37" fill="#fffab6"/><rect x="650.87" y="361.58" width="3.36" height="3.37" fill="#fff3ac"/><rect x="653.88" y="361.58" width="3.36" height="3.37" fill="#feeda1"/><rect x="656.90" y="361.58" width="3.36" height="3.37" fill="#fee999"/><rect x="659.91" y="361.58" width="3.36" height="3.37" fill="#fee593"/><rect x="662.93" y="361.58" width="3.36" height="3.37" fill="#fee18d"/><rect x="665.94" y="361.58" width="3.36" height="3.37" fill="#fedc88"/><rect x="668.96" y="361.58" width="3.36" height="3.37" fill="#fed683"/><rect x="671.97" y="361.58" width="3.36" height="3.37" fill="#fecc7b"/><rect x="674.99" y="361.58" width="3.36" height="3.37" fill="#fdc171"/><rect x="554.40" y="364.60" width="3.36" height="3.37" fill="#fcaa5f"/><rect x="557.41" y="364.60" width="3.36" height="3.37" fill="#fdb96a"/><rect x="560.43" y="364.60" width="3.36" height="3.37" fill="#fdc776"/><rect x="563.44" y="364.60" width="3.36" height="3.37" fill="#fed683"/><rect x="566.46" y="364.60" width="3.36" height="3.37" fill="#fee491"/><rect x="569.47" y="364.60" width="3.36" height="3.37" fill="#feefa3"/><rect x="572.49" y="364.60" width="3.36" height="3.37" fill="#fffcba"/><rect x="575.50" y="364.60" width="3.36" height="3.37" fill="#f7fcb2"/><rect x="578.52" y="364.60" width="3.36" height="3.37" fill="#ebf7a0"/><rect x="581.53" y="364.60" width="3.36" height="3.37" fill="#d3ed9c"/><rect x="584.55" y="364.60" width="3.36" height="3.37" fill="#b3e0a2"/><rect x="587.56" y="364.60" width="3.36" height="3.37" fill="#8fd2a4"/><rect x="590.58" y="364.60" width="3.36" height="3.37" fill="#69c3a5"/><rect x="593.59" y="364.60" width="3.36" height="3.37" fill="#54aead"/><rect x="596.60" y="364.60" width="3.36" height="3.37" fill="#47a0b3"/><rect x="599.62" y="364.60" width="3.36" height="3.37" fill="#49a2b2"/><rect x="602.63" y="364.60" width="3.36" height="3.37" fill="#5ab4ab"/><rect x="605.65" y="364.60" width="3.36" height="3.37" fill="#79c9a5"/><rect x="608.66" y="364.60" width="3.36" height="3.37" fill="#9fd8a4"/><rect x="611.68" y="364.60" width="3.36" height="3.37" fill="#c1e6a0"/><rect x="614.69" y="364.60" width="3.36" height="3.37" fill="#d8ef9b"/><rect x="617.71" y="364.60" width="3.36" height="3.37" fill="#e1f399"/><rect x="620.72" y="364.60" width="3.36" height="3.37" fill="#e1f399"/><rect x="623.74" y="364.60" width="3.36" height="3.37" fill="#daf09a"/><rect x="626.75" y="364.60" width="3.36" height="3.37" fill="#d1ed9c"/><rect x="629.77" y="364.60" width="3.36" height="3.37" fill="#cfec9d"/><rect x="632.78" y="364.60" width="3.36" height="3.37" fill="#d3ed9c"/><rect x="635.80" y="364.60" width="3.36" height="3.37" fill="#e1f399"/><rect x="638.81" y="364.60" width="3.36" height="3.37" fill="#ecf7a1"/><rect x="641.82" y="364.60" width="3.36" height="3.37" fill="#f5fbaf"/><rect x="644.84" y="364.60" width="3.36" height="3.37" fill="#fefebd"/><rect x="647.85" y="364.60" width="3.36" height="3.37" fill="#fff7b2"/><rect x="650.87" y="364.60" width="3.36" height="3.37" fill="#fff0a6"/><rect x="653.88" y="364.60" width="3.36" height="3.37" fill="#feea9b"/><rect x="656.90" y="364.60" width="3.36" height="3.37" fill="#fee491"/><rect x="659.91" y="364.60" width="3.36" height="3.37" fill="#fede89"/><rect x="662.93" y="364.60" width="3.36" height="3.37" fill="#fed884"/><rect x="665.94" y="364.60" width="3.36" height="3.37" fill="#fed07e"/><rect x="668.96" y="364.60" width="3.36" height="3.37" fill="#feca79"/><rect x="671.97" y="364.60" width="3.36" height="3.37" fill="#fdc372"/><rect x="674.99" y="364.60" width="3.36" height="3.37" fill="#fdbb6c"/><rect x="554.40" y="367.61" width="3.36" height="3.37" fill="#fee491"/><rect x="557.41" y="367.61" width="3.36" height="3.37" fill="#fee999"/><rect x="560.43" y="367.61" width="3.36" height="3.37" fill="#feefa3"/><rect x="563.44" y="367.61" width="3.36" height="3.37" fill="#fff5ae"/><rect x="566.46" y="367.61" width="3.36" height="3.37" fill="#fffbb8"/><rect x="569.47" y="367.61" width="3.36" height="3.37" fill="#fdfebb"/><rect x="572.49" y="367.61" width="3.36" height="3.37" fill="#f6fbb0"/><rect x="575.50" y="367.61" width="3.36" height="3.37" fill="#eef8a4"/><rect x="578.52" y="367.61" width="3.36" height="3.37" fill="#e6f598"/><rect x="581.53" y="367.61" width="3.36" height="3.37" fill="#cdeb9d"/><rect x="584.55" y="367.61" width="3.36" height="3.37" fill="#b3e0a2"/><rect x="587.56" y="367.61" width="3.36" height="3.37" fill="#94d4a4"/><rect x="590.58" y="367.61" width="3.36" height="3.37" fill="#74c7a5"/><rect x="593.59" y="367.61" width="3.36" height="3.37" fill="#5cb7aa"/><rect x="596.60" y="367.61" width="3.36" height="3.37" fill="#52abae"/><rect x="599.62" y="367.61" width="3.36" height="3.37" fill="#52abae"/><rect x="602.63" y="367.61" width="3.36" height="3.37" fill="#60bba8"/><rect x="605.65" y="367.61" width="3.36" height="3.37" fill="#7ecca5"/><rect x="608.66" y="367.61" width="3.36" height="3.37" fill="#a2d9a4"/><rect x="611.68" y="367.61" width="3.36" height="3.37" fill="#bfe5a0"/><rect x="614.69" y="367.61" width="3.36" height="3.37" fill="#d3ed9c"/><rect x="617.71" y="367.61" width="3.36" height="3.37" fill="#ddf19a"/><rect x="620.72" y="367.61" width="3.36" height="3.37" fill="#ddf19a"/><rect x="623.74" y="367.61" width="3.36" height="3.37" fill="#d6ee9b"/><rect x="626.75" y="367.61" width="3.36" height="3.37" fill="#d1ed9c"/><rect x="629.77" y="367.61" width="3.36" height="3.37" fill="#cfec9d"/><rect x="632.78" y="367.61" width="3.36" height="3.37" fill="#d6ee9b"/><rect x="635.80" y="367.61" width="3.36" height="3.37" fill="#e1f399"/><rect x="638.81" y="367.61" width="3.36" height="3.37" fill="#ecf7a1"/><rect x="641.82" y="367.61" width="3.36" height="3.37" fill="#f5fbaf"/><rect x="644.84" y="367.61" width="3.36" height="3.37" fill="#ffffbe"/><rect x="647.85" y="367.61" width="3.36" height="3.37" fill="#fff5ae"/><rect x="650.87" y="367.61" width="3.36" height="3.37" fill="#feeb9d"/><rect x="653.88" y="367.61" width="3.36" height="3.37" fill="#fee18d"/><rect x="656.90" y="367.61" width="3.36" height="3.37" fill="#fed481"/><rect x="659.91" y="367.61" width="3.36" height="3.37" fill="#fec877"/><rect x="662.93" y="367.61" width="3.36" height="3.37" fill="#fdbf6f"/><rect x="665.94" y="367.61" width="3.36" height="3.37" fill="#fdb567"/><rect x="668.96" y="367.61" width="3.36" height="3.37" fill="#fdad60"/><rect x="671.97" y="367.61" width="3.36" height="3.37" fill="#fca55d"/><rect x="674.99" y="367.61" width="3.36" height="3.37" fill="#fba05b"/><rect x="554.40" y="370.63" width="3.36" height="3.37" fill="#f5fbaf"/><rect x="557.41" y="370.63" width="3.36" height="3.37" fill="#f4faad"/><rect x="560.43" y="370.63" width="3.36" height="3.37" fill="#f2faaa"/><rect x="563.44" y="370.63" width="3.36" height="3.37" fill="#f1f9a9"/><rect x="566.46" y="370.63" width="3.36" height="3.37" fill="#eff9a6"/><rect x="569.47" y="370.63" width="3.36" height="3.37" fill="#ecf7a1"/><rect x="572.49" y="370.63" width="3.36" height="3.37" fill="#e9f69d"/><rect x="575.50" y="370.63" width="3.36" height="3.37" fill="#e4f498"/><rect x="578.52" y="370.63" width="3.36" height="3.37" fill="#d6ee9b"/><rect x="581.53" y="370.63" width="3.36" height="3.37" fill="#c6e89f"/><rect x="584.55" y="370.63" width="3.36" height="3.37" fill="#b3e0a2"/><rect x="587.56" y="370.63" width="3.36" height="3.37" fill="#99d6a4"/><rect x="590.58" y="370.63" width="3.36" height="3.37" fill="#81cda5"/><rect x="593.59" y="370.63" width="3.36" height="3.37" fill="#6bc4a5"/><rect x="596.60" y="370.63" width="3.36" height="3.37" fill="#60bba8"/><rect x="599.62" y="370.63" width="3.36" height="3.37" fill="#60bba8"/><rect x="602.63" y="370.63" width="3.36" height="3.37" fill="#6ec5a5"/><rect x="605.65" y="370.63" width="3.36" height="3.37" fill="#86cfa5"/><rect x="608.66" y="370.63" width="3.36" height="3.37" fill="#a4daa4"/><rect x="611.68" y="370.63" width="3.36" height="3.37" fill="#bce4a0"/><rect x="614.69" y="370.63" width="3.36" height="3.37" fill="#cdeb9d"/><rect x="617.71" y="370.63" width="3.36" height="3.37" fill="#d6ee9b"/><rect x="620.72" y="370.63" width="3.36" height="3.37" fill="#d6ee9b"/><rect x="623.74" y="370.63" width="3.36" height="3.37" fill="#d1ed9c"/><rect x="626.75" y="370.63" width="3.36" height="3.37" fill="#cdeb9d"/><rect x="629.77" y="370.63" width="3.36" height="3.37" fill="#cdeb9d"/><rect x="632.78" y="370.63" width="3.36" height="3.37" fill="#d3ed9c"/><rect x="635.80" y="370.63" width="3.36" height="3.37" fill="#dff299"/><rect x="638.81" y="370.63" width="3.36" height="3.37" fill="#ebf7a0"/><rect x="641.82" y="370.63" width="3.36" height="3.37" fill="#f4faad"/><rect x="644.84" y="370.63" width="3.36" height="3.37" fill="#ffffbe"/><rect x="647.85" y="370.63" width="3.36" height="3.37" fill="#fff2aa"/><rect x="650.87" y="370.63" width="3.36" height="3.37" fill="#fee593"/><rect x="653.88" y="370.63" width="3.36" height="3.37" fill="#fed481"/><rect x="656.90" y="370.63" width="3.36" height="3.37" fill="#fdbf6f"/><rect x="659.91" y="370.63" width="3.36" height="3.37" fill="#fdad60"/><rect x="662.93" y="370.63" width="3.36" height="3.37" fill="#fa9857"/><rect x="665.94" y="370.63" width="3.36" height="3.37" fill="#f88950"/><rect x="668.96" y="370.63" width="3.36" height="3.37" fill="#f67c4a"/><rect x="671.97" y="370.63" width="3.36" height="3.37" fill="#f57748"/><rect x="674.99" y="370.63" width="3.36" height="3.37" fill="#f67a49"/><rect x="554.40" y="373.65" width="3.36" height="3.37" fill="#bae3a1"/><rect x="557.41" y="373.65" width="3.36" height="3.37" fill="#c1e6a0"/><rect x="560.43" y="373.65" width="3.36" height="3.37" fill="#c6e89f"/><rect x="563.44" y="373.65" width="3.36" height="3.37" fill="#caea9e"/><rect x="566.46" y="373.65" width="3.36" height="3.37" fill="#cdeb9d"/><rect x="569.47" y="373.65" width="3.36" height="3.37" fill="#cfec9d"/><rect x="572.49" y="373.65" width="3.36" height="3.37" fill="#cfec9d"/><rect x="575.50" y="373.65" width="3.36" height="3.37" fill="#cdeb9d"/><rect x="578.52" y="373.65" width="3.36" height="3.37" fill="#c8e99e"/><rect x="581.53" y="373.65" width="3.36" height="3.37" fill="#bfe5a0"/><rect x="584.55" y="373.65" width="3.36" height="3.37" fill="#b3e0a2"/><rect x="587.56" y="373.65" width="3.36" height="3.37" fill="#a2d9a4"/><rect x="590.58" y="373.65" width="3.36" height="3.37" fill="#91d3a4"/><rect x="593.59" y="373.65" width="3.36" height="3.37" fill="#81cda5"/><rect x="596.60" y="373.65" width="3.36" height="3.37" fill="#76c8a5"/><rect x="599.62" y="373.65" width="3.36" height="3.37" fill="#76c8a5"/><rect x="602.63" y="373.65" width="3.36" height="3.37" fill="#81cda5"/><rect x="605.65" y="373.65" width="3.36" height="3.37" fill="#94d4a4"/><rect x="608.66" y="373.65" width="3.36" height="3.37" fill="#aadca4"/><rect x="611.68" y="373.65" width="3.36" height="3.37" fill="#bae3a1"/><rect x="614.69" y="373.65" width="3.36" height="3.37" fill="#c8e99e"/><rect x="617.71" y="373.65" width="3.36" height="3.37" fill="#cdeb9d"/><rect x="620.72" y="373.65" width="3.36" height="3.37" fill="#cdeb9d"/><rect x="623.74" y="373.65" width="3.36" height="3.37" fill="#caea9e"/><rect x="626.75" y="373.65" width="3.36" height="3.37" fill="#c8e99e"/><rect x="629.77" y="373.65" width="3.36" height="3.37" fill="#c8e99e"/><rect x="632.78" y="373.65" width="3.36" height="3.37" fill="#cfec9d"/><rect x="635.80" y="373.65" width="3.36" height="3.37" fill="#daf09a"/><rect x="638.81" y="373.65" width="3.36" height="3.37" fill="#e9f69d"/><rect x="641.82" y="373.65" width="3.36" height="3.37" fill="#f2faaa"/><rect x="644.84" y="373.65" width="3.36" height="3.37" fill="#fdfebb"/><rect x="647.85" y="373.65" width="3.36" height="3.37" fill="#fff2aa"/><rect x="650.87" y="373.65" width="3.36" height="3.37" fill="#fee18d"/><rect x="653.88" y="373.65" width="3.36" height="3.37" fill="#fdc776"/><rect x="656.90" y="373.65" width="3.36" height="3.37" fill="#fdad60"/><rect x="659.91" y="373.65" width="3.36" height="3.37" fill="#f98e52"/><rect x="662.93" y="373.65" width="3.36" height="3.37" fill="#f57245"/><rect x="665.94" y="373.65" width="3.36" height="3.37" fill="#ed6246"/><rect x="668.96" y="373.65" width="3.36" height="3.37" fill="#e75948"/><rect x="671.97" y="373.65" width="3.36" height="3.37" fill="#e45549"/><rect x="674.99" y="373.65" width="3.36" height="3.37" fill="#e85b48"/><rect x="554.40" y="376.67" width="3.36" height="3.37" fill="#6ec5a5"/><rect x="557.41" y="376.67" width="3.36" height="3.37" fill="#7ccaa5"/><rect x="560.43" y="376.67" width="3.36" height="3.37" fill="#89d0a4"/><rect x="563.44" y="376.67" width="3.36" height="3.37" fill="#97d5a4"/><rect x="566.46" y="376.67" width="3.36" height="3.37" fill="#a2d9a4"/><rect x="569.47" y="376.67" width="3.36" height="3.37" fill="#acdda4"/><rect x="572.49" y="376.67" width="3.36" height="3.37" fill="#b3e0a2"/><rect x="575.50" y="376.67" width="3.36" height="3.37" fill="#b8e2a1"/><rect x="578.52" y="376.67" width="3.36" height="3.37" fill="#bae3a1"/><rect x="581.53" y="376.67" width="3.36" height="3.37" fill="#bae3a1"/><rect x="584.55" y="376.67" width="3.36" height="3.37" fill="#b5e1a2"/><rect x="587.56" y="376.67" width="3.36" height="3.37" fill="#acdda4"/><rect x="590.58" y="376.67" width="3.36" height="3.37" fill="#a2d9a4"/><rect x="593.59" y="376.67" width="3.36" height="3.37" fill="#99d6a4"/><rect x="596.60" y="376.67" width="3.36" height="3.37" fill="#91d3a4"/><rect x="599.62" y="376.67" width="3.36" height="3.37" fill="#91d3a4"/><rect x="602.63" y="376.67" width="3.36" height="3.37" fill="#99d6a4"/><rect x="605.65" y="376.67" width="3.36" height="3.37" fill="#a4daa4"/><rect x="608.66" y="376.67" width="3.36" height="3.37" fill="#aedea3"/><rect x="611.68" y="376.67" width="3.36" height="3.37" fill="#bae3a1"/><rect x="614.69" y="376.67" width="3.36" height="3.37" fill="#c1e6a0"/><rect x="617.71" y="376.67" width="3.36" height="3.37" fill="#c3e79f"/><rect x="620.72" y="376.67" width="3.36" height="3.37" fill="#c3e79f"/><rect x="623.74" y="376.67" width="3.36" height="3.37" fill="#c1e6a0"/><rect x="626.75" y="376.67" width="3.36" height="3.37" fill="#c1e6a0"/><rect x="629.77" y="376.67" width="3.36" height="3.37" fill="#c1e6a0"/><rect x="632.78" y="376.67" width="3.36" height="3.37" fill="#c8e99e"/><rect x="635.80" y="376.67" width="3.36" height="3.37" fill="#d3ed9c"/><rect x="638.81" y="376.67" width="3.36" height="3.37" fill="#e4f498"/><rect x="641.82" y="376.67" width="3.36" height="3.37" fill="#eff9a6"/><rect x="644.84" y="376.67" width="3.36" height="3.37" fill="#fbfdb8"/><rect x="647.85" y="376.67" width="3.36" height="3.37" fill="#fff3ac"/><rect x="650.87" y="376.67" width="3.36" height="3.37" fill="#fee18d"/><rect x="653.88" y="376.67" width="3.36" height="3.37" fill="#fdc171"/><rect x="656.90" y="376.67" width="3.36" height="3.37" fill="#fba05b"/><rect x="659.91" y="376.67" width="3.36" height="3.37" fill="#f67a49"/><rect x="662.93" y="376.67" width="3.36" height="3.37" fill="#ea5e47"/><rect x="665.94" y="376.67" width="3.36" height="3.37" fill="#df4e4b"/><rect x="668.96" y="376.67" width="3.36" height="3.37" fill="#d8434e"/><rect x="671.97" y="376.67" width="3.36" height="3.37" fill="#d8434e"/><rect x="674.99" y="376.67" width="3.36" height="3.37" fill="#de4c4b"/><rect x="554.40" y="379.69" width="3.36" height="3.37" fill="#3d95b8"/><rect x="557.41" y="379.69" width="3.36" height="3.37" fill="#4ba4b1"/><rect x="560.43" y="379.69" width="3.36" height="3.37" fill="#5ab4ab"/><rect x="563.44" y="379.69" width="3.36" height="3.37" fill="#69c3a5"/><rect x="566.46" y="379.69" width="3.36" height="3.37" fill="#79c9a5"/><rect x="569.47" y="379.69" width="3.36" height="3.37" fill="#89d0a4"/><rect x="572.49" y="379.69" width="3.36" height="3.37" fill="#99d6a4"/><rect x="575.50" y="379.69" width="3.36" height="3.37" fill="#a4daa4"/><rect x="578.52" y="379.69" width="3.36" height="3.37" fill="#aedea3"/><rect x="581.53" y="379.69" width="3.36" height="3.37" fill="#b5e1a2"/><rect x="584.55" y="379.69" width="3.36" height="3.37" fill="#b8e2a1"/><rect x="587.56" y="379.69" width="3.36" height="3.37" fill="#b5e1a2"/><rect x="590.58" y="379.69" width="3.36" height="3.37" fill="#b3e0a2"/><rect x="593.59" y="379.69" width="3.36" height="3.37" fill="#b1dfa3"/><rect x="596.60" y="379.69" width="3.36" height="3.37" fill="#aedea3"/><rect x="599.62" y="379.69" width="3.36" height="3.37" fill="#aedea3"/><rect x="602.63" y="379.69" width="3.36" height="3.37" fill="#aedea3"/><rect x="605.65" y="379.69" width="3.36" height="3.37" fill="#b3e0a2"/><rect x="608.66" y="379.69" width="3.36" height="3.37" fill="#b5e1a2"/><rect x="611.68" y="379.69" width="3.36" height="3.37" fill="#bae3a1"/><rect x="614.69" y="379.69" width="3.36" height="3.37" fill="#bce4a0"/><rect x="617.71" y="379.69" width="3.36" height="3.37" fill="#bce4a0"/><rect x="620.72" y="379.69" width="3.36" height="3.37" fill="#bae3a1"/><rect x="623.74" y="379.69" width="3.36" height="3.37" fill="#b8e2a1"/><rect x="626.75" y="379.69" width="3.36" height="3.37" fill="#b8e2a1"/><rect x="629.77" y="379.69" width="3.36" height="3.37" fill="#bae3a1"/><rect x="632.78" y="379.69" width="3.36" height="3.37" fill="#c1e6a0"/><rect x="635.80" y="379.69" width="3.36" height="3.37" fill="#cdeb9d"/><rect x="638.81" y="379.69" width="3.36" height="3.37" fill="#ddf19a"/><rect x="641.82" y="379.69" width="3.36" height="3.37" fill="#ebf7a0"/><rect x="644.84" y="379.69" width="3.36" height="3.37" fill="#f6fbb0"/><rect x="647.85" y="379.69" width="3.36" height="3.37" fill="#fff8b4"/><rect x="650.87" y="379.69" width="3.36" height="3.37" fill="#fee593"/><rect x="653.88" y="379.69" width="3.36" height="3.37" fill="#fdc776"/><rect x="656.90" y="379.69" width="3.36" height="3.37" fill="#fba35c"/><rect x="659.91" y="379.69" width="3.36" height="3.37" fill="#f67c4a"/><rect x="662.93" y="379.69" width="3.36" height="3.37" fill="#ea5e47"/><rect x="665.94" y="379.69" width="3.36" height="3.37" fill="#df4e4b"/><rect x="668.96" y="379.69" width="3.36" height="3.37" fill="#d8434e"/><rect x="671.97" y="379.69" width="3.36" height="3.37" fill="#d9444d"/><rect x="674.99" y="379.69" width="3.36" height="3.37" fill="#e1504b"/><rect x="554.40" y="382.71" width="3.36" height="3.37" fill="#3f77b5"/><rect x="557.41" y="382.71" width="3.36" height="3.37" fill="#3387bc"/><rect x="560.43" y="382.71" width="3.36" height="3.37" fill="#3f97b7"/><rect x="563.44" y="382.71" width="3.36" height="3.37" fill="#50a9af"/><rect x="566.46" y="382.71" width="3.36" height="3.37" fill="#5eb9a9"/><rect x="569.47" y="382.71" width="3.36" height="3.37" fill="#71c6a5"/><rect x="572.49" y="382.71" width="3.36" height="3.37" fill="#84cea5"/><rect x="575.50" y="382.71" width="3.36" height="3.37" fill="#97d5a4"/><rect x="578.52" y="382.71" width="3.36" height="3.37" fill="#a4daa4"/><rect x="581.53" y="382.71" width="3.36" height="3.37" fill="#b1dfa3"/><rect x="584.55" y="382.71" width="3.36" height="3.37" fill="#bae3a1"/><rect x="587.56" y="382.71" width="3.36" height="3.37" fill="#c1e6a0"/><rect x="590.58" y="382.71" width="3.36" height="3.37" fill="#c3e79f"/><rect x="593.59" y="382.71" width="3.36" height="3.37" fill="#c6e89f"/><rect x="596.60" y="382.71" width="3.36" height="3.37" fill="#c6e89f"/><rect x="599.62" y="382.71" width="3.36" height="3.37" fill="#c6e89f"/><rect x="602.63" y="382.71" width="3.36" height="3.37" fill="#c3e79f"/><rect x="605.65" y="382.71" width="3.36" height="3.37" fill="#c1e6a0"/><rect x="608.66" y="382.71" width="3.36" height="3.37" fill="#bfe5a0"/><rect x="611.68" y="382.71" width="3.36" height="3.37" fill="#bae3a1"/><rect x="614.69" y="382.71" width="3.36" height="3.37" fill="#b8e2a1"/><rect x="617.71" y="382.71" width="3.36" height="3.37" fill="#b3e0a2"/><rect x="620.72" y="382.71" width="3.36" height="3.37" fill="#b1dfa3"/><rect x="623.74" y="382.71" width="3.36" height="3.37" fill="#b1dfa3"/><rect x="626.75" y="382.71" width="3.36" height="3.37" fill="#b1dfa3"/><rect x="629.77" y="382.71" width="3.36" height="3.37" fill="#b5e1a2"/><rect x="632.78" y="382.71" width="3.36" height="3.37" fill="#bae3a1"/><rect x="635.80" y="382.71" width="3.36" height="3.37" fill="#c6e89f"/><rect x="638.81" y="382.71" width="3.36" height="3.37" fill="#d3ed9c"/><rect x="641.82" y="382.71" width="3.36" height="3.37" fill="#e6f598"/><rect x="644.84" y="382.71" width="3.36" height="3.37" fill="#f1f9a9"/><rect x="647.85" y="382.71" width="3.36" height="3.37" fill="#fefebd"/><rect x="650.87" y="382.71" width="3.36" height="3.37" fill="#feefa3"/><rect x="653.88" y="382.71" width="3.36" height="3.37" fill="#fed884"/><rect x="656.90" y="382.71" width="3.36" height="3.37" fill="#fdbb6c"/><rect x="659.91" y="382.71" width="3.36" height="3.37" fill="#fa9857"/><rect x="662.93" y="382.71" width="3.36" height="3.37" fill="#f67a49"/><rect x="665.94" y="382.71" width="3.36" height="3.37" fill="#ef6645"/><rect x="668.96" y="382.71" width="3.36" height="3.37" fill="#ea5e47"/><rect x="671.97" y="382.71" width="3.36" height="3.37" fill="#eb6046"/><rect x="674.99" y="382.71" width="3.36" height="3.37" fill="#f46d43"/><rect x="554.40" y="385.73" width="3.36" height="3.37" fill="#466eb1"/><rect x="557.41" y="385.73" width="3.36" height="3.37" fill="#3d79b6"/><rect x="560.43" y="385.73" width="3.36" height="3.37" fill="#3389bd"/><rect x="563.44" y="385.73" width="3.36" height="3.37" fill="#4199b6"/><rect x="566.46" y="385.73" width="3.36" height="3.37" fill="#50a9af"/><rect x="569.47" y="385.73" width="3.36" height="3.37" fill="#60bba8"/><rect x="572.49" y="385.73" width="3.36" height="3.37" fill="#74c7a5"/><rect x="575.50" y="385.73" width="3.36" height="3.37" fill="#89d0a4"/><rect x="578.52" y="385.73" width="3.36" height="3.37" fill="#9cd7a4"/><rect x="581.53" y="385.73" width="3.36" height="3.37" fill="#aedea3"/><rect x="584.55" y="385.73" width="3.36" height="3.37" fill="#bce4a0"/><rect x="587.56" y="385.73" width="3.36" height="3.37" fill="#c8e99e"/><rect x="590.58" y="385.73" width="3.36" height="3.37" fill="#d1ed9c"/><rect x="593.59" y="385.73" width="3.36" height="3.37" fill="#d8ef9b"/><rect x="596.60" y="385.73" width="3.36" height="3.37" fill="#daf09a"/><rect x="599.62" y="385.73" width="3.36" height="3.37" fill="#daf09a"/><rect x="602.63" y="385.73" width="3.36" height="3.37" fill="#d6ee9b"/><rect x="605.65" y="385.73" width="3.36" height="3.37" fill="#cdeb9d"/><rect x="608.66" y="385.73" width="3.36" height="3.37" fill="#c6e89f"/><rect x="611.68" y="385.73" width="3.36" height="3.37" fill="#bce4a0"/><rect x="614.69" y="385.73" width="3.36" height="3.37" fill="#b3e0a2"/><rect x="617.71" y="385.73" width="3.36" height="3.37" fill="#aedea3"/><rect x="620.72" y="385.73" width="3.36" height="3.37" fill="#aadca4"/><rect x="623.74" y="385.73" width="3.36" height="3.37" fill="#aadca4"/><rect x="626.75" y="385.73" width="3.36" height="3.37" fill="#aadca4"/><rect x="629.77" y="385.73" width="3.36" height="3.37" fill="#aedea3"/><rect x="632.78" y="385.73" width="3.36" height="3.37" fill="#b5e1a2"/><rect x="635.80" y="385.73" width="3.36" height="3.37" fill="#bfe5a0"/><rect x="638.81" y="385.73" width="3.36" height="3.37" fill="#caea9e"/><rect x="641.82" y="385.73" width="3.36" height="3.37" fill="#daf09a"/><rect x="644.84" y="385.73" width="3.36" height="3.37" fill="#eaf79e"/><rect x="647.85" y="385.73" width="3.36" height="3.37" fill="#f5fbaf"/><rect x="650.87" y="385.73" width="3.36" height="3.37" fill="#fffdbc"/><rect x="653.88" y="385.73" width="3.36" height="3.37" fill="#feec9f"/><rect x="656.90" y="385.73" width="3.36" height="3.37" fill="#feda86"/><rect x="659.91" y="385.73" width="3.36" height="3.37" fill="#fdc574"/><rect x="662.93" y="385.73" width="3.36" height="3.37" fill="#fdb163"/><rect x="665.94" y="385.73" width="3.36" height="3.37" fill="#fba05b"/><rect x="668.96" y="385.73" width="3.36" height="3.37" fill="#fa9656"/><rect x="671.97" y="385.73" width="3.36" height="3.37" fill="#fa9b58"/><rect x="674.99" y="385.73" width="3.36" height="3.37" fill="#fdad60"/><rect x="554.40" y="388.75" width="3.36" height="3.37" fill="#466eb1"/><rect x="557.41" y="388.75" width="3.36" height="3.37" fill="#3f77b5"/><rect x="560.43" y="388.75" width="3.36" height="3.37" fill="#3682ba"/><rect x="563.44" y="388.75" width="3.36" height="3.37" fill="#3990ba"/><rect x="566.46" y="388.75" width="3.36" height="3.37" fill="#47a0b3"/><rect x="569.47" y="388.75" width="3.36" height="3.37" fill="#58b2ac"/><rect x="572.49" y="388.75" width="3.36" height="3.37" fill="#69c3a5"/><rect x="575.50" y="388.75" width="3.36" height="3.37" fill="#7ecca5"/><rect x="578.52" y="388.75" width="3.36" height="3.37" fill="#97d5a4"/><rect x="581.53" y="388.75" width="3.36" height="3.37" fill="#acdda4"/><rect x="584.55" y="388.75" width="3.36" height="3.37" fill="#bfe5a0"/><rect x="587.56" y="388.75" width="3.36" height="3.37" fill="#cfec9d"/><rect x="590.58" y="388.75" width="3.36" height="3.37" fill="#ddf19a"/><rect x="593.59" y="388.75" width="3.36" height="3.37" fill="#e6f598"/><rect x="596.60" y="388.75" width="3.36" height="3.37" fill="#e8f69b"/><rect x="599.62" y="388.75" width="3.36" height="3.37" fill="#e8f69b"/><rect x="602.63" y="388.75" width="3.36" height="3.37" fill="#e4f498"/><rect x="605.65" y="388.75" width="3.36" height="3.37" fill="#d8ef9b"/><rect x="608.66" y="388.75" width="3.36" height="3.37" fill="#caea9e"/><rect x="611.68" y="388.75" width="3.36" height="3.37" fill="#bce4a0"/><rect x="614.69" y="388.75" width="3.36" height="3.37" fill="#b1dfa3"/><rect x="617.71" y="388.75" width="3.36" height="3.37" fill="#a7dba4"/><rect x="620.72" y="388.75" width="3.36" height="3.37" fill="#a2d9a4"/><rect x="623.74" y="388.75" width="3.36" height="3.37" fill="#a2d9a4"/><rect x="626.75" y="388.75" width="3.36" height="3.37" fill="#a4daa4"/><rect x="629.77" y="388.75" width="3.36" height="3.37" fill="#aadca4"/><rect x="632.78" y="388.75" width="3.36" height="3.37" fill="#aedea3"/><rect x="635.80" y="388.75" width="3.36" height="3.37" fill="#b8e2a1"/><rect x="638.81" y="388.75" width="3.36" height="3.37" fill="#c1e6a0"/><rect x="641.82" y="388.75" width="3.36" height="3.37" fill="#cfec9d"/><rect x="644.84" y="388.75" width="3.36" height="3.37" fill="#dff299"/><rect x="647.85" y="388.75" width="3.36" height="3.37" fill="#ebf7a0"/><rect x="650.87" y="388.75" width="3.36" height="3.37" fill="#f5fbaf"/><rect x="653.88" y="388.75" width="3.36" height="3.37" fill="#fefebd"/><rect x="656.90" y="388.75" width="3.36" height="3.37" fill="#fff5ae"/><rect x="659.91" y="388.75" width="3.36" height="3.37" fill="#feeb9d"/><rect x="662.93" y="388.75" width="3.36" height="3.37" fill="#fee28f"/><rect x="665.94" y="388.75" width="3.36" height="3.37" fill="#feda86"/><rect x="668.96" y="388.75" width="3.36" height="3.37" fill="#fed683"/><rect x="671.97" y="388.75" width="3.36" height="3.37" fill="#feda86"/><rect x="674.99" y="388.75" width="3.36" height="3.37" fill="#fee491"/><rect x="554.40" y="391.77" width="3.36" height="3.37" fill="#3f77b5"/><rect x="557.41" y="391.77" width="3.36" height="3.37" fill="#3d79b6"/><rect x="560.43" y="391.77" width="3.36" height="3.37" fill="#3682ba"/><rect x="563.44" y="391.77" width="3.36" height="3.37" fill="#358bbc"/><rect x="566.46" y="391.77" width="3.36" height="3.37" fill="#4199b6"/><rect x="569.47" y="391.77" width="3.36" height="3.37" fill="#50a9af"/><rect x="572.49" y="391.77" width="3.36" height="3.37" fill="#60bba8"/><rect x="575.50" y="391.77" width="3.36" height="3.37" fill="#74c7a5"/><rect x="578.52" y="391.77" width="3.36" height="3.37" fill="#8cd1a4"/><rect x="581.53" y="391.77" width="3.36" height="3.37" fill="#a4daa4"/><rect x="584.55" y="391.77" width="3.36" height="3.37" fill="#bae3a1"/><rect x="587.56" y="391.77" width="3.36" height="3.37" fill="#cdeb9d"/><rect x="590.58" y="391.77" width="3.36" height="3.37" fill="#dff299"/><rect x="593.59" y="391.77" width="3.36" height="3.37" fill="#e8f69b"/><rect x="596.60" y="391.77" width="3.36" height="3.37" fill="#ebf7a0"/><rect x="599.62" y="391.77" width="3.36" height="3.37" fill="#ebf7a0"/><rect x="602.63" y="391.77" width="3.36" height="3.37" fill="#e8f69b"/><rect x="605.65" y="391.77" width="3.36" height="3.37" fill="#ddf19a"/><rect x="608.66" y="391.77" width="3.36" height="3.37" fill="#cdeb9d"/><rect x="611.68" y="391.77" width="3.36" height="3.37" fill="#bce4a0"/><rect x="614.69" y="391.77" width="3.36" height="3.37" fill="#acdda4"/><rect x="617.71" y="391.77" width="3.36" height="3.37" fill="#a2d9a4"/><rect x="620.72" y="391.77" width="3.36" height="3.37" fill="#9cd7a4"/><rect x="623.74" y="391.77" width="3.36" height="3.37" fill="#9cd7a4"/><rect x="626.75" y="391.77" width="3.36" height="3.37" fill="#9cd7a4"/><rect x="629.77" y="391.77" width="3.36" height="3.37" fill="#a2d9a4"/><rect x="632.78" y="391.77" width="3.36" height="3.37" fill="#aadca4"/><rect x="635.80" y="391.77" width="3.36" height="3.37" fill="#b1dfa3"/><rect x="638.81" y="391.77" width="3.36" height="3.37" fill="#b8e2a1"/><rect x="641.82" y="391.77" width="3.36" height="3.37" fill="#c3e79f"/><rect x="644.84" y="391.77" width="3.36" height="3.37" fill="#cfec9d"/><rect x="647.85" y="391.77" width="3.36" height="3.37" fill="#ddf19a"/><rect x="650.87" y="391.77" width="3.36" height="3.37" fill="#e8f69b"/><rect x="653.88" y="391.77" width="3.36" height="3.37" fill="#eef8a4"/><rect x="656.90" y="391.77" width="3.36" height="3.37" fill="#f4faad"/><rect x="659.91" y="391.77" width="3.36" height="3.37" fill="#f9fcb5"/><rect x="662.93" y="391.77" width="3.36" height="3.37" fill="#fdfebb"/><rect x="665.94" y="391.77" width="3.36" height="3.37" fill="#ffffbe"/><rect x="668.96" y="391.77" width="3.36" height="3.37" fill="#fffebe"/><rect x="671.97" y="391.77" width="3.36" height="3.37" fill="#fefebd"/><rect x="674.99" y="391.77" width="3.36" height="3.37" fill="#fafdb7"/><rect x="554.40" y="394.79" width="3.36" height="3.37" fill="#3880b9"/><rect x="557.41" y="394.79" width="3.36" height="3.37" fill="#3880b9"/><rect x="560.43" y="394.79" width="3.36" height="3.37" fill="#3585bb"/><rect x="563.44" y="394.79" width="3.36" height="3.37" fill="#358bbc"/><rect x="566.46" y="394.79" width="3.36" height="3.37" fill="#3f97b7"/><rect x="569.47" y="394.79" width="3.36" height="3.37" fill="#4ba4b1"/><rect x="572.49" y="394.79" width="3.36" height="3.37" fill="#5ab4ab"/><rect x="575.50" y="394.79" width="3.36" height="3.37" fill="#69c3a5"/><rect x="578.52" y="394.79" width="3.36" height="3.37" fill="#81cda5"/><rect x="581.53" y="394.79" width="3.36" height="3.37" fill="#97d5a4"/><rect x="584.55" y="394.79" width="3.36" height="3.37" fill="#b1dfa3"/><rect x="587.56" y="394.79" width="3.36" height="3.37" fill="#c6e89f"/><rect x="590.58" y="394.79" width="3.36" height="3.37" fill="#d8ef9b"/><rect x="593.59" y="394.79" width="3.36" height="3.37" fill="#e6f598"/><rect x="596.60" y="394.79" width="3.36" height="3.37" fill="#eaf79e"/><rect x="599.62" y="394.79" width="3.36" height="3.37" fill="#ebf7a0"/><rect x="602.63" y="394.79" width="3.36" height="3.37" fill="#e8f69b"/><rect x="605.65" y="394.79" width="3.36" height="3.37" fill="#ddf19a"/><rect x="608.66" y="394.79" width="3.36" height="3.37" fill="#caea9e"/><rect x="611.68" y="394.79" width="3.36" height="3.37" fill="#bae3a1"/><rect x="614.69" y="394.79" width="3.36" height="3.37" fill="#aadca4"/><rect x="617.71" y="394.79" width="3.36" height="3.37" fill="#9fd8a4"/><rect x="620.72" y="394.79" width="3.36" height="3.37" fill="#99d6a4"/><rect x="623.74" y="394.79" width="3.36" height="3.37" fill="#97d5a4"/><rect x="626.75" y="394.79" width="3.36" height="3.37" fill="#97d5a4"/><rect x="629.77" y="394.79" width="3.36" height="3.37" fill="#9cd7a4"/><rect x="632.78" y="394.79" width="3.36" height="3.37" fill="#a2d9a4"/><rect x="635.80" y="394.79" width="3.36" height="3.37" fill="#aadca4"/><rect x="638.81" y="394.79" width="3.36" height="3.37" fill="#b1dfa3"/><rect x="641.82" y="394.79" width="3.36" height="3.37" fill="#b8e2a1"/><rect x="644.84" y="394.79" width="3.36" height="3.37" fill="#c1e6a0"/><rect x="647.85" y="394.79" width="3.36" height="3.37" fill="#c8e99e"/><rect x="650.87" y="394.79" width="3.36" height="3.37" fill="#d1ed9c"/><rect x="653.88" y="394.79" width="3.36" height="3.37" fill="#d8ef9b"/><rect x="656.90" y="394.79" width="3.36" height="3.37" fill="#dff299"/><rect x="659.91" y="394.79" width="3.36" height="3.37" fill="#e4f498"/><rect x="662.93" y="394.79" width="3.36" height="3.37" fill="#e7f59a"/><rect x="665.94" y="394.79" width="3.36" height="3.37" fill="#e8f69b"/><rect x="668.96" y="394.79" width="3.36" height="3.37" fill="#e7f59a"/><rect x="671.97" y="394.79" width="3.36" height="3.37" fill="#e6f598"/><rect x="674.99" y="394.79" width="3.36" height="3.37" fill="#dff299"/><rect x="554.40" y="397.81" width="3.36" height="3.37" fill="#3387bc"/><rect x="557.41" y="397.81" width="3.36" height="3.37" fill="#3585bb"/><rect x="560.43" y="397.81" width="3.36" height="3.37" fill="#3387bc"/><rect x="563.44" y="397.81" width="3.36" height="3.37" fill="#358bbc"/><rect x="566.46" y="397.81" width="3.36" height="3.37" fill="#3d95b8"/><rect x="569.47" y="397.81" width="3.36" height="3.37" fill="#459eb4"/><rect x="572.49" y="397.81" width="3.36" height="3.37" fill="#52abae"/><rect x="575.50" y="397.81" width="3.36" height="3.37" fill="#5eb9a9"/><rect x="578.52" y="397.81" width="3.36" height="3.37" fill="#6ec5a5"/><rect x="581.53" y="397.81" width="3.36" height="3.37" fill="#86cfa5"/><rect x="584.55" y="397.81" width="3.36" height="3.37" fill="#9cd7a4"/><rect x="587.56" y="397.81" width="3.36" height="3.37" fill="#b3e0a2"/><rect x="590.58" y="397.81" width="3.36" height="3.37" fill="#c8e99e"/><rect x="593.59" y="397.81" width="3.36" height="3.37" fill="#d8ef9b"/><rect x="596.60" y="397.81" width="3.36" height="3.37" fill="#e1f399"/><rect x="599.62" y="397.81" width="3.36" height="3.37" fill="#e6f598"/><rect x="602.63" y="397.81" width="3.36" height="3.37" fill="#dff299"/><rect x="605.65" y="397.81" width="3.36" height="3.37" fill="#d3ed9c"/><rect x="608.66" y="397.81" width="3.36" height="3.37" fill="#c6e89f"/><rect x="611.68" y="397.81" width="3.36" height="3.37" fill="#b5e1a2"/><rect x="614.69" y="397.81" width="3.36" height="3.37" fill="#a7dba4"/><rect x="617.71" y="397.81" width="3.36" height="3.37" fill="#9cd7a4"/><rect x="620.72" y="397.81" width="3.36" height="3.37" fill="#94d4a4"/><rect x="623.74" y="397.81" width="3.36" height="3.37" fill="#91d3a4"/><rect x="626.75" y="397.81" width="3.36" height="3.37" fill="#94d4a4"/><rect x="629.77" y="397.81" width="3.36" height="3.37" fill="#97d5a4"/><rect x="632.78" y="397.81" width="3.36" height="3.37" fill="#9cd7a4"/><rect x="635.80" y="397.81" width="3.36" height="3.37" fill="#a2d9a4"/><rect x="638.81" y="397.81" width="3.36" height="3.37" fill="#aadca4"/><rect x="641.82" y="397.81" width="3.36" height="3.37" fill="#aedea3"/><rect x="644.84" y="397.81" width="3.36" height="3.37" fill="#b5e1a2"/><rect x="647.85" y="397.81" width="3.36" height="3.37" fill="#bae3a1"/><rect x="650.87" y="397.81" width="3.36" height="3.37" fill="#bfe5a0"/><rect x="653.88" y="397.81" width="3.36" height="3.37" fill="#c1e6a0"/><rect x="656.90" y="397.81" width="3.36" height="3.37" fill="#c3e79f"/><rect x="659.91" y="397.81" width="3.36" height="3.37" fill="#c6e89f"/><rect x="662.93" y="397.81" width="3.36" height="3.37" fill="#c6e89f"/><rect x="665.94" y="397.81" width="3.36" height="3.37" fill="#c6e89f"/><rect x="668.96" y="397.81" width="3.36" height="3.37" fill="#c6e89f"/><rect x="671.97" y="397.81" width="3.36" height="3.37" fill="#c3e79f"/><rect x="674.99" y="397.81" width="3.36" height="3.37" fill="#bfe5a0"/><rect x="554.40" y="400.83" width="3.36" height="3.37" fill="#3389bd"/><rect x="557.41" y="400.83" width="3.36" height="3.37" fill="#3389bd"/><rect x="560.43" y="400.83" width="3.36" height="3.37" fill="#3389bd"/><rect x="563.44" y="400.83" width="3.36" height="3.37" fill="#358bbc"/><rect x="566.46" y="400.83" width="3.36" height="3.37" fill="#3990ba"/><rect x="569.47" y="400.83" width="3.36" height="3.37" fill="#4199b6"/><rect x="572.49" y="400.83" width="3.36" height="3.37" fill="#49a2b2"/><rect x="575.50" y="400.83" width="3.36" height="3.37" fill="#54aead"/><rect x="578.52" y="400.83" width="3.36" height="3.37" fill="#60bba8"/><rect x="581.53" y="400.83" width="3.36" height="3.37" fill="#6ec5a5"/><rect x="584.55" y="400.83" width="3.36" height="3.37" fill="#84cea5"/><rect x="587.56" y="400.83" width="3.36" height="3.37" fill="#99d6a4"/><rect x="590.58" y="400.83" width="3.36" height="3.37" fill="#aedea3"/><rect x="593.59" y="400.83" width="3.36" height="3.37" fill="#bfe5a0"/><rect x="596.60" y="400.83" width="3.36" height="3.37" fill="#caea9e"/><rect x="599.62" y="400.83" width="3.36" height="3.37" fill="#d1ed9c"/><rect x="602.63" y="400.83" width="3.36" height="3.37" fill="#cfec9d"/><rect x="605.65" y="400.83" width="3.36" height="3.37" fill="#c8e99e"/><rect x="608.66" y="400.83" width="3.36" height="3.37" fill="#bce4a0"/><rect x="611.68" y="400.83" width="3.36" height="3.37" fill="#b1dfa3"/><rect x="614.69" y="400.83" width="3.36" height="3.37" fill="#a4daa4"/><rect x="617.71" y="400.83" width="3.36" height="3.37" fill="#99d6a4"/><rect x="620.72" y="400.83" width="3.36" height="3.37" fill="#94d4a4"/><rect x="623.74" y="400.83" width="3.36" height="3.37" fill="#91d3a4"/><rect x="626.75" y="400.83" width="3.36" height="3.37" fill="#8fd2a4"/><rect x="629.77" y="400.83" width="3.36" height="3.37" fill="#91d3a4"/><rect x="632.78" y="400.83" width="3.36" height="3.37" fill="#94d4a4"/><rect x="635.80" y="400.83" width="3.36" height="3.37" fill="#99d6a4"/><rect x="638.81" y="400.83" width="3.36" height="3.37" fill="#a2d9a4"/><rect x="641.82" y="400.83" width="3.36" height="3.37" fill="#a7dba4"/><rect x="644.84" y="400.83" width="3.36" height="3.37" fill="#acdda4"/><rect x="647.85" y="400.83" width="3.36" height="3.37" fill="#b1dfa3"/><rect x="650.87" y="400.83" width="3.36" height="3.37" fill="#b3e0a2"/><rect x="653.88" y="400.83" width="3.36" height="3.37" fill="#b3e0a2"/><rect x="656.90" y="400.83" width="3.36" height="3.37" fill="#b5e1a2"/><rect x="659.91" y="400.83" width="3.36" height="3.37" fill="#b5e1a2"/><rect x="662.93" y="400.83" width="3.36" height="3.37" fill="#b5e1a2"/><rect x="665.94" y="400.83" width="3.36" height="3.37" fill="#b5e1a2"/><rect x="668.96" y="400.83" width="3.36" height="3.37" fill="#b3e0a2"/><rect x="671.97" y="400.83" width="3.36" height="3.37" fill="#b3e0a2"/><rect x="674.99" y="400.83" width="3.36" height="3.37" fill="#b3e0a2"/><rect x="554.40" y="403.85" width="3.36" height="3.37" fill="#358bbc"/><rect x="557.41" y="403.85" width="3.36" height="3.37" fill="#3389bd"/><rect x="560.43" y="403.85" width="3.36" height="3.37" fill="#358bbc"/><rect x="563.44" y="403.85" width="3.36" height="3.37" fill="#358bbc"/><rect x="566.46" y="403.85" width="3.36" height="3.37" fill="#3990ba"/><rect x="569.47" y="403.85" width="3.36" height="3.37" fill="#3d95b8"/><rect x="572.49" y="403.85" width="3.36" height="3.37" fill="#439bb5"/><rect x="575.50" y="403.85" width="3.36" height="3.37" fill="#49a2b2"/><rect x="578.52" y="403.85" width="3.36" height="3.37" fill="#52abae"/><rect x="581.53" y="403.85" width="3.36" height="3.37" fill="#5cb7aa"/><rect x="584.55" y="403.85" width="3.36" height="3.37" fill="#6bc4a5"/><rect x="587.56" y="403.85" width="3.36" height="3.37" fill="#7ccaa5"/><rect x="590.58" y="403.85" width="3.36" height="3.37" fill="#8fd2a4"/><rect x="593.59" y="403.85" width="3.36" height="3.37" fill="#a2d9a4"/><rect x="596.60" y="403.85" width="3.36" height="3.37" fill="#aedea3"/><rect x="599.62" y="403.85" width="3.36" height="3.37" fill="#b5e1a2"/><rect x="602.63" y="403.85" width="3.36" height="3.37" fill="#b8e2a1"/><rect x="605.65" y="403.85" width="3.36" height="3.37" fill="#b5e1a2"/><rect x="608.66" y="403.85" width="3.36" height="3.37" fill="#b1dfa3"/><rect x="611.68" y="403.85" width="3.36" height="3.37" fill="#aadca4"/><rect x="614.69" y="403.85" width="3.36" height="3.37" fill="#a2d9a4"/><rect x="617.71" y="403.85" width="3.36" height="3.37" fill="#99d6a4"/><rect x="620.72" y="403.85" width="3.36" height="3.37" fill="#94d4a4"/><rect x="623.74" y="403.85" width="3.36" height="3.37" fill="#8fd2a4"/><rect x="626.75" y="403.85" width="3.36" height="3.37" fill="#8cd1a4"/><rect x="629.77" y="403.85" width="3.36" height="3.37" fill="#8cd1a4"/><rect x="632.78" y="403.85" width="3.36" height="3.37" fill="#8fd2a4"/><rect x="635.80" y="403.85" width="3.36" height="3.37" fill="#94d4a4"/><rect x="638.81" y="403.85" width="3.36" height="3.37" fill="#99d6a4"/><rect x="641.82" y="403.85" width="3.36" height="3.37" fill="#9fd8a4"/><rect x="644.84" y="403.85" width="3.36" height="3.37" fill="#a4daa4"/><rect x="647.85" y="403.85" width="3.36" height="3.37" fill="#aadca4"/><rect x="650.87" y="403.85" width="3.36" height="3.37" fill="#acdda4"/><rect x="653.88" y="403.85" width="3.36" height="3.37" fill="#acdda4"/><rect x="656.90" y="403.85" width="3.36" height="3.37" fill="#aedea3"/><rect x="659.91" y="403.85" width="3.36" height="3.37" fill="#aedea3"/><rect x="662.93" y="403.85" width="3.36" height="3.37" fill="#aedea3"/><rect x="665.94" y="403.85" width="3.36" height="3.37" fill="#b1dfa3"/><rect x="668.96" y="403.85" width="3.36" height="3.37" fill="#b1dfa3"/><rect x="671.97" y="403.85" width="3.36" height="3.37" fill="#b3e0a2"/><rect x="674.99" y="403.85" width="3.36" height="3.37" fill="#b5e1a2"/><rect x="554.40" y="406.87" width="3.36" height="3.37" fill="#3389bd"/><rect x="557.41" y="406.87" width="3.36" height="3.37" fill="#358bbc"/><rect x="560.43" y="406.87" width="3.36" height="3.37" fill="#358bbc"/><rect x="563.44" y="406.87" width="3.36" height="3.37" fill="#378ebb"/><rect x="566.46" y="406.87" width="3.36" height="3.37" fill="#3990ba"/><rect x="569.47" y="406.87" width="3.36" height="3.37" fill="#3b92b9"/><rect x="572.49" y="406.87" width="3.36" height="3.37" fill="#3f97b7"/><rect x="575.50" y="406.87" width="3.36" height="3.37" fill="#439bb5"/><rect x="578.52" y="406.87" width="3.36" height="3.37" fill="#47a0b3"/><rect x="581.53" y="406.87" width="3.36" height="3.37" fill="#50a9af"/><rect x="584.55" y="406.87" width="3.36" height="3.37" fill="#58b2ac"/><rect x="587.56" y="406.87" width="3.36" height="3.37" fill="#62bda7"/><rect x="590.58" y="406.87" width="3.36" height="3.37" fill="#71c6a5"/><rect x="593.59" y="406.87" width="3.36" height="3.37" fill="#7ecca5"/><rect x="596.60" y="406.87" width="3.36" height="3.37" fill="#8cd1a4"/><rect x="599.62" y="406.87" width="3.36" height="3.37" fill="#97d5a4"/><rect x="602.63" y="406.87" width="3.36" height="3.37" fill="#9fd8a4"/><rect x="605.65" y="406.87" width="3.36" height="3.37" fill="#a2d9a4"/><rect x="608.66" y="406.87" width="3.36" height="3.37" fill="#a4daa4"/><rect x="611.68" y="406.87" width="3.36" height="3.37" fill="#a2d9a4"/><rect x="614.69" y="406.87" width="3.36" height="3.37" fill="#9fd8a4"/><rect x="617.71" y="406.87" width="3.36" height="3.37" fill="#99d6a4"/><rect x="620.72" y="406.87" width="3.36" height="3.37" fill="#94d4a4"/><rect x="623.74" y="406.87" width="3.36" height="3.37" fill="#8fd2a4"/><rect x="626.75" y="406.87" width="3.36" height="3.37" fill="#8cd1a4"/><rect x="629.77" y="406.87" width="3.36" height="3.37" fill="#89d0a4"/><rect x="632.78" y="406.87" width="3.36" height="3.37" fill="#8cd1a4"/><rect x="635.80" y="406.87" width="3.36" height="3.37" fill="#8fd2a4"/><rect x="638.81" y="406.87" width="3.36" height="3.37" fill="#94d4a4"/><rect x="641.82" y="406.87" width="3.36" height="3.37" fill="#99d6a4"/><rect x="644.84" y="406.87" width="3.36" height="3.37" fill="#9fd8a4"/><rect x="647.85" y="406.87" width="3.36" height="3.37" fill="#a4daa4"/><rect x="650.87" y="406.87" width="3.36" height="3.37" fill="#a7dba4"/><rect x="653.88" y="406.87" width="3.36" height="3.37" fill="#acdda4"/><rect x="656.90" y="406.87" width="3.36" height="3.37" fill="#aedea3"/><rect x="659.91" y="406.87" width="3.36" height="3.37" fill="#aedea3"/><rect x="662.93" y="406.87" width="3.36" height="3.37" fill="#b1dfa3"/><rect x="665.94" y="406.87" width="3.36" height="3.37" fill="#b3e0a2"/><rect x="668.96" y="406.87" width="3.36" height="3.37" fill="#b8e2a1"/><rect x="671.97" y="406.87" width="3.36" height="3.37" fill="#bae3a1"/><rect x="674.99" y="406.87" width="3.36" height="3.37" fill="#bfe5a0"/><rect x="554.40" y="409.89" width="3.36" height="3.37" fill="#3389bd"/><rect x="557.41" y="409.89" width="3.36" height="3.37" fill="#358bbc"/><rect x="560.43" y="409.89" width="3.36" height="3.37" fill="#378ebb"/><rect x="563.44" y="409.89" width="3.36" height="3.37" fill="#3990ba"/><rect x="566.46" y="409.89" width="3.36" height="3.37" fill="#3b92b9"/><rect x="569.47" y="409.89" width="3.36" height="3.37" fill="#3b92b9"/><rect x="572.49" y="409.89" width="3.36" height="3.37" fill="#3d95b8"/><rect x="575.50" y="409.89" width="3.36" height="3.37" fill="#4199b6"/><rect x="578.52" y="409.89" width="3.36" height="3.37" fill="#439bb5"/><rect x="581.53" y="409.89" width="3.36" height="3.37" fill="#47a0b3"/><rect x="584.55" y="409.89" width="3.36" height="3.37" fill="#4ea7b0"/><rect x="587.56" y="409.89" width="3.36" height="3.37" fill="#54aead"/><rect x="590.58" y="409.89" width="3.36" height="3.37" fill="#5cb7aa"/><rect x="593.59" y="409.89" width="3.36" height="3.37" fill="#62bda7"/><rect x="596.60" y="409.89" width="3.36" height="3.37" fill="#6ec5a5"/><rect x="599.62" y="409.89" width="3.36" height="3.37" fill="#79c9a5"/><rect x="602.63" y="409.89" width="3.36" height="3.37" fill="#84cea5"/><rect x="605.65" y="409.89" width="3.36" height="3.37" fill="#8cd1a4"/><rect x="608.66" y="409.89" width="3.36" height="3.37" fill="#94d4a4"/><rect x="611.68" y="409.89" width="3.36" height="3.37" fill="#99d6a4"/><rect x="614.69" y="409.89" width="3.36" height="3.37" fill="#9cd7a4"/><rect x="617.71" y="409.89" width="3.36" height="3.37" fill="#9cd7a4"/><rect x="620.72" y="409.89" width="3.36" height="3.37" fill="#97d5a4"/><rect x="623.74" y="409.89" width="3.36" height="3.37" fill="#91d3a4"/><rect x="626.75" y="409.89" width="3.36" height="3.37" fill="#8cd1a4"/><rect x="629.77" y="409.89" width="3.36" height="3.37" fill="#89d0a4"/><rect x="632.78" y="409.89" width="3.36" height="3.37" fill="#89d0a4"/><rect x="635.80" y="409.89" width="3.36" height="3.37" fill="#89d0a4"/><rect x="638.81" y="409.89" width="3.36" height="3.37" fill="#8fd2a4"/><rect x="641.82" y="409.89" width="3.36" height="3.37" fill="#94d4a4"/><rect x="644.84" y="409.89" width="3.36" height="3.37" fill="#9cd7a4"/><rect x="647.85" y="409.89" width="3.36" height="3.37" fill="#a2d9a4"/><rect x="650.87" y="409.89" width="3.36" height="3.37" fill="#a7dba4"/><rect x="653.88" y="409.89" width="3.36" height="3.37" fill="#acdda4"/><rect x="656.90" y="409.89" width="3.36" height="3.37" fill="#b1dfa3"/><rect x="659.91" y="409.89" width="3.36" height="3.37" fill="#b3e0a2"/><rect x="662.93" y="409.89" width="3.36" height="3.37" fill="#b8e2a1"/><rect x="665.94" y="409.89" width="3.36" height="3.37" fill="#bce4a0"/><rect x="668.96" y="409.89" width="3.36" height="3.37" fill="#c1e6a0"/><rect x="671.97" y="409.89" width="3.36" height="3.37" fill="#c6e89f"/><rect x="674.99" y="409.89" width="3.36" height="3.37" fill="#caea9e"/><rect x="554.40" y="412.91" width="3.36" height="3.37" fill="#3389bd"/><rect x="557.41" y="412.91" width="3.36" height="3.37" fill="#358bbc"/><rect x="560.43" y="412.91" width="3.36" height="3.37" fill="#378ebb"/><rect x="563.44" y="412.91" width="3.36" height="3.37" fill="#3b92b9"/><rect x="566.46" y="412.91" width="3.36" height="3.37" fill="#3d95b8"/><rect x="569.47" y="412.91" width="3.36" height="3.37" fill="#3f97b7"/><rect x="572.49" y="412.91" width="3.36" height="3.37" fill="#4199b6"/><rect x="575.50" y="412.91" width="3.36" height="3.37" fill="#459eb4"/><rect x="578.52" y="412.91" width="3.36" height="3.37" fill="#47a0b3"/><rect x="581.53" y="412.91" width="3.36" height="3.37" fill="#49a2b2"/><rect x="584.55" y="412.91" width="3.36" height="3.37" fill="#4ba4b1"/><rect x="587.56" y="412.91" width="3.36" height="3.37" fill="#4ea7b0"/><rect x="590.58" y="412.91" width="3.36" height="3.37" fill="#50a9af"/><rect x="593.59" y="412.91" width="3.36" height="3.37" fill="#54aead"/><rect x="596.60" y="412.91" width="3.36" height="3.37" fill="#58b2ac"/><rect x="599.62" y="412.91" width="3.36" height="3.37" fill="#60bba8"/><rect x="602.63" y="412.91" width="3.36" height="3.37" fill="#6bc4a5"/><rect x="605.65" y="412.91" width="3.36" height="3.37" fill="#79c9a5"/><rect x="608.66" y="412.91" width="3.36" height="3.37" fill="#89d0a4"/><rect x="611.68" y="412.91" width="3.36" height="3.37" fill="#94d4a4"/><rect x="614.69" y="412.91" width="3.36" height="3.37" fill="#9cd7a4"/><rect x="617.71" y="412.91" width="3.36" height="3.37" fill="#9cd7a4"/><rect x="620.72" y="412.91" width="3.36" height="3.37" fill="#99d6a4"/><rect x="623.74" y="412.91" width="3.36" height="3.37" fill="#94d4a4"/><rect x="626.75" y="412.91" width="3.36" height="3.37" fill="#8cd1a4"/><rect x="629.77" y="412.91" width="3.36" height="3.37" fill="#89d0a4"/><rect x="632.78" y="412.91" width="3.36" height="3.37" fill="#86cfa5"/><rect x="635.80" y="412.91" width="3.36" height="3.37" fill="#89d0a4"/><rect x="638.81" y="412.91" width="3.36" height="3.37" fill="#8cd1a4"/><rect x="641.82" y="412.91" width="3.36" height="3.37" fill="#91d3a4"/><rect x="644.84" y="412.91" width="3.36" height="3.37" fill="#99d6a4"/><rect x="647.85" y="412.91" width="3.36" height="3.37" fill="#9fd8a4"/><rect x="650.87" y="412.91" width="3.36" height="3.37" fill="#a7dba4"/><rect x="653.88" y="412.91" width="3.36" height="3.37" fill="#aedea3"/><rect x="656.90" y="412.91" width="3.36" height="3.37" fill="#b3e0a2"/><rect x="659.91" y="412.91" width="3.36" height="3.37" fill="#bae3a1"/><rect x="662.93" y="412.91" width="3.36" height="3.37" fill="#bfe5a0"/><rect x="665.94" y="412.91" width="3.36" height="3.37" fill="#c6e89f"/><rect x="668.96" y="412.91" width="3.36" height="3.37" fill="#caea9e"/><rect x="671.97" y="412.91" width="3.36" height="3.37" fill="#cfec9d"/><rect x="674.99" y="412.91" width="3.36" height="3.37" fill="#d3ed9c"/><rect x="554.40" y="415.93" width="3.36" height="3.37" fill="#3387bc"/><rect x="557.41" y="415.93" width="3.36" height="3.37" fill="#358bbc"/><rect x="560.43" y="415.93" width="3.36" height="3.37" fill="#3990ba"/><rect x="563.44" y="415.93" width="3.36" height="3.37" fill="#3d95b8"/><rect x="566.46" y="415.93" width="3.36" height="3.37" fill="#4199b6"/><rect x="569.47" y="415.93" width="3.36" height="3.37" fill="#459eb4"/><rect x="572.49" y="415.93" width="3.36" height="3.37" fill="#49a2b2"/><rect x="575.50" y="415.93" width="3.36" height="3.37" fill="#4ea7b0"/><rect x="578.52" y="415.93" width="3.36" height="3.37" fill="#50a9af"/><rect x="581.53" y="415.93" width="3.36" height="3.37" fill="#50a9af"/><rect x="584.55" y="415.93" width="3.36" height="3.37" fill="#50a9af"/><rect x="587.56" y="415.93" width="3.36" height="3.37" fill="#4ba4b1"/><rect x="590.58" y="415.93" width="3.36" height="3.37" fill="#49a2b2"/><rect x="593.59" y="415.93" width="3.36" height="3.37" fill="#49a2b2"/><rect x="596.60" y="415.93" width="3.36" height="3.37" fill="#4ba4b1"/><rect x="599.62" y="415.93" width="3.36" height="3.37" fill="#52abae"/><rect x="602.63" y="415.93" width="3.36" height="3.37" fill="#5cb7aa"/><rect x="605.65" y="415.93" width="3.36" height="3.37" fill="#6bc4a5"/><rect x="608.66" y="415.93" width="3.36" height="3.37" fill="#7ecca5"/><rect x="611.68" y="415.93" width="3.36" height="3.37" fill="#8fd2a4"/><rect x="614.69" y="415.93" width="3.36" height="3.37" fill="#99d6a4"/><rect x="617.71" y="415.93" width="3.36" height="3.37" fill="#9fd8a4"/><rect x="620.72" y="415.93" width="3.36" height="3.37" fill="#9cd7a4"/><rect x="623.74" y="415.93" width="3.36" height="3.37" fill="#97d5a4"/><rect x="626.75" y="415.93" width="3.36" height="3.37" fill="#91d3a4"/><rect x="629.77" y="415.93" width="3.36" height="3.37" fill="#89d0a4"/><rect x="632.78" y="415.93" width="3.36" height="3.37" fill="#86cfa5"/><rect x="635.80" y="415.93" width="3.36" height="3.37" fill="#89d0a4"/><rect x="638.81" y="415.93" width="3.36" height="3.37" fill="#8cd1a4"/><rect x="641.82" y="415.93" width="3.36" height="3.37" fill="#91d3a4"/><rect x="644.84" y="415.93" width="3.36" height="3.37" fill="#97d5a4"/><rect x="647.85" y="415.93" width="3.36" height="3.37" fill="#9fd8a4"/><rect x="650.87" y="415.93" width="3.36" height="3.37" fill="#a7dba4"/><rect x="653.88" y="415.93" width="3.36" height="3.37" fill="#aedea3"/><rect x="656.90" y="415.93" width="3.36" height="3.37" fill="#b8e2a1"/><rect x="659.91" y="415.93" width="3.36" height="3.37" fill="#bfe5a0"/><rect x="662.93" y="415.93" width="3.36" height="3.37" fill="#c6e89f"/><rect x="665.94" y="415.93" width="3.36" height="3.37" fill="#cdeb9d"/><rect x="668.96" y="415.93" width="3.36" height="3.37" fill="#d1ed9c"/><rect x="671.97" y="415.93" width="3.36" height="3.37" fill="#d6ee9b"/><rect x="674.99" y="415.93" width="3.36" height="3.37" fill="#d8ef9b"/><rect x="554.40" y="418.95" width="3.36" height="3.37" fill="#3387bc"/><rect x="557.41" y="418.95" width="3.36" height="3.37" fill="#358bbc"/><rect x="560.43" y="418.95" width="3.36" height="3.37" fill="#3990ba"/><rect x="563.44" y="418.95" width="3.36" height="3.37" fill="#3f97b7"/><rect x="566.46" y="418.95" width="3.36" height="3.37" fill="#459eb4"/><rect x="569.47" y="418.95" width="3.36" height="3.37" fill="#4ba4b1"/><rect x="572.49" y="418.95" width="3.36" height="3.37" fill="#52abae"/><rect x="575.50" y="418.95" width="3.36" height="3.37" fill="#56b0ad"/><rect x="578.52" y="418.95" width="3.36" height="3.37" fill="#5ab4ab"/><rect x="581.53" y="418.95" width="3.36" height="3.37" fill="#5ab4ab"/><rect x="584.55" y="418.95" width="3.36" height="3.37" fill="#56b0ad"/><rect x="587.56" y="418.95" width="3.36" height="3.37" fill="#50a9af"/><rect x="590.58" y="418.95" width="3.36" height="3.37" fill="#49a2b2"/><rect x="593.59" y="418.95" width="3.36" height="3.37" fill="#439bb5"/><rect x="596.60" y="418.95" width="3.36" height="3.37" fill="#4199b6"/><rect x="599.62" y="418.95" width="3.36" height="3.37" fill="#459eb4"/><rect x="602.63" y="418.95" width="3.36" height="3.37" fill="#52abae"/><rect x="605.65" y="418.95" width="3.36" height="3.37" fill="#60bba8"/><rect x="608.66" y="418.95" width="3.36" height="3.37" fill="#76c8a5"/><rect x="611.68" y="418.95" width="3.36" height="3.37" fill="#8cd1a4"/><rect x="614.69" y="418.95" width="3.36" height="3.37" fill="#99d6a4"/><rect x="617.71" y="418.95" width="3.36" height="3.37" fill="#a2d9a4"/><rect x="620.72" y="418.95" width="3.36" height="3.37" fill="#a2d9a4"/><rect x="623.74" y="418.95" width="3.36" height="3.37" fill="#9cd7a4"/><rect x="626.75" y="418.95" width="3.36" height="3.37" fill="#94d4a4"/><rect x="629.77" y="418.95" width="3.36" height="3.37" fill="#8fd2a4"/><rect x="632.78" y="418.95" width="3.36" height="3.37" fill="#8cd1a4"/><rect x="635.80" y="418.95" width="3.36" height="3.37" fill="#89d0a4"/><rect x="638.81" y="418.95" width="3.36" height="3.37" fill="#8cd1a4"/><rect x="641.82" y="418.95" width="3.36" height="3.37" fill="#91d3a4"/><rect x="644.84" y="418.95" width="3.36" height="3.37" fill="#99d6a4"/><rect x="647.85" y="418.95" width="3.36" height="3.37" fill="#a2d9a4"/><rect x="650.87" y="418.95" width="3.36" height="3.37" fill="#aadca4"/><rect x="653.88" y="418.95" width="3.36" height="3.37" fill="#b3e0a2"/><rect x="656.90" y="418.95" width="3.36" height="3.37" fill="#bae3a1"/><rect x="659.91" y="418.95" width="3.36" height="3.37" fill="#c3e79f"/><rect x="662.93" y="418.95" width="3.36" height="3.37" fill="#caea9e"/><rect x="665.94" y="418.95" width="3.36" height="3.37" fill="#d1ed9c"/><rect x="668.96" y="418.95" width="3.36" height="3.37" fill="#d6ee9b"/><rect x="671.97" y="418.95" width="3.36" height="3.37" fill="#d8ef9b"/><rect x="674.99" y="418.95" width="3.36" height="3.37" fill="#daf09a"/><rect x="554.40" y="421.97" width="3.36" height="3.37" fill="#3387bc"/><rect x="557.41" y="421.97" width="3.36" height="3.37" fill="#3389bd"/><rect x="560.43" y="421.97" width="3.36" height="3.37" fill="#3990ba"/><rect x="563.44" y="421.97" width="3.36" height="3.37" fill="#4199b6"/><rect x="566.46" y="421.97" width="3.36" height="3.37" fill="#49a2b2"/><rect x="569.47" y="421.97" width="3.36" height="3.37" fill="#52abae"/><rect x="572.49" y="421.97" width="3.36" height="3.37" fill="#5ab4ab"/><rect x="575.50" y="421.97" width="3.36" height="3.37" fill="#60bba8"/><rect x="578.52" y="421.97" width="3.36" height="3.37" fill="#62bda7"/><rect x="581.53" y="421.97" width="3.36" height="3.37" fill="#62bda7"/><rect x="584.55" y="421.97" width="3.36" height="3.37" fill="#5eb9a9"/><rect x="587.56" y="421.97" width="3.36" height="3.37" fill="#56b0ad"/><rect x="590.58" y="421.97" width="3.36" height="3.37" fill="#4ba4b1"/><rect x="593.59" y="421.97" width="3.36" height="3.37" fill="#4199b6"/><rect x="596.60" y="421.97" width="3.36" height="3.37" fill="#3d95b8"/><rect x="599.62" y="421.97" width="3.36" height="3.37" fill="#3f97b7"/><rect x="602.63" y="421.97" width="3.36" height="3.37" fill="#49a2b2"/><rect x="605.65" y="421.97" width="3.36" height="3.37" fill="#5cb7aa"/><rect x="608.66" y="421.97" width="3.36" height="3.37" fill="#71c6a5"/><rect x="611.68" y="421.97" width="3.36" height="3.37" fill="#89d0a4"/><rect x="614.69" y="421.97" width="3.36" height="3.37" fill="#9cd7a4"/><rect x="617.71" y="421.97" width="3.36" height="3.37" fill="#a4daa4"/><rect x="620.72" y="421.97" width="3.36" height="3.37" fill="#a4daa4"/><rect x="623.74" y="421.97" width="3.36" height="3.37" fill="#a2d9a4"/><rect x="626.75" y="421.97" width="3.36" height="3.37" fill="#99d6a4"/><rect x="629.77" y="421.97" width="3.36" height="3.37" fill="#94d4a4"/><rect x="632.78" y="421.97" width="3.36" height="3.37" fill="#91d3a4"/><rect x="635.80" y="421.97" width="3.36" height="3.37" fill="#8fd2a4"/><rect x="638.81" y="421.97" width="3.36" height="3.37" fill="#91d3a4"/><rect x="641.82" y="421.97" width="3.36" height="3.37" fill="#97d5a4"/><rect x="644.84" y="421.97" width="3.36" height="3.37" fill="#9cd7a4"/><rect x="647.85" y="421.97" width="3.36" height="3.37" fill="#a4daa4"/><rect x="650.87" y="421.97" width="3.36" height="3.37" fill="#aedea3"/><rect x="653.88" y="421.97" width="3.36" height="3.37" fill="#b5e1a2"/><rect x="656.90" y="421.97" width="3.36" height="3.37" fill="#bce4a0"/><rect x="659.91" y="421.97" width="3.36" height="3.37" fill="#c6e89f"/><rect x="662.93" y="421.97" width="3.36" height="3.37" fill="#cdeb9d"/><rect x="665.94" y="421.97" width="3.36" height="3.37" fill="#d1ed9c"/><rect x="668.96" y="421.97" width="3.36" height="3.37" fill="#d6ee9b"/><rect x="671.97" y="421.97" width="3.36" height="3.37" fill="#d8ef9b"/><rect x="674.99" y="421.97" width="3.36" height="3.37" fill="#d8ef9b"/><rect x="554.40" y="424.99" width="3.36" height="3.37" fill="#3387bc"/><rect x="557.41" y="424.99" width="3.36" height="3.37" fill="#3389bd"/><rect x="560.43" y="424.99" width="3.36" height="3.37" fill="#3990ba"/><rect x="563.44" y="424.99" width="3.36" height="3.37" fill="#4199b6"/><rect x="566.46" y="424.99" width="3.36" height="3.37" fill="#49a2b2"/><rect x="569.47" y="424.99" width="3.36" height="3.37" fill="#54aead"/><rect x="572.49" y="424.99" width="3.36" height="3.37" fill="#5eb9a9"/><rect x="575.50" y="424.99" width="3.36" height="3.37" fill="#64c0a6"/><rect x="578.52" y="424.99" width="3.36" height="3.37" fill="#69c3a5"/><rect x="581.53" y="424.99" width="3.36" height="3.37" fill="#69c3a5"/><rect x="584.55" y="424.99" width="3.36" height="3.37" fill="#64c0a6"/><rect x="587.56" y="424.99" width="3.36" height="3.37" fill="#5ab4ab"/><rect x="590.58" y="424.99" width="3.36" height="3.37" fill="#4ea7b0"/><rect x="593.59" y="424.99" width="3.36" height="3.37" fill="#4199b6"/><rect x="596.60" y="424.99" width="3.36" height="3.37" fill="#3b92b9"/><rect x="599.62" y="424.99" width="3.36" height="3.37" fill="#3d95b8"/><rect x="602.63" y="424.99" width="3.36" height="3.37" fill="#47a0b3"/><rect x="605.65" y="424.99" width="3.36" height="3.37" fill="#58b2ac"/><rect x="608.66" y="424.99" width="3.36" height="3.37" fill="#6ec5a5"/><rect x="611.68" y="424.99" width="3.36" height="3.37" fill="#89d0a4"/><rect x="614.69" y="424.99" width="3.36" height="3.37" fill="#9cd7a4"/><rect x="617.71" y="424.99" width="3.36" height="3.37" fill="#a7dba4"/><rect x="620.72" y="424.99" width="3.36" height="3.37" fill="#aadca4"/><rect x="623.74" y="424.99" width="3.36" height="3.37" fill="#a7dba4"/><rect x="626.75" y="424.99" width="3.36" height="3.37" fill="#a2d9a4"/><rect x="629.77" y="424.99" width="3.36" height="3.37" fill="#9cd7a4"/><rect x="632.78" y="424.99" width="3.36" height="3.37" fill="#99d6a4"/><rect x="635.80" y="424.99" width="3.36" height="3.37" fill="#99d6a4"/><rect x="638.81" y="424.99" width="3.36" height="3.37" fill="#9cd7a4"/><rect x="641.82" y="424.99" width="3.36" height="3.37" fill="#9fd8a4"/><rect x="644.84" y="424.99" width="3.36" height="3.37" fill="#a7dba4"/><rect x="647.85" y="424.99" width="3.36" height="3.37" fill="#acdda4"/><rect x="650.87" y="424.99" width="3.36" height="3.37" fill="#b3e0a2"/><rect x="653.88" y="424.99" width="3.36" height="3.37" fill="#bae3a1"/><rect x="656.90" y="424.99" width="3.36" height="3.37" fill="#c1e6a0"/><rect x="659.91" y="424.99" width="3.36" height="3.37" fill="#c6e89f"/><rect x="662.93" y="424.99" width="3.36" height="3.37" fill="#cdeb9d"/><rect x="665.94" y="424.99" width="3.36" height="3.37" fill="#cfec9d"/><rect x="668.96" y="424.99" width="3.36" height="3.37" fill="#d1ed9c"/><rect x="671.97" y="424.99" width="3.36" height="3.37" fill="#d3ed9c"/><rect x="674.99" y="424.99" width="3.36" height="3.37" fill="#d1ed9c"/><rect x="554.40" y="428.00" width="3.36" height="3.37" fill="#3585bb"/><rect x="557.41" y="428.00" width="3.36" height="3.37" fill="#3387bc"/><rect x="560.43" y="428.00" width="3.36" height="3.37" fill="#378ebb"/><rect x="563.44" y="428.00" width="3.36" height="3.37" fill="#3f97b7"/><rect x="566.46" y="428.00" width="3.36" height="3.37" fill="#49a2b2"/><rect x="569.47" y="428.00" width="3.36" height="3.37" fill="#54aead"/><rect x="572.49" y="428.00" width="3.36" height="3.37" fill="#5cb7aa"/><rect x="575.50" y="428.00" width="3.36" height="3.37" fill="#64c0a6"/><rect x="578.52" y="428.00" width="3.36" height="3.37" fill="#69c3a5"/><rect x="581.53" y="428.00" width="3.36" height="3.37" fill="#69c3a5"/><rect x="584.55" y="428.00" width="3.36" height="3.37" fill="#62bda7"/><rect x="587.56" y="428.00" width="3.36" height="3.37" fill="#58b2ac"/><rect x="590.58" y="428.00" width="3.36" height="3.37" fill="#4ea7b0"/><rect x="593.59" y="428.00" width="3.36" height="3.37" fill="#4199b6"/><rect x="596.60" y="428.00" width="3.36" height="3.37" fill="#3b92b9"/><rect x="599.62" y="428.00" width="3.36" height="3.37" fill="#3d95b8"/><rect x="602.63" y="428.00" width="3.36" height="3.37" fill="#47a0b3"/><rect x="605.65" y="428.00" width="3.36" height="3.37" fill="#5ab4ab"/><rect x="608.66" y="428.00" width="3.36" height="3.37" fill="#71c6a5"/><rect x="611.68" y="428.00" width="3.36" height="3.37" fill="#89d0a4"/><rect x="614.69" y="428.00" width="3.36" height="3.37" fill="#9fd8a4"/><rect x="617.71" y="428.00" width="3.36" height="3.37" fill="#aadca4"/><rect x="620.72" y="428.00" width="3.36" height="3.37" fill="#acdda4"/><rect x="623.74" y="428.00" width="3.36" height="3.37" fill="#acdda4"/><rect x="626.75" y="428.00" width="3.36" height="3.37" fill="#a7dba4"/><rect x="629.77" y="428.00" width="3.36" height="3.37" fill="#a4daa4"/><rect x="632.78" y="428.00" width="3.36" height="3.37" fill="#a4daa4"/><rect x="635.80" y="428.00" width="3.36" height="3.37" fill="#a4daa4"/><rect x="638.81" y="428.00" width="3.36" height="3.37" fill="#aadca4"/><rect x="641.82" y="428.00" width="3.36" height="3.37" fill="#aedea3"/><rect x="644.84" y="428.00" width="3.36" height="3.37" fill="#b3e0a2"/><rect x="647.85" y="428.00" width="3.36" height="3.37" fill="#b8e2a1"/><rect x="650.87" y="428.00" width="3.36" height="3.37" fill="#bce4a0"/><rect x="653.88" y="428.00" width="3.36" height="3.37" fill="#bfe5a0"/><rect x="656.90" y="428.00" width="3.36" height="3.37" fill="#c3e79f"/><rect x="659.91" y="428.00" width="3.36" height="3.37" fill="#c6e89f"/><rect x="662.93" y="428.00" width="3.36" height="3.37" fill="#c8e99e"/><rect x="665.94" y="428.00" width="3.36" height="3.37" fill="#c8e99e"/><rect x="668.96" y="428.00" width="3.36" height="3.37" fill="#caea9e"/><rect x="671.97" y="428.00" width="3.36" height="3.37" fill="#c8e99e"/><rect x="674.99" y="428.00" width="3.36" height="3.37" fill="#c8e99e"/><rect x="554.40" y="431.02" width="3.36" height="3.37" fill="#3585bb"/><rect x="557.41" y="431.02" width="3.36" height="3.37" fill="#3387bc"/><rect x="560.43" y="431.02" width="3.36" height="3.37" fill="#358bbc"/><rect x="563.44" y="431.02" width="3.36" height="3.37" fill="#3d95b8"/><rect x="566.46" y="431.02" width="3.36" height="3.37" fill="#459eb4"/><rect x="569.47" y="431.02" width="3.36" height="3.37" fill="#4ea7b0"/><rect x="572.49" y="431.02" width="3.36" height="3.37" fill="#56b0ad"/><rect x="575.50" y="431.02" width="3.36" height="3.37" fill="#5cb7aa"/><rect x="578.52" y="431.02" width="3.36" height="3.37" fill="#60bba8"/><rect x="581.53" y="431.02" width="3.36" height="3.37" fill="#60bba8"/><rect x="584.55" y="431.02" width="3.36" height="3.37" fill="#5cb7aa"/><rect x="587.56" y="431.02" width="3.36" height="3.37" fill="#54aead"/><rect x="590.58" y="431.02" width="3.36" height="3.37" fill="#4ba4b1"/><rect x="593.59" y="431.02" width="3.36" height="3.37" fill="#439bb5"/><rect x="596.60" y="431.02" width="3.36" height="3.37" fill="#3f97b7"/><rect x="599.62" y="431.02" width="3.36" height="3.37" fill="#4199b6"/><rect x="602.63" y="431.02" width="3.36" height="3.37" fill="#4ea7b0"/><rect x="605.65" y="431.02" width="3.36" height="3.37" fill="#5eb9a9"/><rect x="608.66" y="431.02" width="3.36" height="3.37" fill="#74c7a5"/><rect x="611.68" y="431.02" width="3.36" height="3.37" fill="#8cd1a4"/><rect x="614.69" y="431.02" width="3.36" height="3.37" fill="#a2d9a4"/><rect x="617.71" y="431.02" width="3.36" height="3.37" fill="#acdda4"/><rect x="620.72" y="431.02" width="3.36" height="3.37" fill="#b1dfa3"/><rect x="623.74" y="431.02" width="3.36" height="3.37" fill="#b1dfa3"/><rect x="626.75" y="431.02" width="3.36" height="3.37" fill="#aedea3"/><rect x="629.77" y="431.02" width="3.36" height="3.37" fill="#aedea3"/><rect x="632.78" y="431.02" width="3.36" height="3.37" fill="#aedea3"/><rect x="635.80" y="431.02" width="3.36" height="3.37" fill="#b3e0a2"/><rect x="638.81" y="431.02" width="3.36" height="3.37" fill="#b8e2a1"/><rect x="641.82" y="431.02" width="3.36" height="3.37" fill="#bce4a0"/><rect x="644.84" y="431.02" width="3.36" height="3.37" fill="#c1e6a0"/><rect x="647.85" y="431.02" width="3.36" height="3.37" fill="#c3e79f"/><rect x="650.87" y="431.02" width="3.36" height="3.37" fill="#c6e89f"/><rect x="653.88" y="431.02" width="3.36" height="3.37" fill="#c6e89f"/><rect x="656.90" y="431.02" width="3.36" height="3.37" fill="#c6e89f"/><rect x="659.91" y="431.02" width="3.36" height="3.37" fill="#c3e79f"/><rect x="662.93" y="431.02" width="3.36" height="3.37" fill="#c1e6a0"/><rect x="665.94" y="431.02" width="3.36" height="3.37" fill="#bfe5a0"/><rect x="668.96" y="431.02" width="3.36" height="3.37" fill="#bce4a0"/><rect x="671.97" y="431.02" width="3.36" height="3.37" fill="#bae3a1"/><rect x="674.99" y="431.02" width="3.36" height="3.37" fill="#bae3a1"/><rect x="554.40" y="434.04" width="3.36" height="3.37" fill="#3682ba"/><rect x="557.41" y="434.04" width="3.36" height="3.37" fill="#3585bb"/><rect x="560.43" y="434.04" width="3.36" height="3.37" fill="#358bbc"/><rect x="563.44" y="434.04" width="3.36" height="3.37" fill="#3990ba"/><rect x="566.46" y="434.04" width="3.36" height="3.37" fill="#3f97b7"/><rect x="569.47" y="434.04" width="3.36" height="3.37" fill="#459eb4"/><rect x="572.49" y="434.04" width="3.36" height="3.37" fill="#4ba4b1"/><rect x="575.50" y="434.04" width="3.36" height="3.37" fill="#52abae"/><rect x="578.52" y="434.04" width="3.36" height="3.37" fill="#54aead"/><rect x="581.53" y="434.04" width="3.36" height="3.37" fill="#54aead"/><rect x="584.55" y="434.04" width="3.36" height="3.37" fill="#52abae"/><rect x="587.56" y="434.04" width="3.36" height="3.37" fill="#4ea7b0"/><rect x="590.58" y="434.04" width="3.36" height="3.37" fill="#47a0b3"/><rect x="593.59" y="434.04" width="3.36" height="3.37" fill="#439bb5"/><rect x="596.60" y="434.04" width="3.36" height="3.37" fill="#439bb5"/><rect x="599.62" y="434.04" width="3.36" height="3.37" fill="#49a2b2"/><rect x="602.63" y="434.04" width="3.36" height="3.37" fill="#54aead"/><rect x="605.65" y="434.04" width="3.36" height="3.37" fill="#64c0a6"/><rect x="608.66" y="434.04" width="3.36" height="3.37" fill="#7ccaa5"/><rect x="611.68" y="434.04" width="3.36" height="3.37" fill="#91d3a4"/><rect x="614.69" y="434.04" width="3.36" height="3.37" fill="#a4daa4"/><rect x="617.71" y="434.04" width="3.36" height="3.37" fill="#aedea3"/><rect x="620.72" y="434.04" width="3.36" height="3.37" fill="#b3e0a2"/><rect x="623.74" y="434.04" width="3.36" height="3.37" fill="#b5e1a2"/><rect x="626.75" y="434.04" width="3.36" height="3.37" fill="#b5e1a2"/><rect x="629.77" y="434.04" width="3.36" height="3.37" fill="#b8e2a1"/><rect x="632.78" y="434.04" width="3.36" height="3.37" fill="#bce4a0"/><rect x="635.80" y="434.04" width="3.36" height="3.37" fill="#c1e6a0"/><rect x="638.81" y="434.04" width="3.36" height="3.37" fill="#c8e99e"/><rect x="641.82" y="434.04" width="3.36" height="3.37" fill="#cfec9d"/><rect x="644.84" y="434.04" width="3.36" height="3.37" fill="#d1ed9c"/><rect x="647.85" y="434.04" width="3.36" height="3.37" fill="#d3ed9c"/><rect x="650.87" y="434.04" width="3.36" height="3.37" fill="#d1ed9c"/><rect x="653.88" y="434.04" width="3.36" height="3.37" fill="#cdeb9d"/><rect x="656.90" y="434.04" width="3.36" height="3.37" fill="#c6e89f"/><rect x="659.91" y="434.04" width="3.36" height="3.37" fill="#bfe5a0"/><rect x="662.93" y="434.04" width="3.36" height="3.37" fill="#b8e2a1"/><rect x="665.94" y="434.04" width="3.36" height="3.37" fill="#b1dfa3"/><rect x="668.96" y="434.04" width="3.36" height="3.37" fill="#acdda4"/><rect x="671.97" y="434.04" width="3.36" height="3.37" fill="#aadca4"/><rect x="674.99" y="434.04" width="3.36" height="3.37" fill="#aadca4"/><rect x="554.40" y="437.06" width="3.36" height="3.37" fill="#3880b9"/><rect x="557.41" y="437.06" width="3.36" height="3.37" fill="#3585bb"/><rect x="560.43" y="437.06" width="3.36" height="3.37" fill="#3389bd"/><rect x="563.44" y="437.06" width="3.36" height="3.37" fill="#378ebb"/><rect x="566.46" y="437.06" width="3.36" height="3.37" fill="#3990ba"/><rect x="569.47" y="437.06" width="3.36" height="3.37" fill="#3d95b8"/><rect x="572.49" y="437.06" width="3.36" height="3.37" fill="#4199b6"/><rect x="575.50" y="437.06" width="3.36" height="3.37" fill="#439bb5"/><rect x="578.52" y="437.06" width="3.36" height="3.37" fill="#459eb4"/><rect x="581.53" y="437.06" width="3.36" height="3.37" fill="#459eb4"/><rect x="584.55" y="437.06" width="3.36" height="3.37" fill="#459eb4"/><rect x="587.56" y="437.06" width="3.36" height="3.37" fill="#459eb4"/><rect x="590.58" y="437.06" width="3.36" height="3.37" fill="#439bb5"/><rect x="593.59" y="437.06" width="3.36" height="3.37" fill="#459eb4"/><rect x="596.60" y="437.06" width="3.36" height="3.37" fill="#49a2b2"/><rect x="599.62" y="437.06" width="3.36" height="3.37" fill="#52abae"/><rect x="602.63" y="437.06" width="3.36" height="3.37" fill="#5cb7aa"/><rect x="605.65" y="437.06" width="3.36" height="3.37" fill="#6ec5a5"/><rect x="608.66" y="437.06" width="3.36" height="3.37" fill="#81cda5"/><rect x="611.68" y="437.06" width="3.36" height="3.37" fill="#97d5a4"/><rect x="614.69" y="437.06" width="3.36" height="3.37" fill="#a7dba4"/><rect x="617.71" y="437.06" width="3.36" height="3.37" fill="#b1dfa3"/><rect x="620.72" y="437.06" width="3.36" height="3.37" fill="#b5e1a2"/><rect x="623.74" y="437.06" width="3.36" height="3.37" fill="#bae3a1"/><rect x="626.75" y="437.06" width="3.36" height="3.37" fill="#bce4a0"/><rect x="629.77" y="437.06" width="3.36" height="3.37" fill="#c1e6a0"/><rect x="632.78" y="437.06" width="3.36" height="3.37" fill="#c8e99e"/><rect x="635.80" y="437.06" width="3.36" height="3.37" fill="#d1ed9c"/><rect x="638.81" y="437.06" width="3.36" height="3.37" fill="#d8ef9b"/><rect x="641.82" y="437.06" width="3.36" height="3.37" fill="#dff299"/><rect x="644.84" y="437.06" width="3.36" height="3.37" fill="#e4f498"/><rect x="647.85" y="437.06" width="3.36" height="3.37" fill="#e1f399"/><rect x="650.87" y="437.06" width="3.36" height="3.37" fill="#daf09a"/><rect x="653.88" y="437.06" width="3.36" height="3.37" fill="#d1ed9c"/><rect x="656.90" y="437.06" width="3.36" height="3.37" fill="#c6e89f"/><rect x="659.91" y="437.06" width="3.36" height="3.37" fill="#bae3a1"/><rect x="662.93" y="437.06" width="3.36" height="3.37" fill="#aedea3"/><rect x="665.94" y="437.06" width="3.36" height="3.37" fill="#a2d9a4"/><rect x="668.96" y="437.06" width="3.36" height="3.37" fill="#99d6a4"/><rect x="671.97" y="437.06" width="3.36" height="3.37" fill="#97d5a4"/><rect x="674.99" y="437.06" width="3.36" height="3.37" fill="#99d6a4"/><rect x="554.40" y="440.08" width="3.36" height="3.37" fill="#3880b9"/><rect x="557.41" y="440.08" width="3.36" height="3.37" fill="#3585bb"/><rect x="560.43" y="440.08" width="3.36" height="3.37" fill="#3387bc"/><rect x="563.44" y="440.08" width="3.36" height="3.37" fill="#3389bd"/><rect x="566.46" y="440.08" width="3.36" height="3.37" fill="#3389bd"/><rect x="569.47" y="440.08" width="3.36" height="3.37" fill="#358bbc"/><rect x="572.49" y="440.08" width="3.36" height="3.37" fill="#3389bd"/><rect x="575.50" y="440.08" width="3.36" height="3.37" fill="#3389bd"/><rect x="578.52" y="440.08" width="3.36" height="3.37" fill="#358bbc"/><rect x="581.53" y="440.08" width="3.36" height="3.37" fill="#358bbc"/><rect x="584.55" y="440.08" width="3.36" height="3.37" fill="#378ebb"/><rect x="587.56" y="440.08" width="3.36" height="3.37" fill="#3b92b9"/><rect x="590.58" y="440.08" width="3.36" height="3.37" fill="#3f97b7"/><rect x="593.59" y="440.08" width="3.36" height="3.37" fill="#459eb4"/><rect x="596.60" y="440.08" width="3.36" height="3.37" fill="#50a9af"/><rect x="599.62" y="440.08" width="3.36" height="3.37" fill="#5ab4ab"/><rect x="602.63" y="440.08" width="3.36" height="3.37" fill="#66c2a5"/><rect x="605.65" y="440.08" width="3.36" height="3.37" fill="#79c9a5"/><rect x="608.66" y="440.08" width="3.36" height="3.37" fill="#8cd1a4"/><rect x="611.68" y="440.08" width="3.36" height="3.37" fill="#9cd7a4"/><rect x="614.69" y="440.08" width="3.36" height="3.37" fill="#aadca4"/><rect x="617.71" y="440.08" width="3.36" height="3.37" fill="#b3e0a2"/><rect x="620.72" y="440.08" width="3.36" height="3.37" fill="#b8e2a1"/><rect x="623.74" y="440.08" width="3.36" height="3.37" fill="#bce4a0"/><rect x="626.75" y="440.08" width="3.36" height="3.37" fill="#c3e79f"/><rect x="629.77" y="440.08" width="3.36" height="3.37" fill="#caea9e"/><rect x="632.78" y="440.08" width="3.36" height="3.37" fill="#d3ed9c"/><rect x="635.80" y="440.08" width="3.36" height="3.37" fill="#dff299"/><rect x="638.81" y="440.08" width="3.36" height="3.37" fill="#e7f59a"/><rect x="641.82" y="440.08" width="3.36" height="3.37" fill="#eaf79e"/><rect x="644.84" y="440.08" width="3.36" height="3.37" fill="#ebf7a0"/><rect x="647.85" y="440.08" width="3.36" height="3.37" fill="#eaf79e"/><rect x="650.87" y="440.08" width="3.36" height="3.37" fill="#e4f498"/><rect x="653.88" y="440.08" width="3.36" height="3.37" fill="#d6ee9b"/><rect x="656.90" y="440.08" width="3.36" height="3.37" fill="#c6e89f"/><rect x="659.91" y="440.08" width="3.36" height="3.37" fill="#b3e0a2"/><rect x="662.93" y="440.08" width="3.36" height="3.37" fill="#a2d9a4"/><rect x="665.94" y="440.08" width="3.36" height="3.37" fill="#91d3a4"/><rect x="668.96" y="440.08" width="3.36" height="3.37" fill="#86cfa5"/><rect x="671.97" y="440.08" width="3.36" height="3.37" fill="#81cda5"/><rect x="674.99" y="440.08" width="3.36" height="3.37" fill="#86cfa5"/><rect x="554.40" y="443.10" width="3.36" height="3.37" fill="#3a7eb8"/><rect x="557.41" y="443.10" width="3.36" height="3.37" fill="#3585bb"/><rect x="560.43" y="443.10" width="3.36" height="3.37" fill="#3387bc"/><rect x="563.44" y="443.10" width="3.36" height="3.37" fill="#3387bc"/><rect x="566.46" y="443.10" width="3.36" height="3.37" fill="#3585bb"/><rect x="569.47" y="443.10" width="3.36" height="3.37" fill="#3880b9"/><rect x="572.49" y="443.10" width="3.36" height="3.37" fill="#3a7eb8"/><rect x="575.50" y="443.10" width="3.36" height="3.37" fill="#3b7cb7"/><rect x="578.52" y="443.10" width="3.36" height="3.37" fill="#3d79b6"/><rect x="581.53" y="443.10" width="3.36" height="3.37" fill="#3d79b6"/><rect x="584.55" y="443.10" width="3.36" height="3.37" fill="#3a7eb8"/><rect x="587.56" y="443.10" width="3.36" height="3.37" fill="#3387bc"/><rect x="590.58" y="443.10" width="3.36" height="3.37" fill="#3b92b9"/><rect x="593.59" y="443.10" width="3.36" height="3.37" fill="#47a0b3"/><rect x="596.60" y="443.10" width="3.36" height="3.37" fill="#54aead"/><rect x="599.62" y="443.10" width="3.36" height="3.37" fill="#62bda7"/><rect x="602.63" y="443.10" width="3.36" height="3.37" fill="#71c6a5"/><rect x="605.65" y="443.10" width="3.36" height="3.37" fill="#84cea5"/><rect x="608.66" y="443.10" width="3.36" height="3.37" fill="#94d4a4"/><rect x="611.68" y="443.10" width="3.36" height="3.37" fill="#a2d9a4"/><rect x="614.69" y="443.10" width="3.36" height="3.37" fill="#acdda4"/><rect x="617.71" y="443.10" width="3.36" height="3.37" fill="#b3e0a2"/><rect x="620.72" y="443.10" width="3.36" height="3.37" fill="#bae3a1"/><rect x="623.74" y="443.10" width="3.36" height="3.37" fill="#c1e6a0"/><rect x="626.75" y="443.10" width="3.36" height="3.37" fill="#c8e99e"/><rect x="629.77" y="443.10" width="3.36" height="3.37" fill="#d1ed9c"/><rect x="632.78" y="443.10" width="3.36" height="3.37" fill="#ddf19a"/><rect x="635.80" y="443.10" width="3.36" height="3.37" fill="#e8f69b"/><rect x="638.81" y="443.10" width="3.36" height="3.37" fill="#edf8a3"/><rect x="641.82" y="443.10" width="3.36" height="3.37" fill="#f0f9a7"/><rect x="644.84" y="443.10" width="3.36" height="3.37" fill="#f1f9a9"/><rect x="647.85" y="443.10" width="3.36" height="3.37" fill="#eff9a6"/><rect x="650.87" y="443.10" width="3.36" height="3.37" fill="#e9f69d"/><rect x="653.88" y="443.10" width="3.36" height="3.37" fill="#daf09a"/><rect x="656.90" y="443.10" width="3.36" height="3.37" fill="#c3e79f"/><rect x="659.91" y="443.10" width="3.36" height="3.37" fill="#aedea3"/><rect x="662.93" y="443.10" width="3.36" height="3.37" fill="#97d5a4"/><rect x="665.94" y="443.10" width="3.36" height="3.37" fill="#81cda5"/><rect x="668.96" y="443.10" width="3.36" height="3.37" fill="#74c7a5"/><rect x="671.97" y="443.10" width="3.36" height="3.37" fill="#71c6a5"/><rect x="674.99" y="443.10" width="3.36" height="3.37" fill="#76c8a5"/><rect x="554.40" y="446.12" width="3.36" height="3.37" fill="#3a7eb8"/><rect x="557.41" y="446.12" width="3.36" height="3.37" fill="#3585bb"/><rect x="560.43" y="446.12" width="3.36" height="3.37" fill="#3387bc"/><rect x="563.44" y="446.12" width="3.36" height="3.37" fill="#3585bb"/><rect x="566.46" y="446.12" width="3.36" height="3.37" fill="#3880b9"/><rect x="569.47" y="446.12" width="3.36" height="3.37" fill="#3d79b6"/><rect x="572.49" y="446.12" width="3.36" height="3.37" fill="#4273b3"/><rect x="575.50" y="446.12" width="3.36" height="3.37" fill="#466eb1"/><rect x="578.52" y="446.12" width="3.36" height="3.37" fill="#486cb0"/><rect x="581.53" y="446.12" width="3.36" height="3.37" fill="#486cb0"/><rect x="584.55" y="446.12" width="3.36" height="3.37" fill="#4273b3"/><rect x="587.56" y="446.12" width="3.36" height="3.37" fill="#3a7eb8"/><rect x="590.58" y="446.12" width="3.36" height="3.37" fill="#378ebb"/><rect x="593.59" y="446.12" width="3.36" height="3.37" fill="#47a0b3"/><rect x="596.60" y="446.12" width="3.36" height="3.37" fill="#58b2ac"/><rect x="599.62" y="446.12" width="3.36" height="3.37" fill="#69c3a5"/><rect x="602.63" y="446.12" width="3.36" height="3.37" fill="#7ccaa5"/><rect x="605.65" y="446.12" width="3.36" height="3.37" fill="#8cd1a4"/><rect x="608.66" y="446.12" width="3.36" height="3.37" fill="#99d6a4"/><rect x="611.68" y="446.12" width="3.36" height="3.37" fill="#a7dba4"/><rect x="614.69" y="446.12" width="3.36" height="3.37" fill="#aedea3"/><rect x="617.71" y="446.12" width="3.36" height="3.37" fill="#b5e1a2"/><rect x="620.72" y="446.12" width="3.36" height="3.37" fill="#bce4a0"/><rect x="623.74" y="446.12" width="3.36" height="3.37" fill="#c6e89f"/><rect x="626.75" y="446.12" width="3.36" height="3.37" fill="#cdeb9d"/><rect x="629.77" y="446.12" width="3.36" height="3.37" fill="#d8ef9b"/><rect x="632.78" y="446.12" width="3.36" height="3.37" fill="#e6f598"/><rect x="635.80" y="446.12" width="3.36" height="3.37" fill="#ecf7a1"/><rect x="638.81" y="446.12" width="3.36" height="3.37" fill="#f1f9a9"/><rect x="641.82" y="446.12" width="3.36" height="3.37" fill="#f5fbaf"/><rect x="644.84" y="446.12" width="3.36" height="3.37" fill="#f5fbaf"/><rect x="647.85" y="446.12" width="3.36" height="3.37" fill="#f2faaa"/><rect x="650.87" y="446.12" width="3.36" height="3.37" fill="#ebf7a0"/><rect x="653.88" y="446.12" width="3.36" height="3.37" fill="#daf09a"/><rect x="656.90" y="446.12" width="3.36" height="3.37" fill="#c1e6a0"/><rect x="659.91" y="446.12" width="3.36" height="3.37" fill="#a7dba4"/><rect x="662.93" y="446.12" width="3.36" height="3.37" fill="#8cd1a4"/><rect x="665.94" y="446.12" width="3.36" height="3.37" fill="#74c7a5"/><rect x="668.96" y="446.12" width="3.36" height="3.37" fill="#66c2a5"/><rect x="671.97" y="446.12" width="3.36" height="3.37" fill="#62bda7"/><rect x="674.99" y="446.12" width="3.36" height="3.37" fill="#6bc4a5"/><rect x="554.40" y="449.14" width="3.36" height="3.37" fill="#3a7eb8"/><rect x="557.41" y="449.14" width="3.36" height="3.37" fill="#3387bc"/><rect x="560.43" y="449.14" width="3.36" height="3.37" fill="#3389bd"/><rect x="563.44" y="449.14" width="3.36" height="3.37" fill="#3387bc"/><rect x="566.46" y="449.14" width="3.36" height="3.37" fill="#3a7eb8"/><rect x="569.47" y="449.14" width="3.36" height="3.37" fill="#4175b4"/><rect x="572.49" y="449.14" width="3.36" height="3.37" fill="#486cb0"/><rect x="575.50" y="449.14" width="3.36" height="3.37" fill="#4d65ad"/><rect x="578.52" y="449.14" width="3.36" height="3.37" fill="#5061aa"/><rect x="581.53" y="449.14" width="3.36" height="3.37" fill="#5061aa"/><rect x="584.55" y="449.14" width="3.36" height="3.37" fill="#4b68ae"/><rect x="587.56" y="449.14" width="3.36" height="3.37" fill="#3f77b5"/><rect x="590.58" y="449.14" width="3.36" height="3.37" fill="#3389bd"/><rect x="593.59" y="449.14" width="3.36" height="3.37" fill="#47a0b3"/><rect x="596.60" y="449.14" width="3.36" height="3.37" fill="#5ab4ab"/><rect x="599.62" y="449.14" width="3.36" height="3.37" fill="#6ec5a5"/><rect x="602.63" y="449.14" width="3.36" height="3.37" fill="#84cea5"/><rect x="605.65" y="449.14" width="3.36" height="3.37" fill="#91d3a4"/><rect x="608.66" y="449.14" width="3.36" height="3.37" fill="#9fd8a4"/><rect x="611.68" y="449.14" width="3.36" height="3.37" fill="#aadca4"/><rect x="614.69" y="449.14" width="3.36" height="3.37" fill="#b1dfa3"/><rect x="617.71" y="449.14" width="3.36" height="3.37" fill="#b8e2a1"/><rect x="620.72" y="449.14" width="3.36" height="3.37" fill="#bfe5a0"/><rect x="623.74" y="449.14" width="3.36" height="3.37" fill="#c8e99e"/><rect x="626.75" y="449.14" width="3.36" height="3.37" fill="#d1ed9c"/><rect x="629.77" y="449.14" width="3.36" height="3.37" fill="#ddf19a"/><rect x="632.78" y="449.14" width="3.36" height="3.37" fill="#e8f69b"/><rect x="635.80" y="449.14" width="3.36" height="3.37" fill="#eef8a4"/><rect x="638.81" y="449.14" width="3.36" height="3.37" fill="#f3faac"/><rect x="641.82" y="449.14" width="3.36" height="3.37" fill="#f7fcb2"/><rect x="644.84" y="449.14" width="3.36" height="3.37" fill="#f7fcb2"/><rect x="647.85" y="449.14" width="3.36" height="3.37" fill="#f3faac"/><rect x="650.87" y="449.14" width="3.36" height="3.37" fill="#ebf7a0"/><rect x="653.88" y="449.14" width="3.36" height="3.37" fill="#daf09a"/><rect x="656.90" y="449.14" width="3.36" height="3.37" fill="#bfe5a0"/><rect x="659.91" y="449.14" width="3.36" height="3.37" fill="#a2d9a4"/><rect x="662.93" y="449.14" width="3.36" height="3.37" fill="#84cea5"/><rect x="665.94" y="449.14" width="3.36" height="3.37" fill="#6bc4a5"/><rect x="668.96" y="449.14" width="3.36" height="3.37" fill="#5eb9a9"/><rect x="671.97" y="449.14" width="3.36" height="3.37" fill="#5cb7aa"/><rect x="674.99" y="449.14" width="3.36" height="3.37" fill="#64c0a6"/><rect x="554.40" y="452.16" width="3.36" height="3.37" fill="#3880b9"/><rect x="557.41" y="452.16" width="3.36" height="3.37" fill="#358bbc"/><rect x="560.43" y="452.16" width="3.36" height="3.37" fill="#378ebb"/><rect x="563.44" y="452.16" width="3.36" height="3.37" fill="#3389bd"/><rect x="566.46" y="452.16" width="3.36" height="3.37" fill="#3880b9"/><rect x="569.47" y="452.16" width="3.36" height="3.37" fill="#3f77b5"/><rect x="572.49" y="452.16" width="3.36" height="3.37" fill="#486cb0"/><rect x="575.50" y="452.16" width="3.36" height="3.37" fill="#4e63ac"/><rect x="578.52" y="452.16" width="3.36" height="3.37" fill="#525fa9"/><rect x="581.53" y="452.16" width="3.36" height="3.37" fill="#525fa9"/><rect x="584.55" y="452.16" width="3.36" height="3.37" fill="#4d65ad"/><rect x="587.56" y="452.16" width="3.36" height="3.37" fill="#4273b3"/><rect x="590.58" y="452.16" width="3.36" height="3.37" fill="#3387bc"/><rect x="593.59" y="452.16" width="3.36" height="3.37" fill="#459eb4"/><rect x="596.60" y="452.16" width="3.36" height="3.37" fill="#5ab4ab"/><rect x="599.62" y="452.16" width="3.36" height="3.37" fill="#71c6a5"/><rect x="602.63" y="452.16" width="3.36" height="3.37" fill="#84cea5"/><rect x="605.65" y="452.16" width="3.36" height="3.37" fill="#94d4a4"/><rect x="608.66" y="452.16" width="3.36" height="3.37" fill="#a2d9a4"/><rect x="611.68" y="452.16" width="3.36" height="3.37" fill="#acdda4"/><rect x="614.69" y="452.16" width="3.36" height="3.37" fill="#b3e0a2"/><rect x="617.71" y="452.16" width="3.36" height="3.37" fill="#bae3a1"/><rect x="620.72" y="452.16" width="3.36" height="3.37" fill="#c1e6a0"/><rect x="623.74" y="452.16" width="3.36" height="3.37" fill="#caea9e"/><rect x="626.75" y="452.16" width="3.36" height="3.37" fill="#d3ed9c"/><rect x="629.77" y="452.16" width="3.36" height="3.37" fill="#ddf19a"/><rect x="632.78" y="452.16" width="3.36" height="3.37" fill="#e8f69b"/><rect x="635.80" y="452.16" width="3.36" height="3.37" fill="#eef8a4"/><rect x="638.81" y="452.16" width="3.36" height="3.37" fill="#f3faac"/><rect x="641.82" y="452.16" width="3.36" height="3.37" fill="#f5fbaf"/><rect x="644.84" y="452.16" width="3.36" height="3.37" fill="#f5fbaf"/><rect x="647.85" y="452.16" width="3.36" height="3.37" fill="#f1f9a9"/><rect x="650.87" y="452.16" width="3.36" height="3.37" fill="#e9f69d"/><rect x="653.88" y="452.16" width="3.36" height="3.37" fill="#d6ee9b"/><rect x="656.90" y="452.16" width="3.36" height="3.37" fill="#bae3a1"/><rect x="659.91" y="452.16" width="3.36" height="3.37" fill="#9cd7a4"/><rect x="662.93" y="452.16" width="3.36" height="3.37" fill="#7ecca5"/><rect x="665.94" y="452.16" width="3.36" height="3.37" fill="#69c3a5"/><rect x="668.96" y="452.16" width="3.36" height="3.37" fill="#5cb7aa"/><rect x="671.97" y="452.16" width="3.36" height="3.37" fill="#5cb7aa"/><rect x="674.99" y="452.16" width="3.36" height="3.37" fill="#64c0a6"/><rect x="554.40" y="455.18" width="3.36" height="3.37" fill="#3682ba"/><rect x="557.41" y="455.18" width="3.36" height="3.37" fill="#378ebb"/><rect x="560.43" y="455.18" width="3.36" height="3.37" fill="#3b92b9"/><rect x="563.44" y="455.18" width="3.36" height="3.37" fill="#3990ba"/><rect x="566.46" y="455.18" width="3.36" height="3.37" fill="#3387bc"/><rect x="569.47" y="455.18" width="3.36" height="3.37" fill="#3a7eb8"/><rect x="572.49" y="455.18" width="3.36" height="3.37" fill="#4273b3"/><rect x="575.50" y="455.18" width="3.36" height="3.37" fill="#496aaf"/><rect x="578.52" y="455.18" width="3.36" height="3.37" fill="#4e63ac"/><rect x="581.53" y="455.18" width="3.36" height="3.37" fill="#4e63ac"/><rect x="584.55" y="455.18" width="3.36" height="3.37" fill="#4b68ae"/><rect x="587.56" y="455.18" width="3.36" height="3.37" fill="#4175b4"/><rect x="590.58" y="455.18" width="3.36" height="3.37" fill="#3387bc"/><rect x="593.59" y="455.18" width="3.36" height="3.37" fill="#439bb5"/><rect x="596.60" y="455.18" width="3.36" height="3.37" fill="#58b2ac"/><rect x="599.62" y="455.18" width="3.36" height="3.37" fill="#6bc4a5"/><rect x="602.63" y="455.18" width="3.36" height="3.37" fill="#81cda5"/><rect x="605.65" y="455.18" width="3.36" height="3.37" fill="#94d4a4"/><rect x="608.66" y="455.18" width="3.36" height="3.37" fill="#a2d9a4"/><rect x="611.68" y="455.18" width="3.36" height="3.37" fill="#acdda4"/><rect x="614.69" y="455.18" width="3.36" height="3.37" fill="#b5e1a2"/><rect x="617.71" y="455.18" width="3.36" height="3.37" fill="#bce4a0"/><rect x="620.72" y="455.18" width="3.36" height="3.37" fill="#c3e79f"/><rect x="623.74" y="455.18" width="3.36" height="3.37" fill="#caea9e"/><rect x="626.75" y="455.18" width="3.36" height="3.37" fill="#d1ed9c"/><rect x="629.77" y="455.18" width="3.36" height="3.37" fill="#daf09a"/><rect x="632.78" y="455.18" width="3.36" height="3.37" fill="#e6f598"/><rect x="635.80" y="455.18" width="3.36" height="3.37" fill="#ebf7a0"/><rect x="638.81" y="455.18" width="3.36" height="3.37" fill="#eff9a6"/><rect x="641.82" y="455.18" width="3.36" height="3.37" fill="#f1f9a9"/><rect x="644.84" y="455.18" width="3.36" height="3.37" fill="#f0f9a7"/><rect x="647.85" y="455.18" width="3.36" height="3.37" fill="#ecf7a1"/><rect x="650.87" y="455.18" width="3.36" height="3.37" fill="#e1f399"/><rect x="653.88" y="455.18" width="3.36" height="3.37" fill="#cdeb9d"/><rect x="656.90" y="455.18" width="3.36" height="3.37" fill="#b3e0a2"/><rect x="659.91" y="455.18" width="3.36" height="3.37" fill="#99d6a4"/><rect x="662.93" y="455.18" width="3.36" height="3.37" fill="#7ecca5"/><rect x="665.94" y="455.18" width="3.36" height="3.37" fill="#6bc4a5"/><rect x="668.96" y="455.18" width="3.36" height="3.37" fill="#62bda7"/><rect x="671.97" y="455.18" width="3.36" height="3.37" fill="#60bba8"/><rect x="674.99" y="455.18" width="3.36" height="3.37" fill="#6ec5a5"/></g></g>
<line x1="554.40" y1="334.50" x2="678.00" y2="334.50" stroke="#262626" stroke-width="1"/>
<line x1="678.50" y1="334.40" x2="678.50" y2="458.20" stroke="#262626" stroke-width="1"/>
<line x1="554.50" y1="333.90" x2="554.50" y2="458.70" stroke="#262626" stroke-width="1"/>
<line x1="553.90" y1="458.50" x2="678.00" y2="458.50" stroke="#262626" stroke-width="1"/>
<line x1="551.20" y1="334.50" x2="554.40" y2="334.50" stroke="#262626" stroke-width="1"/>
<line x1="551.20" y1="355.50" x2="554.40" y2="355.50" stroke="#262626" stroke-width="1"/>
<line x1="551.20" y1="375.50" x2="554.40" y2="375.50" stroke="#262626" stroke-width="1"/>
<line x1="551.20" y1="396.50" x2="554.40" y2="396.50" stroke="#262626" stroke-width="1"/>
<line x1="551.20" y1="416.50" x2="554.40" y2="416.50" stroke="#262626" stroke-width="1"/>
<line x1="551.20" y1="437.50" x2="554.40" y2="437.50" stroke="#262626" stroke-width="1"/>
<line x1="551.20" y1="458.50" x2="554.40" y2="458.50" stroke="#262626" stroke-width="1"/>
<line x1="554.50" y1="458.20" x2="554.50" y2="461.40" stroke="#262626" stroke-width="1"/>
<line x1="591.50" y1="458.20" x2="591.50" y2="461.40" stroke="#262626" stroke-width="1"/>
<line x1="616.50" y1="458.20" x2="616.50" y2="461.40" stroke="#262626" stroke-width="1"/>
<line x1="640.50" y1="458.20" x2="640.50" y2="461.40" stroke="#262626" stroke-width="1"/>
<line x1="678.50" y1="458.20" x2="678.50" y2="461.40" stroke="#262626" stroke-width="1"/>
<text x="556.40" y="477.10" font-size="10.6" text-anchor="middle" fill="#000">-1.5</text>
<text x="617.20" y="477.10" font-size="10.6" text-anchor="middle" fill="#000">0</text>
<text x="678.00" y="477.10" font-size="10.6" text-anchor="middle" fill="#000">1.5</text>
<text x="615.60" y="495.20" font-size="12.5" text-anchor="middle" fill="#000">rpe (z)</text>
</svg></body></html>
